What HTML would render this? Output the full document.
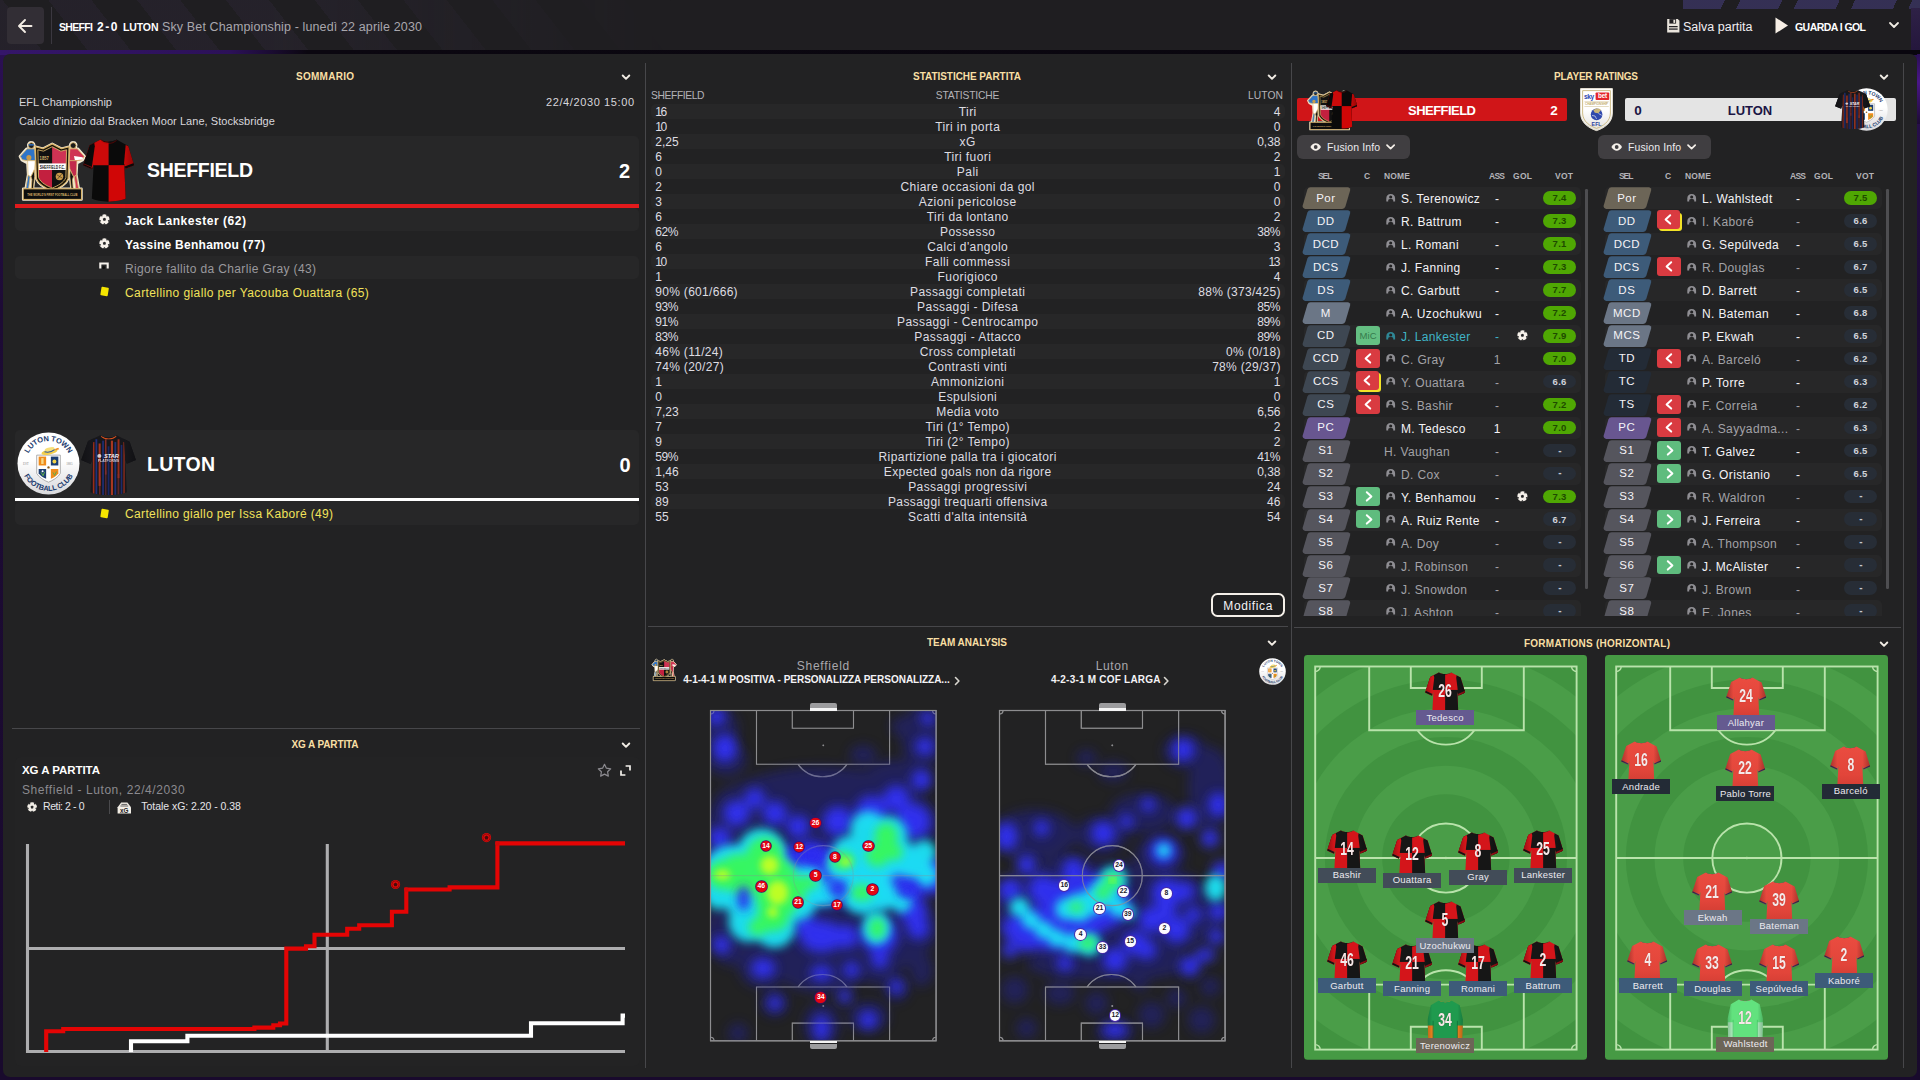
<!DOCTYPE html>
<html lang="it"><head><meta charset="utf-8"><title>Sheffield 2-0 Luton</title>
<style>
html,body{margin:0;padding:0;width:1920px;height:1080px;overflow:hidden}
body{position:relative;background:#190a2d;font-family:"Liberation Sans",sans-serif;-webkit-font-smoothing:antialiased}
body div,body span,body svg{position:absolute;white-space:nowrap}
body span{line-height:1;display:block}
svg{overflow:visible}
</style></head><body>
<svg width="0" height="0" style="left:0;top:0"><defs><linearGradient id="shade" x1="0" y1="0" x2="1" y2="0"><stop offset="0" stop-color="#000" stop-opacity=".28"/><stop offset=".18" stop-color="#000" stop-opacity="0"/><stop offset=".8" stop-color="#000" stop-opacity="0"/><stop offset="1" stop-color="#000" stop-opacity=".3"/></linearGradient><linearGradient id="lutg" x1="0" y1="0" x2="0" y2="1"><stop offset="0" stop-color="#ea4c40"/><stop offset=".55" stop-color="#e2453a"/><stop offset="1" stop-color="#c4372e"/></linearGradient></defs></svg>
<div style="left:0;top:52px;width:1920px;height:1028px;background:linear-gradient(180deg,#2b1053 0,#1d0b35 25%,#190a2d 100%)"></div>
<div style="left:0;top:0;width:1920px;height:52px;background:#1f1e21"></div>
<div style="left:0;top:0;width:900px;height:52px;background:repeating-linear-gradient(52deg,rgba(70,55,90,.17) 0 34px,rgba(0,0,0,0) 34px 70px);-webkit-mask-image:linear-gradient(90deg,#000 0,#000 30%,transparent 75%);mask-image:linear-gradient(90deg,#000 0,#000 30%,transparent 75%)"></div>
<div style="left:1683px;top:0;width:237px;height:8.5px;background:repeating-linear-gradient(115deg,#37325a 0 38px,#1f1e21 38px 52px);opacity:.9"></div>
<div style="left:1911px;top:8px;width:9px;height:44px;background:linear-gradient(180deg,#2e2146,#24163c)"></div>
<div style="left:0;top:50px;width:1920px;height:5px;background:linear-gradient(90deg,#35166a 0,#2c1158 12%,#0b0710 16%,#09060e 100%)"></div>
<div style="left:1917px;top:54px;width:3px;height:70px;background:linear-gradient(180deg,#2a0f55,#4a1688 40%,#1d0b35)"></div>
<div style="left:7px;top:7px;width:37px;height:37px;background:#322e35;border-radius:4px;"></div>
<svg style="left:15px;top:16px;" width="20" height="20"><path d="M16.5 10H4.5M10 4l-6 6 6 6" fill="none" stroke="#f3ece4" stroke-width="1.9" stroke-linecap="round" stroke-linejoin="round"/></svg>
<div style="left:51px;top:7px;width:1px;height:37px;background:#3b3840;"></div>
<span style="left:59px;top:22.21px;font-size:10.5px;color:#fff;font-weight:bold;letter-spacing:-0.67px;">SHEFFI</span>
<span style="left:97px;top:21.14px;font-size:12px;color:#fff;font-weight:bold;letter-spacing:1.58px;">2-0</span>
<span style="left:123px;top:22.21px;font-size:10.5px;color:#fff;font-weight:bold;letter-spacing:-0.12px;">LUTON</span>
<span style="left:162px;top:21.02px;font-size:12.5px;color:#a9a7ad;letter-spacing:0.13px;">Sky Bet Championship - lunedì 22 aprile 2030</span>
<svg style="left:1666.2px;top:18.2px;" width="14.6" height="15.6" viewBox="0 0 13 14"><path d="M1 1h9.5L12 2.5V13H1z" fill="#e9e4dc"/><rect x="3" y="1" width="6" height="4" fill="#1f1e21"/><rect x="6.6" y="1.6" width="1.6" height="2.8" fill="#e9e4dc"/><rect x="2.6" y="7.2" width="7.8" height="1.1" fill="#1f1e21"/><rect x="2.6" y="9.4" width="7.8" height="1.1" fill="#1f1e21"/></svg>
<span style="left:1683px;top:21.02px;font-size:12.5px;color:#f1eef2;">Salva partita</span>
<svg style="left:1775px;top:17px;" width="14" height="17"><path d="M0.5 0.5L13 8.5 0.5 16.5z" fill="#f7efe6"/></svg>
<span style="left:1795px;top:21.91px;font-size:10.5px;color:#fff;font-weight:bold;letter-spacing:-0.56px;">GUARDA I GOL</span>
<svg style="left:1889px;top:22px;" width="10" height="7"><path d="M1 1l4 4 4-4" fill="none" stroke="#f1ece4" stroke-width="1.8" stroke-linecap="round" stroke-linejoin="round"/></svg>
<div style="left:3px;top:54px;width:1914px;height:1023px;background:#222223;border-radius:7px;"></div>
<div style="left:645px;top:63px;width:1.4px;height:1005px;background:#47474a;"></div>
<div style="left:1291.1px;top:63px;width:1.4px;height:1005px;background:#47474a;"></div>
<div style="left:1903px;top:63px;width:1.4px;height:1005px;background:#47474a;"></div>
<div style="left:12px;top:727.5px;width:628px;height:1.3px;background:#47474a;"></div>
<div style="left:648px;top:625.8px;width:640px;height:1.4px;background:#47474a;"></div>
<div style="left:1293.5px;top:626.7px;width:607px;height:1.4px;background:#47474a;"></div>
<span style="left:296px;top:72.23px;font-size:10px;color:#f8dfa4;font-weight:bold;letter-spacing:0.27px;">SOMMARIO</span>
<svg style="left:621px;top:73.5px;" width="10" height="7"><path d="M1.7 1.5l3.3 3.3 3.3-3.3" fill="none" stroke="#f1ece4" stroke-width="1.9" stroke-linecap="round" stroke-linejoin="round"/></svg>
<span style="left:913px;top:72.23px;font-size:10px;color:#f8dfa4;font-weight:bold;letter-spacing:-0.04px;">STATISTICHE PARTITA</span>
<svg style="left:1267px;top:73.5px;" width="10" height="7"><path d="M1.7 1.5l3.3 3.3 3.3-3.3" fill="none" stroke="#f1ece4" stroke-width="1.9" stroke-linecap="round" stroke-linejoin="round"/></svg>
<span style="left:1554px;top:72.23px;font-size:10px;color:#f8dfa4;font-weight:bold;letter-spacing:-0.21px;">PLAYER RATINGS</span>
<svg style="left:1879px;top:73.5px;" width="10" height="7"><path d="M1.7 1.5l3.3 3.3 3.3-3.3" fill="none" stroke="#f1ece4" stroke-width="1.9" stroke-linecap="round" stroke-linejoin="round"/></svg>
<span style="left:291.5px;top:740.24px;font-size:10px;color:#f8dfa4;font-weight:bold;letter-spacing:-0.12px;">XG A PARTITA</span>
<svg style="left:621px;top:741.5px;" width="10" height="7"><path d="M1.7 1.5l3.3 3.3 3.3-3.3" fill="none" stroke="#f1ece4" stroke-width="1.9" stroke-linecap="round" stroke-linejoin="round"/></svg>
<span style="left:927px;top:638.24px;font-size:10px;color:#f8dfa4;font-weight:bold;letter-spacing:-0.03px;">TEAM ANALYSIS</span>
<svg style="left:1267px;top:639.5px;" width="10" height="7"><path d="M1.7 1.5l3.3 3.3 3.3-3.3" fill="none" stroke="#f1ece4" stroke-width="1.9" stroke-linecap="round" stroke-linejoin="round"/></svg>
<span style="left:1524px;top:639.24px;font-size:10px;color:#f8dfa4;font-weight:bold;letter-spacing:0.24px;">FORMATIONS (HORIZONTAL)</span>
<svg style="left:1879px;top:640.5px;" width="10" height="7"><path d="M1.7 1.5l3.3 3.3 3.3-3.3" fill="none" stroke="#f1ece4" stroke-width="1.9" stroke-linecap="round" stroke-linejoin="round"/></svg>
<span style="left:19px;top:96.69px;font-size:11px;color:#d8d6dc;letter-spacing:-0.01px;">EFL Championship</span>
<span style="left:19px;top:115.69px;font-size:11px;color:#d8d6dc;letter-spacing:0.05px;">Calcio d'inizio dal Bracken Moor Lane, Stocksbridge</span>
<span style="left:546px;top:96.69px;font-size:11px;color:#d8d6dc;letter-spacing:0.61px;">22/4/2030 15:00</span>
<div style="left:15px;top:136px;width:624px;height:72px;background:#272728;border-radius:5px 5px 0 0;"></div>
<div style="left:15px;top:204.3px;width:624px;height:3.5px;background:#e21a1c;"></div>
<svg style="left:16.6px;top:138.6px;" width="69.5" height="62.55" viewBox="-1 -0.5 72 63.8"><g stroke="#f3ead6" stroke-width="2.6" stroke-linejoin="round" fill="#f3ead6"><rect x="5.4" y="50.6" width="60.4" height="11" /><path d="M18 7L26 9 35.5 4 45 9 53 7 52 40C50 46 42 50 35.5 52.5 29 50 21 46 19 40z"/><path d="M13.8 2.5a3.2 3.2 0 1 1 -0.1 0M9 9H17.5L18 22 17 38 15.5 50.5H8L10.5 36 9.8 24 4 21 2 17z"/><path d="M57.2 2.5a3.2 3.2 0 1 0 0.1 0M62 9H53.5L53 22 54 38 55.5 50.5H63L60.5 36 61.2 24 67 21 69 17z"/></g><circle cx="13.8" cy="5.8" r="3" fill="#1a1a1a" stroke="#d9b46a" stroke-width=".9"/><path d="M11 4.3h5.6v1.5H11z" fill="#2f6fc0"/><path d="M9.5 9.2H17.3L18 21.5H10L4.5 20.5 2.4 17z" fill="#2e74c8" stroke="#d9b46a" stroke-width=".9" stroke-linejoin="round"/><circle cx="11.3" cy="18.3" r="2.6" fill="#c99a4a"/><path d="M10 21.5H18L17.2 30 13.5 38 10.5 36.5z" fill="#fff" stroke="#d9b46a" stroke-width=".6"/><path d="M13.5 38L17 31 17.3 38 15.8 50.5H13.8L14.5 41z" fill="#111" stroke="#d9b46a" stroke-width=".8"/><path d="M10.5 36.5L12.6 38 11 50.5H8.2z" fill="#2e74c8" stroke="#d9b46a" stroke-width=".8"/><circle cx="57.2" cy="5.8" r="3" fill="#1a1a1a" stroke="#d9b46a" stroke-width=".9"/><path d="M61.5 9.2H53.7L53 21.5H61L66.5 20.5 68.6 17z" fill="#cf3354" stroke="#d9b46a" stroke-width=".9" stroke-linejoin="round"/><path d="M58 16.5L67 18 67.5 20.3 59 21z" fill="#fff"/><path d="M61 21.5H53L53.8 30 57.5 38 60.5 36.5z" fill="#c22a4c" stroke="#d9b46a" stroke-width=".6"/><path d="M57.5 38L54 31 53.7 38 55.2 50.5H57.2L56.5 41z" fill="#111" stroke="#d9b46a" stroke-width=".8"/><path d="M60.5 36.5L58.4 38 60 50.5H62.8z" fill="#cf3354" stroke="#d9b46a" stroke-width=".8"/><defs><clipPath id="shc"><path d="M20.6 10.2L26.5 11.6 35.5 7 44.5 11.6 50.4 10.2 49.6 39C47.5 44.2 41 47.6 35.5 49.8 30 47.6 23.5 44.2 21.4 39z"/></clipPath></defs><path d="M18 7L26 9 35.5 4 45 9 53 7 52 40C50 46 42 50 35.5 52.5 29 50 21 46 19 40z" fill="#1a1408" stroke="#d9b46a" stroke-width="1.3" stroke-linejoin="round"/><g clip-path="url(#shc)"><rect x="18" y="4" width="17.4" height="21" fill="#111"/><rect x="35.4" y="4" width="18" height="21" fill="#cf3354"/><rect x="18" y="30" width="17.4" height="24" fill="#c3203f"/><rect x="35.4" y="30" width="18" height="24" fill="#111"/><rect x="18" y="24.3" width="36" height="6.8" fill="#fff"/></g><path d="M20.6 10.2L26.5 11.6 35.5 7 44.5 11.6 50.4 10.2 49.6 39C47.5 44.2 41 47.6 35.5 49.8 30 47.6 23.5 44.2 21.4 39z" fill="none" stroke="#d9b46a" stroke-width=".9"/><circle cx="43" cy="37.8" r="3.9" fill="#c99a4a"/><path d="M40 36l6 3.5M41 40.5l4.5-5.5" stroke="#111" stroke-width=".5"/><text x="27.2" y="20.4" font-size="4.8" font-weight="bold" fill="#d9b46a" text-anchor="middle" font-family="Liberation Sans,sans-serif" textLength="9.5" lengthAdjust="spacingAndGlyphs">1857</text><text x="35.6" y="29.9" font-size="4.6" font-weight="bold" fill="#111" text-anchor="middle" font-family="Liberation Sans,sans-serif" textLength="26" lengthAdjust="spacingAndGlyphs">SHEFFIELD F.C.</text><rect x="5.4" y="50.6" width="60.4" height="11" fill="#0d0d0d" stroke="#d9b46a" stroke-width="1.1"/><text x="35.6" y="57.6" font-size="3.5" font-weight="bold" fill="#d9b46a" text-anchor="middle" font-family="Liberation Sans,sans-serif" textLength="52" lengthAdjust="spacingAndGlyphs">THE WORLD'S FIRST FOOTBALL CLUB</text></svg>
<svg style="left:83px;top:138.7px;overflow:hidden" width="51.5" height="63.3" viewBox="0 0 70 86" preserveAspectRatio="none"><defs><clipPath id="sc1"><path d="M24 0.8 C29 4.5 40.5 4.5 45.5 0.8 L61.5 9.5 L69.5 35.5 L57.8 40.5 L56 34.5 L58 81 C48 86.5 21 86.5 12 81 L14.5 34.5 L12.3 41 L0.3 35.5 L9 8.5 Z"/></clipPath></defs><g clip-path="url(#sc1)"><rect width="70" height="90" fill="#0a0a0a"/><path d="M9 0H34.8V35.5H14L12 42 0 36z" fill="#cc0a0a"/><path d="M0 0H14.5L16 10 11.5 42 0 38z" fill="#0a0a0a"/><rect x="34.8" y="35.5" width="30" height="55" fill="#d00606"/><path d="M58 8L70 12V40L57.8 40.5 55.8 33z" fill="#c80808"/><path d="M56.5 37.5L69.5 32.5 70 37 58 42z" fill="#0a0a0a"/><path d="M0.5 33.5L12.8 38.8" stroke="#c01010" stroke-width="0.9" fill="none"/><path d="M23 0C29 7 41 7 46.5 0L45 -1H25z" fill="#111"/><path d="M24 1.5C30 7.5 40 7.5 45.8 1.5" stroke="#a00" stroke-width="0.6" fill="none"/><rect x="0" y="0" width="70" height="90" fill="url(#shade)"/></g></svg>
<span style="left:147px;top:161.29px;font-size:19.5px;color:#fff;font-weight:bold;letter-spacing:-0.29px;">SHEFFIELD</span>
<span style="left:618.88px;top:161.27px;font-size:20px;color:#fff;font-weight:bold;">2</span>
<div style="left:15px;top:208.3px;width:624px;height:23.2px;background:#272728;border-radius:5px;"></div>
<span style="left:125px;top:214.74px;font-size:12px;color:#fff;font-weight:bold;letter-spacing:0.53px;">Jack Lankester (62)</span>
<svg style="left:98.7px;top:214.4px;" width="10.8" height="10.8" viewBox="0 0 12 12"><circle cx="6" cy="6" r="5.7" fill="#f6f1ea"/><path d="M8.02 0.14L10.95 2.27L8.29 2.84zM12.20 6.11L11.08 9.56L9.71 7.21zM7.81 11.93L4.19 11.93L6.00 9.90zM0.92 9.56L-0.20 6.11L2.29 7.21zM1.05 2.27L3.98 0.14L3.71 2.84zM6.00 4.10L7.81 5.41L7.12 7.54L4.88 7.54L4.19 5.41z" fill="#272728"/></svg>
<span style="left:125px;top:238.74px;font-size:12px;color:#fff;font-weight:bold;letter-spacing:0.26px;">Yassine Benhamou (77)</span>
<svg style="left:98.7px;top:238.4px;" width="10.8" height="10.8" viewBox="0 0 12 12"><circle cx="6" cy="6" r="5.7" fill="#f6f1ea"/><path d="M8.02 0.14L10.95 2.27L8.29 2.84zM12.20 6.11L11.08 9.56L9.71 7.21zM7.81 11.93L4.19 11.93L6.00 9.90zM0.92 9.56L-0.20 6.11L2.29 7.21zM1.05 2.27L3.98 0.14L3.71 2.84zM6.00 4.10L7.81 5.41L7.12 7.54L4.88 7.54L4.19 5.41z" fill="#272728"/></svg>
<div style="left:15px;top:256.3px;width:624px;height:23.2px;background:#272728;border-radius:5px;"></div>
<span style="left:125px;top:262.74px;font-size:12px;color:#9a999d;letter-spacing:0.36px;">Rigore fallito da Charlie Gray (43)</span>
<svg style="left:98.8px;top:262.4px;" width="10" height="8"><path d="M1.3 6.4V1.5h7.4V6.4" fill="none" stroke="#f4f0ea" stroke-width="2.1"/><circle cx="4.6" cy="5.6" r="1.5" fill="#0c0c0c"/></svg>
<span style="left:125px;top:286.74px;font-size:12px;color:#f2e35a;letter-spacing:0.4px;">Cartellino giallo per Yacouba Ouattara (65)</span>
<svg style="left:98.5px;top:286px;" width="11" height="11"><rect x="1.9" y="1.2" width="7.4" height="8.6" rx=".9" fill="#f5e500" transform="rotate(9 5.6 5.5)"/></svg>
<div style="left:15px;top:430px;width:624px;height:71.5px;background:#272728;border-radius:5px 5px 0 0;"></div>
<div style="left:15px;top:498px;width:624px;height:3.3px;background:#fff;"></div>
<svg style="left:17px;top:432px;" width="63" height="63" viewBox="0 0 64 64"><defs><linearGradient id="lg1" x1="0" y1="0" x2="0" y2="1"><stop offset="0.45" stop-color="#fff"/><stop offset="1" stop-color="#d9d9dc"/></linearGradient><path id="lt1" d="M9.2 32A22.8 22.8 0 0 1 54.8 32"/><path id="lb1" d="M4.2 32A27.8 27.8 0 0 0 59.8 32"/></defs><circle cx="32" cy="32" r="31.5" fill="url(#lg1)"/><text font-size="7.6" font-weight="bold" fill="#1b3a6e" font-family="Liberation Sans,sans-serif" letter-spacing="-.1"><textPath href="#lt1" startOffset="50%" text-anchor="middle">LUTON TOWN</textPath></text><text font-size="7.4" font-weight="bold" fill="#1b3a6e" font-family="Liberation Sans,sans-serif" letter-spacing="-.1"><textPath href="#lb1" startOffset="50%" text-anchor="middle">FOOTBALL CLUB</textPath></text><text x="9" y="34" font-size="3.2" fill="#8a8a8a" text-anchor="middle" font-family="Liberation Serif,serif">EST</text><text x="53.2" y="34" font-size="3.2" fill="#8a8a8a" text-anchor="middle" font-family="Liberation Serif,serif">1885</text><path d="M20 23.5H44V42C42 46 36 49.5 32 51 28 49.5 22 46 20 42z" fill="#fff" stroke="#9a9a9a" stroke-width=".8"/><rect x="22" y="25" width="7.6" height="9" fill="#f08c1c"/><rect x="34.4" y="25" width="7.6" height="9" fill="#1d3f73"/><path d="M22 37.5h7.6V47.5C26.5 46.5 23.5 44.5 22 42z" fill="#1d3f73"/><path d="M34.4 37.5H42V42C40.5 44.5 37.5 46.5 34.4 47.5z" fill="#f08c1c"/><circle cx="38" cy="30" r="2" fill="#f2d44a"/><rect x="24.6" y="26.5" width="2.4" height="6" fill="#f7d98a"/><path d="M24.5 41l2 3.5 1.5-4" stroke="#5fae4a" stroke-width="1" fill="none"/><path d="M36.5 41l1.8 3.2 1.7-4" stroke="#5fae4a" stroke-width="1" fill="none"/><circle cx="26" cy="39.8" r="1" fill="#fff"/><circle cx="32" cy="36" r="1.2" fill="#8a5a1a"/><ellipse cx="33" cy="20.3" rx="8.3" ry="2.7" fill="#f2cf4e" transform="rotate(-12 33 20.3)"/><ellipse cx="33.2" cy="17.8" rx="5.2" ry="2.2" fill="#f7e07a" transform="rotate(-12 33.2 17.8)"/><path d="M28 20.1c3 .8 7.5 0 10.2-2.2" stroke="#2b56a0" stroke-width="1.1" fill="none"/><path d="M38.5 17.2l3.4-1.2 1 1.6-3.6.9z" fill="#f08c1c"/></svg>
<svg style="left:81px;top:434.6px;overflow:hidden" width="55.3" height="60.8" viewBox="0 0 70 86" preserveAspectRatio="none"><defs><clipPath id="sc2"><path d="M24 0.8 C29 4.5 40.5 4.5 45.5 0.8 L61.5 9.5 L69.5 35.5 L57.8 40.5 L56 34.5 L58 81 C48 86.5 21 86.5 12 81 L14.5 34.5 L12.3 41 L0.3 35.5 L9 8.5 Z"/></clipPath></defs><g clip-path="url(#sc2)"><rect width="70" height="90" fill="#17171b"/><rect x="15" y="10" width="2" height="80" fill="#b8321c" opacity="0.8"/><rect x="18.3" y="6" width="2.3" height="84" fill="#22368c" opacity="0.85"/><rect x="22.3" y="12" width="2.6" height="60" fill="#c43a1e" opacity="0.85"/><rect x="22.8" y="60" width="2" height="30" fill="#a33226" opacity="0.6"/><rect x="26.8" y="8" width="2.2" height="84" fill="#203488" opacity="0.8"/><rect x="30.3" y="6" width="2" height="50" fill="#a8342a" opacity="0.75"/><rect x="30.3" y="50" width="2" height="40" fill="#7a2e3a" opacity="0.6"/><rect x="33.8" y="16" width="2.2" height="70" fill="#1b2c78" opacity="0.8"/><rect x="37.8" y="8" width="2.7" height="84" fill="#c23e22" opacity="0.85"/><rect x="42.3" y="10" width="2.3" height="80" fill="#22368c" opacity="0.8"/><rect x="46.3" y="6" width="2.4" height="55" fill="#b8321c" opacity="0.8"/><rect x="46.3" y="55" width="2.2" height="35" fill="#8c3030" opacity="0.6"/><rect x="50.3" y="14" width="2" height="72" fill="#1f3080" opacity="0.8"/><rect x="53.6" y="10" width="1.8" height="80" fill="#b0341f" opacity="0.75"/><path d="M0 0H16L14 34 12 42 0 38z" fill="#17171b"/><path d="M70 0H54L56 34 58 42 70 38z" fill="#17171b"/><path d="M23 0C29 7.5 41 7.5 46.5 0L45 -1H25z" fill="#17171b"/><path d="M25.5 1.6C30 6.8 40 6.8 44.5 1.6" stroke="#d8501c" stroke-width="1.3" fill="none"/><circle cx="23.2" cy="29.6" r="2.6" fill="#e9e9ee" opacity=".85"/><text x="38.5" y="32.6" font-size="8.2" font-weight="bold" font-style="italic" fill="#f1f1f4" text-anchor="middle" font-family="Liberation Sans,sans-serif" textLength="19" lengthAdjust="spacingAndGlyphs">STAR</text><text x="34.8" y="37.6" font-size="4.2" font-weight="bold" fill="#e4e4ea" opacity=".85" text-anchor="middle" font-family="Liberation Sans,sans-serif" textLength="27" lengthAdjust="spacingAndGlyphs">PLATFORMS</text><rect x="0" y="0" width="70" height="90" fill="url(#shade)"/></g></svg>
<span style="left:147px;top:454.99px;font-size:19.5px;color:#fff;font-weight:bold;letter-spacing:0.3px;">LUTON</span>
<span style="left:619.38px;top:454.87px;font-size:20px;color:#fff;font-weight:bold;">0</span>
<div style="left:15px;top:502.3px;width:624px;height:23.2px;background:#272728;border-radius:5px;"></div>
<span style="left:125px;top:508.44px;font-size:12px;color:#f2e35a;letter-spacing:0.36px;">Cartellino giallo per Issa Kaboré (49)</span>
<svg style="left:98.5px;top:508px;" width="11" height="11"><rect x="1.9" y="1.2" width="7.4" height="8.6" rx=".9" fill="#f5e500" transform="rotate(9 5.6 5.5)"/></svg>
<span style="left:651px;top:91.28px;font-size:10.3px;color:#b4b3b8;letter-spacing:-0.39px;">SHEFFIELD</span>
<span style="left:935.75px;top:91.28px;font-size:10.3px;color:#b4b3b8;letter-spacing:-0.19px;">STATISTICHE</span>
<span style="left:1248px;top:91.28px;font-size:10.3px;color:#b4b3b8;letter-spacing:0.07px;">LUTON</span>
<div style="left:651px;top:104px;width:634px;height:15px;background:#272728;border-radius:5px;"></div>
<span style="left:655.3px;top:106.04px;font-size:12px;color:#dedde2;letter-spacing:-1.4px;">16</span>
<span style="left:958.76px;top:106.04px;font-size:12px;color:#dedde2;letter-spacing:0.42px;">Tiri</span>
<span style="left:1273.83px;top:106.04px;font-size:12px;color:#dedde2;letter-spacing:0.1px;">4</span>
<span style="left:655.3px;top:121.04px;font-size:12px;color:#dedde2;letter-spacing:-1.4px;">10</span>
<span style="left:935.2px;top:121.04px;font-size:12px;color:#dedde2;letter-spacing:0.42px;">Tiri in porta</span>
<span style="left:1273.83px;top:121.04px;font-size:12px;color:#dedde2;letter-spacing:0.1px;">0</span>
<div style="left:651px;top:134px;width:634px;height:15px;background:#272728;border-radius:5px;"></div>
<span style="left:655.3px;top:136.04px;font-size:12px;color:#dedde2;">2,25</span>
<span style="left:959.62px;top:136.04px;font-size:12px;color:#dedde2;letter-spacing:0.42px;">xG</span>
<span style="left:1257.15px;top:136.04px;font-size:12px;color:#dedde2;">0,38</span>
<span style="left:655.3px;top:151.04px;font-size:12px;color:#dedde2;letter-spacing:0.1px;">6</span>
<span style="left:944.17px;top:151.04px;font-size:12px;color:#dedde2;letter-spacing:0.42px;">Tiri fuori</span>
<span style="left:1273.83px;top:151.04px;font-size:12px;color:#dedde2;letter-spacing:0.1px;">2</span>
<div style="left:651px;top:164px;width:634px;height:15px;background:#272728;border-radius:5px;"></div>
<span style="left:655.3px;top:166.04px;font-size:12px;color:#dedde2;letter-spacing:0.1px;">0</span>
<span style="left:956.87px;top:166.04px;font-size:12px;color:#dedde2;letter-spacing:0.42px;">Pali</span>
<span style="left:1273.83px;top:166.04px;font-size:12px;color:#dedde2;">1</span>
<span style="left:655.3px;top:181.04px;font-size:12px;color:#dedde2;letter-spacing:0.1px;">2</span>
<span style="left:900.51px;top:181.04px;font-size:12px;color:#dedde2;letter-spacing:0.42px;">Chiare occasioni da gol</span>
<span style="left:1273.83px;top:181.04px;font-size:12px;color:#dedde2;letter-spacing:0.1px;">0</span>
<div style="left:651px;top:194px;width:634px;height:15px;background:#272728;border-radius:5px;"></div>
<span style="left:655.3px;top:196.04px;font-size:12px;color:#dedde2;letter-spacing:0.1px;">3</span>
<span style="left:918.78px;top:196.04px;font-size:12px;color:#dedde2;letter-spacing:0.42px;">Azioni pericolose</span>
<span style="left:1273.83px;top:196.04px;font-size:12px;color:#dedde2;letter-spacing:0.1px;">0</span>
<span style="left:655.3px;top:211.04px;font-size:12px;color:#dedde2;letter-spacing:0.1px;">6</span>
<span style="left:926.76px;top:211.04px;font-size:12px;color:#dedde2;letter-spacing:0.42px;">Tiri da lontano</span>
<span style="left:1273.83px;top:211.04px;font-size:12px;color:#dedde2;letter-spacing:0.1px;">2</span>
<div style="left:651px;top:224px;width:634px;height:15px;background:#272728;border-radius:5px;"></div>
<span style="left:655.3px;top:226.04px;font-size:12px;color:#dedde2;letter-spacing:-0.4px;">62%</span>
<span style="left:940.02px;top:226.04px;font-size:12px;color:#dedde2;letter-spacing:0.42px;">Possesso</span>
<span style="left:1257.28px;top:226.04px;font-size:12px;color:#dedde2;letter-spacing:-0.4px;">38%</span>
<span style="left:655.3px;top:241.04px;font-size:12px;color:#dedde2;letter-spacing:0.1px;">6</span>
<span style="left:927.27px;top:241.04px;font-size:12px;color:#dedde2;letter-spacing:0.42px;">Calci d'angolo</span>
<span style="left:1273.83px;top:241.04px;font-size:12px;color:#dedde2;letter-spacing:0.1px;">3</span>
<div style="left:651px;top:254px;width:634px;height:15px;background:#272728;border-radius:5px;"></div>
<span style="left:655.3px;top:256.04px;font-size:12px;color:#dedde2;letter-spacing:-1.4px;">10</span>
<span style="left:925.1px;top:256.04px;font-size:12px;color:#dedde2;letter-spacing:0.42px;">Falli commessi</span>
<span style="left:1268.55px;top:256.04px;font-size:12px;color:#dedde2;letter-spacing:-1.4px;">13</span>
<span style="left:655.3px;top:271.04px;font-size:12px;color:#dedde2;">1</span>
<span style="left:937.6px;top:271.04px;font-size:12px;color:#dedde2;letter-spacing:0.42px;">Fuorigioco</span>
<span style="left:1273.83px;top:271.04px;font-size:12px;color:#dedde2;letter-spacing:0.1px;">4</span>
<div style="left:651px;top:284px;width:634px;height:15px;background:#272728;border-radius:5px;"></div>
<span style="left:655.3px;top:286.04px;font-size:12px;color:#dedde2;letter-spacing:0.3px;">90% (601/666)</span>
<span style="left:910.03px;top:286.04px;font-size:12px;color:#dedde2;letter-spacing:0.42px;">Passaggi completati</span>
<span style="left:1198.19px;top:286.04px;font-size:12px;color:#dedde2;letter-spacing:0.3px;">88% (373/425)</span>
<span style="left:655.3px;top:301.04px;font-size:12px;color:#dedde2;letter-spacing:-0.4px;">93%</span>
<span style="left:917.12px;top:301.04px;font-size:12px;color:#dedde2;letter-spacing:0.42px;">Passaggi - Difesa</span>
<span style="left:1257.28px;top:301.04px;font-size:12px;color:#dedde2;letter-spacing:-0.4px;">85%</span>
<div style="left:651px;top:314px;width:634px;height:15px;background:#272728;border-radius:5px;"></div>
<span style="left:655.3px;top:316.04px;font-size:12px;color:#dedde2;letter-spacing:-0.4px;">91%</span>
<span style="left:897.06px;top:316.04px;font-size:12px;color:#dedde2;letter-spacing:0.42px;">Passaggi - Centrocampo</span>
<span style="left:1257.28px;top:316.04px;font-size:12px;color:#dedde2;letter-spacing:-0.4px;">89%</span>
<span style="left:655.3px;top:331.04px;font-size:12px;color:#dedde2;letter-spacing:-0.4px;">83%</span>
<span style="left:914.24px;top:331.04px;font-size:12px;color:#dedde2;letter-spacing:0.42px;">Passaggi - Attacco</span>
<span style="left:1257.28px;top:331.04px;font-size:12px;color:#dedde2;letter-spacing:-0.4px;">89%</span>
<div style="left:651px;top:344px;width:634px;height:15px;background:#272728;border-radius:5px;"></div>
<span style="left:655.3px;top:346.04px;font-size:12px;color:#dedde2;letter-spacing:0.3px;">46% (11/24)</span>
<span style="left:919.67px;top:346.04px;font-size:12px;color:#dedde2;letter-spacing:0.42px;">Cross completati</span>
<span style="left:1226.08px;top:346.04px;font-size:12px;color:#dedde2;letter-spacing:0.3px;">0% (0/18)</span>
<span style="left:655.3px;top:361.04px;font-size:12px;color:#dedde2;letter-spacing:0.3px;">74% (20/27)</span>
<span style="left:928.22px;top:361.04px;font-size:12px;color:#dedde2;letter-spacing:0.42px;">Contrasti vinti</span>
<span style="left:1212.13px;top:361.04px;font-size:12px;color:#dedde2;letter-spacing:0.3px;">78% (29/37)</span>
<div style="left:651px;top:374px;width:634px;height:15px;background:#272728;border-radius:5px;"></div>
<span style="left:655.3px;top:376.04px;font-size:12px;color:#dedde2;">1</span>
<span style="left:931.06px;top:376.04px;font-size:12px;color:#dedde2;letter-spacing:0.42px;">Ammonizioni</span>
<span style="left:1273.83px;top:376.04px;font-size:12px;color:#dedde2;">1</span>
<span style="left:655.3px;top:391.04px;font-size:12px;color:#dedde2;letter-spacing:0.1px;">0</span>
<span style="left:938.26px;top:391.04px;font-size:12px;color:#dedde2;letter-spacing:0.42px;">Espulsioni</span>
<span style="left:1273.83px;top:391.04px;font-size:12px;color:#dedde2;letter-spacing:0.1px;">0</span>
<div style="left:651px;top:404px;width:634px;height:15px;background:#272728;border-radius:5px;"></div>
<span style="left:655.3px;top:406.04px;font-size:12px;color:#dedde2;">7,23</span>
<span style="left:936.26px;top:406.04px;font-size:12px;color:#dedde2;letter-spacing:0.42px;">Media voto</span>
<span style="left:1257.15px;top:406.04px;font-size:12px;color:#dedde2;">6,56</span>
<span style="left:655.3px;top:421.04px;font-size:12px;color:#dedde2;letter-spacing:0.1px;">7</span>
<span style="left:925.49px;top:421.04px;font-size:12px;color:#dedde2;letter-spacing:0.42px;">Tiri (1° Tempo)</span>
<span style="left:1273.83px;top:421.04px;font-size:12px;color:#dedde2;letter-spacing:0.1px;">2</span>
<div style="left:651px;top:434px;width:634px;height:15px;background:#272728;border-radius:5px;"></div>
<span style="left:655.3px;top:436.04px;font-size:12px;color:#dedde2;letter-spacing:0.1px;">9</span>
<span style="left:925.49px;top:436.04px;font-size:12px;color:#dedde2;letter-spacing:0.42px;">Tiri (2° Tempo)</span>
<span style="left:1273.83px;top:436.04px;font-size:12px;color:#dedde2;letter-spacing:0.1px;">2</span>
<span style="left:655.3px;top:451.04px;font-size:12px;color:#dedde2;letter-spacing:-0.4px;">59%</span>
<span style="left:878.53px;top:451.04px;font-size:12px;color:#dedde2;letter-spacing:0.42px;">Ripartizione palla tra i giocatori</span>
<span style="left:1257.28px;top:451.04px;font-size:12px;color:#dedde2;letter-spacing:-0.4px;">41%</span>
<div style="left:651px;top:464px;width:634px;height:15px;background:#272728;border-radius:5px;"></div>
<span style="left:655.3px;top:466.04px;font-size:12px;color:#dedde2;">1,46</span>
<span style="left:883.78px;top:466.04px;font-size:12px;color:#dedde2;letter-spacing:0.42px;">Expected goals non da rigore</span>
<span style="left:1257.15px;top:466.04px;font-size:12px;color:#dedde2;">0,38</span>
<span style="left:655.3px;top:481.04px;font-size:12px;color:#dedde2;letter-spacing:0.1px;">53</span>
<span style="left:908.15px;top:481.04px;font-size:12px;color:#dedde2;letter-spacing:0.42px;">Passaggi progressivi</span>
<span style="left:1267.05px;top:481.04px;font-size:12px;color:#dedde2;letter-spacing:0.1px;">24</span>
<div style="left:651px;top:494px;width:634px;height:15px;background:#272728;border-radius:5px;"></div>
<span style="left:655.3px;top:496.04px;font-size:12px;color:#dedde2;letter-spacing:0.1px;">89</span>
<span style="left:887.9px;top:496.04px;font-size:12px;color:#dedde2;letter-spacing:0.42px;">Passaggi trequarti offensiva</span>
<span style="left:1267.05px;top:496.04px;font-size:12px;color:#dedde2;letter-spacing:0.1px;">46</span>
<span style="left:655.3px;top:511.04px;font-size:12px;color:#dedde2;letter-spacing:0.1px;">55</span>
<span style="left:908.04px;top:511.04px;font-size:12px;color:#dedde2;letter-spacing:0.42px;">Scatti d'alta intensità</span>
<span style="left:1267.05px;top:511.04px;font-size:12px;color:#dedde2;letter-spacing:0.1px;">54</span>
<div style="left:1211.3px;top:593px;width:73.6px;height:24.2px;border:2px solid #f4efe8;border-radius:6.5px;box-sizing:border-box;background:#1f1f20"></div>
<span style="left:1223.3px;top:599.84px;font-size:12px;color:#f4f2f5;letter-spacing:0.62px;">Modifica</span>
<div style="left:1297px;top:98px;width:270px;height:23px;background:#d01518;border-radius:2px;"></div>
<span style="left:1408px;top:104.2px;font-size:13px;color:#fff;font-weight:bold;letter-spacing:-0.53px;">SHEFFIELD</span>
<span style="left:1550.25px;top:103.77px;font-size:13.5px;color:#fff;font-weight:bold;">2</span>
<svg style="left:1305.5px;top:88.6px;" width="46.5" height="41.85" viewBox="-1 -0.5 72 63.8"><g stroke="#f3ead6" stroke-width="2.6" stroke-linejoin="round" fill="#f3ead6"><rect x="5.4" y="50.6" width="60.4" height="11" /><path d="M18 7L26 9 35.5 4 45 9 53 7 52 40C50 46 42 50 35.5 52.5 29 50 21 46 19 40z"/><path d="M13.8 2.5a3.2 3.2 0 1 1 -0.1 0M9 9H17.5L18 22 17 38 15.5 50.5H8L10.5 36 9.8 24 4 21 2 17z"/><path d="M57.2 2.5a3.2 3.2 0 1 0 0.1 0M62 9H53.5L53 22 54 38 55.5 50.5H63L60.5 36 61.2 24 67 21 69 17z"/></g><circle cx="13.8" cy="5.8" r="3" fill="#1a1a1a" stroke="#d9b46a" stroke-width=".9"/><path d="M11 4.3h5.6v1.5H11z" fill="#2f6fc0"/><path d="M9.5 9.2H17.3L18 21.5H10L4.5 20.5 2.4 17z" fill="#2e74c8" stroke="#d9b46a" stroke-width=".9" stroke-linejoin="round"/><circle cx="11.3" cy="18.3" r="2.6" fill="#c99a4a"/><path d="M10 21.5H18L17.2 30 13.5 38 10.5 36.5z" fill="#fff" stroke="#d9b46a" stroke-width=".6"/><path d="M13.5 38L17 31 17.3 38 15.8 50.5H13.8L14.5 41z" fill="#111" stroke="#d9b46a" stroke-width=".8"/><path d="M10.5 36.5L12.6 38 11 50.5H8.2z" fill="#2e74c8" stroke="#d9b46a" stroke-width=".8"/><circle cx="57.2" cy="5.8" r="3" fill="#1a1a1a" stroke="#d9b46a" stroke-width=".9"/><path d="M61.5 9.2H53.7L53 21.5H61L66.5 20.5 68.6 17z" fill="#cf3354" stroke="#d9b46a" stroke-width=".9" stroke-linejoin="round"/><path d="M58 16.5L67 18 67.5 20.3 59 21z" fill="#fff"/><path d="M61 21.5H53L53.8 30 57.5 38 60.5 36.5z" fill="#c22a4c" stroke="#d9b46a" stroke-width=".6"/><path d="M57.5 38L54 31 53.7 38 55.2 50.5H57.2L56.5 41z" fill="#111" stroke="#d9b46a" stroke-width=".8"/><path d="M60.5 36.5L58.4 38 60 50.5H62.8z" fill="#cf3354" stroke="#d9b46a" stroke-width=".8"/><defs><clipPath id="shc"><path d="M20.6 10.2L26.5 11.6 35.5 7 44.5 11.6 50.4 10.2 49.6 39C47.5 44.2 41 47.6 35.5 49.8 30 47.6 23.5 44.2 21.4 39z"/></clipPath></defs><path d="M18 7L26 9 35.5 4 45 9 53 7 52 40C50 46 42 50 35.5 52.5 29 50 21 46 19 40z" fill="#1a1408" stroke="#d9b46a" stroke-width="1.3" stroke-linejoin="round"/><g clip-path="url(#shc)"><rect x="18" y="4" width="17.4" height="21" fill="#111"/><rect x="35.4" y="4" width="18" height="21" fill="#cf3354"/><rect x="18" y="30" width="17.4" height="24" fill="#c3203f"/><rect x="35.4" y="30" width="18" height="24" fill="#111"/><rect x="18" y="24.3" width="36" height="6.8" fill="#fff"/></g><path d="M20.6 10.2L26.5 11.6 35.5 7 44.5 11.6 50.4 10.2 49.6 39C47.5 44.2 41 47.6 35.5 49.8 30 47.6 23.5 44.2 21.4 39z" fill="none" stroke="#d9b46a" stroke-width=".9"/><circle cx="43" cy="37.8" r="3.9" fill="#c99a4a"/><path d="M40 36l6 3.5M41 40.5l4.5-5.5" stroke="#111" stroke-width=".5"/><text x="27.2" y="20.4" font-size="4.8" font-weight="bold" fill="#d9b46a" text-anchor="middle" font-family="Liberation Sans,sans-serif" textLength="9.5" lengthAdjust="spacingAndGlyphs">1857</text><text x="35.6" y="29.9" font-size="4.6" font-weight="bold" fill="#111" text-anchor="middle" font-family="Liberation Sans,sans-serif" textLength="26" lengthAdjust="spacingAndGlyphs">SHEFFIELD F.C.</text><rect x="5.4" y="50.6" width="60.4" height="11" fill="#0d0d0d" stroke="#d9b46a" stroke-width="1.1"/><text x="35.6" y="57.6" font-size="3.5" font-weight="bold" fill="#d9b46a" text-anchor="middle" font-family="Liberation Sans,sans-serif" textLength="52" lengthAdjust="spacingAndGlyphs">THE WORLD'S FIRST FOOTBALL CLUB</text></svg>
<svg style="left:1325.7px;top:90.4px;overflow:hidden" width="31.6" height="39" viewBox="0 0 70 86" preserveAspectRatio="none"><defs><clipPath id="sc3"><path d="M24 0.8 C29 4.5 40.5 4.5 45.5 0.8 L61.5 9.5 L69.5 35.5 L57.8 40.5 L56 34.5 L58 81 C48 86.5 21 86.5 12 81 L14.5 34.5 L12.3 41 L0.3 35.5 L9 8.5 Z"/></clipPath></defs><g clip-path="url(#sc3)"><rect width="70" height="90" fill="#0a0a0a"/><path d="M9 0H34.8V35.5H14L12 42 0 36z" fill="#cc0a0a"/><path d="M0 0H14.5L16 10 11.5 42 0 38z" fill="#0a0a0a"/><rect x="34.8" y="35.5" width="30" height="55" fill="#d00606"/><path d="M58 8L70 12V40L57.8 40.5 55.8 33z" fill="#c80808"/><path d="M56.5 37.5L69.5 32.5 70 37 58 42z" fill="#0a0a0a"/><path d="M0.5 33.5L12.8 38.8" stroke="#c01010" stroke-width="0.9" fill="none"/><path d="M23 0C29 7 41 7 46.5 0L45 -1H25z" fill="#111"/><path d="M24 1.5C30 7.5 40 7.5 45.8 1.5" stroke="#a00" stroke-width="0.6" fill="none"/><rect x="0" y="0" width="70" height="90" fill="url(#shade)"/></g></svg>
<svg style="left:1580px;top:88px;" width="33" height="43.2" viewBox="0 0 33 43.2"><defs><linearGradient id="eflg" x1="0" y1="0" x2="0" y2="1"><stop offset=".5" stop-color="#fff"/><stop offset="1" stop-color="#e2e0dc"/></linearGradient></defs><path d="M.6.6H32.4V25C32.4 35.5 23 40.5 16.5 42.6 10 40.5.6 35.5.6 25z" fill="url(#eflg)" stroke="#e9e4d6" stroke-width="1"/><path d="M2.6 2.6H30.4V25C30.4 33.8 22.4 38.4 16.5 40.4 10.6 38.4 2.6 33.8 2.6 25z" fill="none" stroke="#c9b57a" stroke-width=".9"/><text x="4" y="10.6" font-size="6.6" font-weight="bold" fill="#2a44b0" font-family="Liberation Sans,sans-serif" letter-spacing="-.4">sky</text><rect x="15.6" y="4.4" width="13.6" height="7.6" rx=".8" fill="#e4262c"/><text x="22.4" y="10.4" font-size="6.4" font-weight="bold" fill="#fff" text-anchor="middle" font-family="Liberation Sans,sans-serif" letter-spacing="-.3">bet</text><rect x="4.4" y="13.6" width="24.4" height="0.5" fill="#cdbb84"/><text x="16.6" y="17" font-size="2.9" font-weight="bold" fill="#c2ad6e" text-anchor="middle" font-family="Liberation Sans,sans-serif" textLength="23" lengthAdjust="spacingAndGlyphs">CHAMPIONSHIP</text><rect x="4.4" y="18" width="24.4" height="0.5" fill="#cdbb84"/><circle cx="16.6" cy="26.4" r="5.8" fill="#3049ad"/><path d="M13.4 22.2c2-2 5.4-2.2 7.6-.3l-2.6 3.3-3.6-.4z" fill="#c9b57a"/><path d="M12 27.5l3 .5 1.6 3M18.5 25.5l3.2 1.8" stroke="#fff" stroke-width=".6" fill="none"/><text x="16.6" y="37.6" font-size="5.6" font-weight="bold" fill="#2a3f9e" text-anchor="middle" font-family="Liberation Sans,sans-serif" textLength="10" lengthAdjust="spacingAndGlyphs">EFL</text></svg>
<div style="left:1625px;top:98px;width:271px;height:23px;background:#e4e4e4;border-radius:2px;"></div>
<span style="left:1634.25px;top:103.77px;font-size:13.5px;color:#1b1545;font-weight:bold;">0</span>
<span style="left:1727.75px;top:104.2px;font-size:13px;color:#1b1545;font-weight:bold;letter-spacing:-0.01px;">LUTON</span>
<svg style="left:1844.5px;top:88px;" width="43" height="43" viewBox="0 0 64 64"><defs><linearGradient id="lg2" x1="0" y1="0" x2="0" y2="1"><stop offset="0.45" stop-color="#fff"/><stop offset="1" stop-color="#d9d9dc"/></linearGradient><path id="lt2" d="M9.2 32A22.8 22.8 0 0 1 54.8 32"/><path id="lb2" d="M4.2 32A27.8 27.8 0 0 0 59.8 32"/></defs><circle cx="32" cy="32" r="31.5" fill="url(#lg2)"/><text font-size="7.6" font-weight="bold" fill="#1b3a6e" font-family="Liberation Sans,sans-serif" letter-spacing="-.1"><textPath href="#lt2" startOffset="50%" text-anchor="middle">LUTON TOWN</textPath></text><text font-size="7.4" font-weight="bold" fill="#1b3a6e" font-family="Liberation Sans,sans-serif" letter-spacing="-.1"><textPath href="#lb2" startOffset="50%" text-anchor="middle">FOOTBALL CLUB</textPath></text><text x="9" y="34" font-size="3.2" fill="#8a8a8a" text-anchor="middle" font-family="Liberation Serif,serif">EST</text><text x="53.2" y="34" font-size="3.2" fill="#8a8a8a" text-anchor="middle" font-family="Liberation Serif,serif">1885</text><path d="M20 23.5H44V42C42 46 36 49.5 32 51 28 49.5 22 46 20 42z" fill="#fff" stroke="#9a9a9a" stroke-width=".8"/><rect x="22" y="25" width="7.6" height="9" fill="#f08c1c"/><rect x="34.4" y="25" width="7.6" height="9" fill="#1d3f73"/><path d="M22 37.5h7.6V47.5C26.5 46.5 23.5 44.5 22 42z" fill="#1d3f73"/><path d="M34.4 37.5H42V42C40.5 44.5 37.5 46.5 34.4 47.5z" fill="#f08c1c"/><circle cx="38" cy="30" r="2" fill="#f2d44a"/><rect x="24.6" y="26.5" width="2.4" height="6" fill="#f7d98a"/><path d="M24.5 41l2 3.5 1.5-4" stroke="#5fae4a" stroke-width="1" fill="none"/><path d="M36.5 41l1.8 3.2 1.7-4" stroke="#5fae4a" stroke-width="1" fill="none"/><circle cx="26" cy="39.8" r="1" fill="#fff"/><circle cx="32" cy="36" r="1.2" fill="#8a5a1a"/><ellipse cx="33" cy="20.3" rx="8.3" ry="2.7" fill="#f2cf4e" transform="rotate(-12 33 20.3)"/><ellipse cx="33.2" cy="17.8" rx="5.2" ry="2.2" fill="#f7e07a" transform="rotate(-12 33.2 17.8)"/><path d="M28 20.1c3 .8 7.5 0 10.2-2.2" stroke="#2b56a0" stroke-width="1.1" fill="none"/><path d="M38.5 17.2l3.4-1.2 1 1.6-3.6.9z" fill="#f08c1c"/></svg>
<svg style="left:1835px;top:90px;overflow:hidden" width="35.5" height="39.5" viewBox="0 0 70 86" preserveAspectRatio="none"><defs><clipPath id="sc4"><path d="M24 0.8 C29 4.5 40.5 4.5 45.5 0.8 L61.5 9.5 L69.5 35.5 L57.8 40.5 L56 34.5 L58 81 C48 86.5 21 86.5 12 81 L14.5 34.5 L12.3 41 L0.3 35.5 L9 8.5 Z"/></clipPath></defs><g clip-path="url(#sc4)"><rect width="70" height="90" fill="#17171b"/><rect x="15" y="10" width="2" height="80" fill="#b8321c" opacity="0.8"/><rect x="18.3" y="6" width="2.3" height="84" fill="#22368c" opacity="0.85"/><rect x="22.3" y="12" width="2.6" height="60" fill="#c43a1e" opacity="0.85"/><rect x="22.8" y="60" width="2" height="30" fill="#a33226" opacity="0.6"/><rect x="26.8" y="8" width="2.2" height="84" fill="#203488" opacity="0.8"/><rect x="30.3" y="6" width="2" height="50" fill="#a8342a" opacity="0.75"/><rect x="30.3" y="50" width="2" height="40" fill="#7a2e3a" opacity="0.6"/><rect x="33.8" y="16" width="2.2" height="70" fill="#1b2c78" opacity="0.8"/><rect x="37.8" y="8" width="2.7" height="84" fill="#c23e22" opacity="0.85"/><rect x="42.3" y="10" width="2.3" height="80" fill="#22368c" opacity="0.8"/><rect x="46.3" y="6" width="2.4" height="55" fill="#b8321c" opacity="0.8"/><rect x="46.3" y="55" width="2.2" height="35" fill="#8c3030" opacity="0.6"/><rect x="50.3" y="14" width="2" height="72" fill="#1f3080" opacity="0.8"/><rect x="53.6" y="10" width="1.8" height="80" fill="#b0341f" opacity="0.75"/><path d="M0 0H16L14 34 12 42 0 38z" fill="#17171b"/><path d="M70 0H54L56 34 58 42 70 38z" fill="#17171b"/><path d="M23 0C29 7.5 41 7.5 46.5 0L45 -1H25z" fill="#17171b"/><path d="M25.5 1.6C30 6.8 40 6.8 44.5 1.6" stroke="#d8501c" stroke-width="1.3" fill="none"/><circle cx="23.2" cy="29.6" r="2.6" fill="#e9e9ee" opacity=".85"/><text x="38.5" y="32.6" font-size="8.2" font-weight="bold" font-style="italic" fill="#f1f1f4" text-anchor="middle" font-family="Liberation Sans,sans-serif" textLength="19" lengthAdjust="spacingAndGlyphs">STAR</text><text x="34.8" y="37.6" font-size="4.2" font-weight="bold" fill="#e4e4ea" opacity=".85" text-anchor="middle" font-family="Liberation Sans,sans-serif" textLength="27" lengthAdjust="spacingAndGlyphs">PLATFORMS</text><rect x="0" y="0" width="70" height="90" fill="url(#shade)"/></g></svg>
<div style="left:1297px;top:135px;width:113px;height:24px;background:#403e41;border-radius:6px;"></div>
<svg style="left:1310.3px;top:143px;" width="11.4" height="8"><path d="M.4 4C2 1.3 3.8.3 5.7.3S9.4 1.3 11 4C9.4 6.7 7.6 7.7 5.7 7.7S2 6.7.4 4z" fill="#f5f0ea"/><circle cx="5.7" cy="4" r="1.9" fill="#403e41"/></svg>
<span style="left:1327px;top:141.91px;font-size:10.5px;color:#ecebee;letter-spacing:0.11px;">Fusion Info</span>
<svg style="left:1386.4px;top:144.4px;" width="9.2" height="6.4"><path d="M1 1.1l3.6 3.6 3.6-3.6" fill="none" stroke="#f5f0ea" stroke-width="1.7" stroke-linecap="round" stroke-linejoin="round"/></svg>
<div style="left:1598px;top:135px;width:113px;height:24px;background:#403e41;border-radius:6px;"></div>
<svg style="left:1611.3px;top:143px;" width="11.4" height="8"><path d="M.4 4C2 1.3 3.8.3 5.7.3S9.4 1.3 11 4C9.4 6.7 7.6 7.7 5.7 7.7S2 6.7.4 4z" fill="#f5f0ea"/><circle cx="5.7" cy="4" r="1.9" fill="#403e41"/></svg>
<span style="left:1628px;top:141.91px;font-size:10.5px;color:#ecebee;letter-spacing:0.11px;">Fusion Info</span>
<svg style="left:1687.4px;top:144.4px;" width="9.2" height="6.4"><path d="M1 1.1l3.6 3.6 3.6-3.6" fill="none" stroke="#f5f0ea" stroke-width="1.7" stroke-linecap="round" stroke-linejoin="round"/></svg>
<span style="left:1317.95px;top:172px;font-size:8.5px;color:#b4b3b8;font-weight:bold;letter-spacing:-1.02px;">SEL</span>
<span style="left:1363.93px;top:172px;font-size:8.5px;color:#b4b3b8;font-weight:bold;">C</span>
<span style="left:1384px;top:172px;font-size:8.5px;color:#b4b3b8;font-weight:bold;letter-spacing:0.17px;">NOME</span>
<span style="left:1489px;top:172px;font-size:8.5px;color:#b4b3b8;font-weight:bold;letter-spacing:-0.74px;">ASS</span>
<span style="left:1513px;top:172px;font-size:8.5px;color:#b4b3b8;font-weight:bold;letter-spacing:0.29px;">GOL</span>
<span style="left:1555px;top:172px;font-size:8.5px;color:#b4b3b8;font-weight:bold;letter-spacing:0.26px;">VOT</span>
<div style="left:1298px;top:186px;width:300px;height:429.8px;overflow:hidden">
<div style="left:6px;top:1px;width:277px;height:22px;background:#272728;border-radius:5px;"></div>
<svg style="left:4px;top:1.0px" width="50" height="23"><path d="M8.6 0.2H45.6a2.6 2.6 0 0 1 2.5 3.3L43.4 19.6a3.4 3.4 0 0 1-3.2 2.3H3.2a2.6 2.6 0 0 1-2.5-3.3L5.4 2.5A3.4 3.4 0 0 1 8.6 .2z" fill="#6c6557"/></svg>
<span style="left:18.15px;top:6.67px;font-size:11.5px;color:#f4f3f6;letter-spacing:0.5px;">Por</span>
<svg style="left:88.3px;top:7.7px;" width="9.4" height="7.6"><path d="M4.7.1C2 .1.3 2 .3 4.4V7.5h1.9V5.9c.5-.6 1.4-1 2.5-1s2 .4 2.5 1v1.6h1.9V4.4C9.1 2 7.4.1 4.7.1z" fill="#8f8e93"/><circle cx="4.7" cy="3" r="1.55" fill="#222223"/></svg>
<span style="left:103px;top:7.14px;font-size:12px;color:#f4f3f6;letter-spacing:0.36px;">S. Terenowicz</span>
<span style="left:197px;top:7.04px;font-size:12px;color:#f4f3f6;">-</span>
<div style="left:245px;top:4.9px;width:33px;height:13.8px;background:#4fa703;border-radius:6.9px;"></div>
<span style="left:254.6px;top:7.16px;font-size:9.5px;color:#1e4a00;font-weight:bold;letter-spacing:0.3px;">7.4</span>
<svg style="left:4px;top:23.97px" width="50" height="23"><path d="M8.6 0.2H45.6a2.6 2.6 0 0 1 2.5 3.3L43.4 19.6a3.4 3.4 0 0 1-3.2 2.3H3.2a2.6 2.6 0 0 1-2.5-3.3L5.4 2.5A3.4 3.4 0 0 1 8.6 .2z" fill="#3d5b79"/></svg>
<span style="left:19.04px;top:29.64px;font-size:11.5px;color:#f4f3f6;letter-spacing:0.5px;">DD</span>
<svg style="left:88.3px;top:30.67px;" width="9.4" height="7.6"><path d="M4.7.1C2 .1.3 2 .3 4.4V7.5h1.9V5.9c.5-.6 1.4-1 2.5-1s2 .4 2.5 1v1.6h1.9V4.4C9.1 2 7.4.1 4.7.1z" fill="#8f8e93"/><circle cx="4.7" cy="3" r="1.55" fill="#222223"/></svg>
<span style="left:103px;top:30.11px;font-size:12px;color:#f4f3f6;letter-spacing:0.36px;">R. Battrum</span>
<span style="left:197px;top:30.01px;font-size:12px;color:#f4f3f6;">-</span>
<div style="left:245px;top:27.87px;width:33px;height:13.8px;background:#4fa703;border-radius:6.9px;"></div>
<span style="left:254.6px;top:30.13px;font-size:9.5px;color:#1e4a00;font-weight:bold;letter-spacing:0.3px;">7.3</span>
<div style="left:6px;top:46.94px;width:277px;height:22px;background:#272728;border-radius:5px;"></div>
<svg style="left:4px;top:46.94px" width="50" height="23"><path d="M8.6 0.2H45.6a2.6 2.6 0 0 1 2.5 3.3L43.4 19.6a3.4 3.4 0 0 1-3.2 2.3H3.2a2.6 2.6 0 0 1-2.5-3.3L5.4 2.5A3.4 3.4 0 0 1 8.6 .2z" fill="#3d5b79"/></svg>
<span style="left:14.64px;top:52.61px;font-size:11.5px;color:#f4f3f6;letter-spacing:0.5px;">DCD</span>
<svg style="left:88.3px;top:53.64px;" width="9.4" height="7.6"><path d="M4.7.1C2 .1.3 2 .3 4.4V7.5h1.9V5.9c.5-.6 1.4-1 2.5-1s2 .4 2.5 1v1.6h1.9V4.4C9.1 2 7.4.1 4.7.1z" fill="#8f8e93"/><circle cx="4.7" cy="3" r="1.55" fill="#222223"/></svg>
<span style="left:103px;top:53.08px;font-size:12px;color:#f4f3f6;letter-spacing:0.36px;">L. Romani</span>
<span style="left:197px;top:52.98px;font-size:12px;color:#f4f3f6;">-</span>
<div style="left:245px;top:50.84px;width:33px;height:13.8px;background:#4fa703;border-radius:6.9px;"></div>
<span style="left:254.6px;top:53.1px;font-size:9.5px;color:#1e4a00;font-weight:bold;letter-spacing:0.3px;">7.1</span>
<svg style="left:4px;top:69.91px" width="50" height="23"><path d="M8.6 0.2H45.6a2.6 2.6 0 0 1 2.5 3.3L43.4 19.6a3.4 3.4 0 0 1-3.2 2.3H3.2a2.6 2.6 0 0 1-2.5-3.3L5.4 2.5A3.4 3.4 0 0 1 8.6 .2z" fill="#3d5b79"/></svg>
<span style="left:14.96px;top:75.58px;font-size:11.5px;color:#f4f3f6;letter-spacing:0.5px;">DCS</span>
<svg style="left:88.3px;top:76.61px;" width="9.4" height="7.6"><path d="M4.7.1C2 .1.3 2 .3 4.4V7.5h1.9V5.9c.5-.6 1.4-1 2.5-1s2 .4 2.5 1v1.6h1.9V4.4C9.1 2 7.4.1 4.7.1z" fill="#8f8e93"/><circle cx="4.7" cy="3" r="1.55" fill="#222223"/></svg>
<span style="left:103px;top:76.05px;font-size:12px;color:#f4f3f6;letter-spacing:0.36px;">J. Fanning</span>
<span style="left:197px;top:75.95px;font-size:12px;color:#f4f3f6;">-</span>
<div style="left:245px;top:73.81px;width:33px;height:13.8px;background:#4fa703;border-radius:6.9px;"></div>
<span style="left:254.6px;top:76.07px;font-size:9.5px;color:#1e4a00;font-weight:bold;letter-spacing:0.3px;">7.3</span>
<div style="left:6px;top:92.88px;width:277px;height:22px;background:#272728;border-radius:5px;"></div>
<svg style="left:4px;top:92.88px" width="50" height="23"><path d="M8.6 0.2H45.6a2.6 2.6 0 0 1 2.5 3.3L43.4 19.6a3.4 3.4 0 0 1-3.2 2.3H3.2a2.6 2.6 0 0 1-2.5-3.3L5.4 2.5A3.4 3.4 0 0 1 8.6 .2z" fill="#3d5b79"/></svg>
<span style="left:19.36px;top:98.55px;font-size:11.5px;color:#f4f3f6;letter-spacing:0.5px;">DS</span>
<svg style="left:88.3px;top:99.58px;" width="9.4" height="7.6"><path d="M4.7.1C2 .1.3 2 .3 4.4V7.5h1.9V5.9c.5-.6 1.4-1 2.5-1s2 .4 2.5 1v1.6h1.9V4.4C9.1 2 7.4.1 4.7.1z" fill="#8f8e93"/><circle cx="4.7" cy="3" r="1.55" fill="#222223"/></svg>
<span style="left:103px;top:99.02px;font-size:12px;color:#f4f3f6;letter-spacing:0.36px;">C. Garbutt</span>
<span style="left:197px;top:98.92px;font-size:12px;color:#f4f3f6;">-</span>
<div style="left:245px;top:96.78px;width:33px;height:13.8px;background:#4fa703;border-radius:6.9px;"></div>
<span style="left:254.6px;top:99.04px;font-size:9.5px;color:#1e4a00;font-weight:bold;letter-spacing:0.3px;">7.7</span>
<svg style="left:4px;top:115.85px" width="50" height="23"><path d="M8.6 0.2H45.6a2.6 2.6 0 0 1 2.5 3.3L43.4 19.6a3.4 3.4 0 0 1-3.2 2.3H3.2a2.6 2.6 0 0 1-2.5-3.3L5.4 2.5A3.4 3.4 0 0 1 8.6 .2z" fill="#6b7686"/></svg>
<span style="left:22.81px;top:121.52px;font-size:11.5px;color:#f4f3f6;letter-spacing:0.5px;">M</span>
<svg style="left:88.3px;top:122.55px;" width="9.4" height="7.6"><path d="M4.7.1C2 .1.3 2 .3 4.4V7.5h1.9V5.9c.5-.6 1.4-1 2.5-1s2 .4 2.5 1v1.6h1.9V4.4C9.1 2 7.4.1 4.7.1z" fill="#8f8e93"/><circle cx="4.7" cy="3" r="1.55" fill="#222223"/></svg>
<span style="left:103px;top:121.99px;font-size:12px;color:#f4f3f6;letter-spacing:0.36px;">A. Uzochukwu</span>
<span style="left:197px;top:121.89px;font-size:12px;color:#f4f3f6;">-</span>
<div style="left:245px;top:119.75px;width:33px;height:13.8px;background:#4fa703;border-radius:6.9px;"></div>
<span style="left:254.6px;top:122.01px;font-size:9.5px;color:#1e4a00;font-weight:bold;letter-spacing:0.3px;">7.2</span>
<div style="left:6px;top:138.82px;width:277px;height:22px;background:#272728;border-radius:5px;"></div>
<svg style="left:4px;top:138.82px" width="50" height="23"><path d="M8.6 0.2H45.6a2.6 2.6 0 0 1 2.5 3.3L43.4 19.6a3.4 3.4 0 0 1-3.2 2.3H3.2a2.6 2.6 0 0 1-2.5-3.3L5.4 2.5A3.4 3.4 0 0 1 8.6 .2z" fill="#3e4752"/></svg>
<span style="left:19.04px;top:144.49px;font-size:11.5px;color:#f4f3f6;letter-spacing:0.5px;">CD</span>
<div style="left:58px;top:139.92px;width:24px;height:18.8px;background:#64bf82;border-radius:3px;"></div>
<span style="left:61.46px;top:145.38px;font-size:9.5px;color:#357a4c;letter-spacing:0.1px;">MiC</span>
<svg style="left:88.3px;top:145.52px;" width="9.4" height="7.6"><path d="M4.7.1C2 .1.3 2 .3 4.4V7.5h1.9V5.9c.5-.6 1.4-1 2.5-1s2 .4 2.5 1v1.6h1.9V4.4C9.1 2 7.4.1 4.7.1z" fill="#2f8795"/><circle cx="4.7" cy="3" r="1.55" fill="#222223"/></svg>
<span style="left:103px;top:144.96px;font-size:12px;color:#3fb4c6;letter-spacing:0.36px;">J. Lankester</span>
<span style="left:197px;top:144.86px;font-size:12px;color:#3fb4c6;">-</span>
<svg style="left:219.3px;top:144.22px;" width="10.8" height="10.8" viewBox="0 0 12 12"><circle cx="6" cy="6" r="5.7" fill="#f6f1ea"/><path d="M8.02 0.14L10.95 2.27L8.29 2.84zM12.20 6.11L11.08 9.56L9.71 7.21zM7.81 11.93L4.19 11.93L6.00 9.90zM0.92 9.56L-0.20 6.11L2.29 7.21zM1.05 2.27L3.98 0.14L3.71 2.84zM6.00 4.10L7.81 5.41L7.12 7.54L4.88 7.54L4.19 5.41z" fill="#242425"/></svg>
<div style="left:245px;top:142.72px;width:33px;height:13.8px;background:#4fa703;border-radius:6.9px;"></div>
<span style="left:254.6px;top:144.98px;font-size:9.5px;color:#1e4a00;font-weight:bold;letter-spacing:0.3px;">7.9</span>
<svg style="left:4px;top:161.79px" width="50" height="23"><path d="M8.6 0.2H45.6a2.6 2.6 0 0 1 2.5 3.3L43.4 19.6a3.4 3.4 0 0 1-3.2 2.3H3.2a2.6 2.6 0 0 1-2.5-3.3L5.4 2.5A3.4 3.4 0 0 1 8.6 .2z" fill="#3e4752"/></svg>
<span style="left:14.64px;top:167.46px;font-size:11.5px;color:#f4f3f6;letter-spacing:0.5px;">CCD</span>
<div style="left:58px;top:162.89px;width:24px;height:18.8px;background:#d93b41;border-radius:3px;"></div>
<svg style="left:65px;top:167.29px" width="10" height="11"><path d="M7.2 1.2L2.6 5.4l4.6 4.2" fill="none" stroke="#fff" stroke-width="2" stroke-linecap="round" stroke-linejoin="round"/></svg>
<svg style="left:88.3px;top:168.49px;" width="9.4" height="7.6"><path d="M4.7.1C2 .1.3 2 .3 4.4V7.5h1.9V5.9c.5-.6 1.4-1 2.5-1s2 .4 2.5 1v1.6h1.9V4.4C9.1 2 7.4.1 4.7.1z" fill="#8f8e93"/><circle cx="4.7" cy="3" r="1.55" fill="#222223"/></svg>
<span style="left:103px;top:167.93px;font-size:12px;color:#a3a2a7;letter-spacing:0.36px;">C. Gray</span>
<span style="left:195.66px;top:167.83px;font-size:12px;color:#a3a2a7;">1</span>
<div style="left:245px;top:165.69px;width:33px;height:13.8px;background:#4fa703;border-radius:6.9px;"></div>
<span style="left:254.6px;top:167.95px;font-size:9.5px;color:#1e4a00;font-weight:bold;letter-spacing:0.3px;">7.0</span>
<div style="left:6px;top:184.76px;width:277px;height:22px;background:#272728;border-radius:5px;"></div>
<svg style="left:4px;top:184.76px" width="50" height="23"><path d="M8.6 0.2H45.6a2.6 2.6 0 0 1 2.5 3.3L43.4 19.6a3.4 3.4 0 0 1-3.2 2.3H3.2a2.6 2.6 0 0 1-2.5-3.3L5.4 2.5A3.4 3.4 0 0 1 8.6 .2z" fill="#3e4752"/></svg>
<span style="left:14.96px;top:190.43px;font-size:11.5px;color:#f4f3f6;letter-spacing:0.5px;">CCS</span>
<div style="left:59.8px;top:187.36px;width:23.4px;height:18.8px;background:#f2e227;border-radius:3px;"></div>
<div style="left:57.6px;top:184.96px;width:23.4px;height:18.8px;background:#d93b41;border-radius:3px;"></div>
<svg style="left:64.3px;top:188.76px" width="10" height="11"><path d="M7.2 1.2L2.6 5.4l4.6 4.2" fill="none" stroke="#fff" stroke-width="2" stroke-linecap="round" stroke-linejoin="round"/></svg>
<svg style="left:88.3px;top:191.46px;" width="9.4" height="7.6"><path d="M4.7.1C2 .1.3 2 .3 4.4V7.5h1.9V5.9c.5-.6 1.4-1 2.5-1s2 .4 2.5 1v1.6h1.9V4.4C9.1 2 7.4.1 4.7.1z" fill="#8f8e93"/><circle cx="4.7" cy="3" r="1.55" fill="#222223"/></svg>
<span style="left:103px;top:190.9px;font-size:12px;color:#a3a2a7;letter-spacing:0.36px;">Y. Ouattara</span>
<span style="left:197px;top:190.8px;font-size:12px;color:#a3a2a7;">-</span>
<div style="left:245px;top:188.66px;width:33px;height:13.8px;background:#272d36;border-radius:6.9px;"></div>
<span style="left:254.6px;top:190.92px;font-size:9.5px;color:#d0d3da;font-weight:bold;letter-spacing:0.3px;">6.6</span>
<svg style="left:4px;top:207.73px" width="50" height="23"><path d="M8.6 0.2H45.6a2.6 2.6 0 0 1 2.5 3.3L43.4 19.6a3.4 3.4 0 0 1-3.2 2.3H3.2a2.6 2.6 0 0 1-2.5-3.3L5.4 2.5A3.4 3.4 0 0 1 8.6 .2z" fill="#3e4752"/></svg>
<span style="left:19.36px;top:213.4px;font-size:11.5px;color:#f4f3f6;letter-spacing:0.5px;">CS</span>
<div style="left:58px;top:208.83px;width:24px;height:18.8px;background:#d93b41;border-radius:3px;"></div>
<svg style="left:65px;top:213.23px" width="10" height="11"><path d="M7.2 1.2L2.6 5.4l4.6 4.2" fill="none" stroke="#fff" stroke-width="2" stroke-linecap="round" stroke-linejoin="round"/></svg>
<svg style="left:88.3px;top:214.43px;" width="9.4" height="7.6"><path d="M4.7.1C2 .1.3 2 .3 4.4V7.5h1.9V5.9c.5-.6 1.4-1 2.5-1s2 .4 2.5 1v1.6h1.9V4.4C9.1 2 7.4.1 4.7.1z" fill="#8f8e93"/><circle cx="4.7" cy="3" r="1.55" fill="#222223"/></svg>
<span style="left:103px;top:213.87px;font-size:12px;color:#a3a2a7;letter-spacing:0.36px;">S. Bashir</span>
<span style="left:197px;top:213.77px;font-size:12px;color:#a3a2a7;">-</span>
<div style="left:245px;top:211.63px;width:33px;height:13.8px;background:#4fa703;border-radius:6.9px;"></div>
<span style="left:254.6px;top:213.89px;font-size:9.5px;color:#1e4a00;font-weight:bold;letter-spacing:0.3px;">7.2</span>
<div style="left:6px;top:230.7px;width:277px;height:22px;background:#272728;border-radius:5px;"></div>
<svg style="left:4px;top:230.7px" width="50" height="23"><path d="M8.6 0.2H45.6a2.6 2.6 0 0 1 2.5 3.3L43.4 19.6a3.4 3.4 0 0 1-3.2 2.3H3.2a2.6 2.6 0 0 1-2.5-3.3L5.4 2.5A3.4 3.4 0 0 1 8.6 .2z" fill="#685690"/></svg>
<span style="left:19.36px;top:236.37px;font-size:11.5px;color:#f4f3f6;letter-spacing:0.5px;">PC</span>
<svg style="left:88.3px;top:237.4px;" width="9.4" height="7.6"><path d="M4.7.1C2 .1.3 2 .3 4.4V7.5h1.9V5.9c.5-.6 1.4-1 2.5-1s2 .4 2.5 1v1.6h1.9V4.4C9.1 2 7.4.1 4.7.1z" fill="#8f8e93"/><circle cx="4.7" cy="3" r="1.55" fill="#222223"/></svg>
<span style="left:103px;top:236.84px;font-size:12px;color:#f4f3f6;letter-spacing:0.36px;">M. Tedesco</span>
<span style="left:195.66px;top:236.74px;font-size:12px;color:#f4f3f6;">1</span>
<div style="left:245px;top:234.6px;width:33px;height:13.8px;background:#4fa703;border-radius:6.9px;"></div>
<span style="left:254.6px;top:236.86px;font-size:9.5px;color:#1e4a00;font-weight:bold;letter-spacing:0.3px;">7.0</span>
<svg style="left:4px;top:253.67px" width="50" height="23"><path d="M8.6 0.2H45.6a2.6 2.6 0 0 1 2.5 3.3L43.4 19.6a3.4 3.4 0 0 1-3.2 2.3H3.2a2.6 2.6 0 0 1-2.5-3.3L5.4 2.5A3.4 3.4 0 0 1 8.6 .2z" fill="#55555d"/></svg>
<span style="left:20.32px;top:259.34px;font-size:11.5px;color:#f4f3f6;letter-spacing:0.5px;">S1</span>
<span style="left:86px;top:259.81px;font-size:12px;color:#a3a2a7;letter-spacing:0.36px;">H. Vaughan</span>
<span style="left:197px;top:259.71px;font-size:12px;color:#a3a2a7;">-</span>
<div style="left:245px;top:257.57px;width:33px;height:13.8px;background:#272d36;border-radius:6.9px;"></div>
<span style="left:260.14px;top:259.5px;font-size:10px;color:#c5c8cf;font-weight:bold;">-</span>
<div style="left:6px;top:276.64px;width:277px;height:22px;background:#272728;border-radius:5px;"></div>
<svg style="left:4px;top:276.64px" width="50" height="23"><path d="M8.6 0.2H45.6a2.6 2.6 0 0 1 2.5 3.3L43.4 19.6a3.4 3.4 0 0 1-3.2 2.3H3.2a2.6 2.6 0 0 1-2.5-3.3L5.4 2.5A3.4 3.4 0 0 1 8.6 .2z" fill="#55555d"/></svg>
<span style="left:20.32px;top:282.31px;font-size:11.5px;color:#f4f3f6;letter-spacing:0.5px;">S2</span>
<svg style="left:88.3px;top:283.34px;" width="9.4" height="7.6"><path d="M4.7.1C2 .1.3 2 .3 4.4V7.5h1.9V5.9c.5-.6 1.4-1 2.5-1s2 .4 2.5 1v1.6h1.9V4.4C9.1 2 7.4.1 4.7.1z" fill="#8f8e93"/><circle cx="4.7" cy="3" r="1.55" fill="#222223"/></svg>
<span style="left:103px;top:282.78px;font-size:12px;color:#a3a2a7;letter-spacing:0.36px;">D. Cox</span>
<span style="left:197px;top:282.68px;font-size:12px;color:#a3a2a7;">-</span>
<div style="left:245px;top:280.54px;width:33px;height:13.8px;background:#272d36;border-radius:6.9px;"></div>
<span style="left:260.14px;top:282.48px;font-size:10px;color:#c5c8cf;font-weight:bold;">-</span>
<svg style="left:4px;top:299.61px" width="50" height="23"><path d="M8.6 0.2H45.6a2.6 2.6 0 0 1 2.5 3.3L43.4 19.6a3.4 3.4 0 0 1-3.2 2.3H3.2a2.6 2.6 0 0 1-2.5-3.3L5.4 2.5A3.4 3.4 0 0 1 8.6 .2z" fill="#55555d"/></svg>
<span style="left:20.32px;top:305.28px;font-size:11.5px;color:#f4f3f6;letter-spacing:0.5px;">S3</span>
<div style="left:58px;top:300.71px;width:24px;height:18.8px;background:#5fbc7e;border-radius:3px;"></div>
<svg style="left:65.5px;top:305.11px" width="10" height="11"><path d="M2.8 1.2l4.6 4.2-4.6 4.2" fill="none" stroke="#fff" stroke-width="2" stroke-linecap="round" stroke-linejoin="round"/></svg>
<svg style="left:88.3px;top:306.31px;" width="9.4" height="7.6"><path d="M4.7.1C2 .1.3 2 .3 4.4V7.5h1.9V5.9c.5-.6 1.4-1 2.5-1s2 .4 2.5 1v1.6h1.9V4.4C9.1 2 7.4.1 4.7.1z" fill="#8f8e93"/><circle cx="4.7" cy="3" r="1.55" fill="#222223"/></svg>
<span style="left:103px;top:305.75px;font-size:12px;color:#f4f3f6;letter-spacing:0.36px;">Y. Benhamou</span>
<span style="left:197px;top:305.65px;font-size:12px;color:#f4f3f6;">-</span>
<svg style="left:219.3px;top:305.01px;" width="10.8" height="10.8" viewBox="0 0 12 12"><circle cx="6" cy="6" r="5.7" fill="#f6f1ea"/><path d="M8.02 0.14L10.95 2.27L8.29 2.84zM12.20 6.11L11.08 9.56L9.71 7.21zM7.81 11.93L4.19 11.93L6.00 9.90zM0.92 9.56L-0.20 6.11L2.29 7.21zM1.05 2.27L3.98 0.14L3.71 2.84zM6.00 4.10L7.81 5.41L7.12 7.54L4.88 7.54L4.19 5.41z" fill="#242425"/></svg>
<div style="left:245px;top:303.51px;width:33px;height:13.8px;background:#4fa703;border-radius:6.9px;"></div>
<span style="left:254.6px;top:305.77px;font-size:9.5px;color:#1e4a00;font-weight:bold;letter-spacing:0.3px;">7.3</span>
<div style="left:6px;top:322.58px;width:277px;height:22px;background:#272728;border-radius:5px;"></div>
<svg style="left:4px;top:322.58px" width="50" height="23"><path d="M8.6 0.2H45.6a2.6 2.6 0 0 1 2.5 3.3L43.4 19.6a3.4 3.4 0 0 1-3.2 2.3H3.2a2.6 2.6 0 0 1-2.5-3.3L5.4 2.5A3.4 3.4 0 0 1 8.6 .2z" fill="#55555d"/></svg>
<span style="left:20.32px;top:328.25px;font-size:11.5px;color:#f4f3f6;letter-spacing:0.5px;">S4</span>
<div style="left:58px;top:323.68px;width:24px;height:18.8px;background:#5fbc7e;border-radius:3px;"></div>
<svg style="left:65.5px;top:328.08px" width="10" height="11"><path d="M2.8 1.2l4.6 4.2-4.6 4.2" fill="none" stroke="#fff" stroke-width="2" stroke-linecap="round" stroke-linejoin="round"/></svg>
<svg style="left:88.3px;top:329.28px;" width="9.4" height="7.6"><path d="M4.7.1C2 .1.3 2 .3 4.4V7.5h1.9V5.9c.5-.6 1.4-1 2.5-1s2 .4 2.5 1v1.6h1.9V4.4C9.1 2 7.4.1 4.7.1z" fill="#8f8e93"/><circle cx="4.7" cy="3" r="1.55" fill="#222223"/></svg>
<span style="left:103px;top:328.72px;font-size:12px;color:#f4f3f6;letter-spacing:0.36px;">A. Ruiz Rente</span>
<span style="left:197px;top:328.62px;font-size:12px;color:#f4f3f6;">-</span>
<div style="left:245px;top:326.48px;width:33px;height:13.8px;background:#272d36;border-radius:6.9px;"></div>
<span style="left:254.6px;top:328.74px;font-size:9.5px;color:#d0d3da;font-weight:bold;letter-spacing:0.3px;">6.7</span>
<svg style="left:4px;top:345.54999999999995px" width="50" height="23"><path d="M8.6 0.2H45.6a2.6 2.6 0 0 1 2.5 3.3L43.4 19.6a3.4 3.4 0 0 1-3.2 2.3H3.2a2.6 2.6 0 0 1-2.5-3.3L5.4 2.5A3.4 3.4 0 0 1 8.6 .2z" fill="#55555d"/></svg>
<span style="left:20.32px;top:351.22px;font-size:11.5px;color:#f4f3f6;letter-spacing:0.5px;">S5</span>
<svg style="left:88.3px;top:352.25px;" width="9.4" height="7.6"><path d="M4.7.1C2 .1.3 2 .3 4.4V7.5h1.9V5.9c.5-.6 1.4-1 2.5-1s2 .4 2.5 1v1.6h1.9V4.4C9.1 2 7.4.1 4.7.1z" fill="#8f8e93"/><circle cx="4.7" cy="3" r="1.55" fill="#222223"/></svg>
<span style="left:103px;top:351.69px;font-size:12px;color:#a3a2a7;letter-spacing:0.36px;">A. Doy</span>
<span style="left:197px;top:351.59px;font-size:12px;color:#a3a2a7;">-</span>
<div style="left:245px;top:349.45px;width:33px;height:13.8px;background:#272d36;border-radius:6.9px;"></div>
<span style="left:260.14px;top:351.38px;font-size:10px;color:#c5c8cf;font-weight:bold;">-</span>
<div style="left:6px;top:368.52px;width:277px;height:22px;background:#272728;border-radius:5px;"></div>
<svg style="left:4px;top:368.52px" width="50" height="23"><path d="M8.6 0.2H45.6a2.6 2.6 0 0 1 2.5 3.3L43.4 19.6a3.4 3.4 0 0 1-3.2 2.3H3.2a2.6 2.6 0 0 1-2.5-3.3L5.4 2.5A3.4 3.4 0 0 1 8.6 .2z" fill="#55555d"/></svg>
<span style="left:20.32px;top:374.19px;font-size:11.5px;color:#f4f3f6;letter-spacing:0.5px;">S6</span>
<svg style="left:88.3px;top:375.22px;" width="9.4" height="7.6"><path d="M4.7.1C2 .1.3 2 .3 4.4V7.5h1.9V5.9c.5-.6 1.4-1 2.5-1s2 .4 2.5 1v1.6h1.9V4.4C9.1 2 7.4.1 4.7.1z" fill="#8f8e93"/><circle cx="4.7" cy="3" r="1.55" fill="#222223"/></svg>
<span style="left:103px;top:374.66px;font-size:12px;color:#a3a2a7;letter-spacing:0.36px;">J. Robinson</span>
<span style="left:197px;top:374.56px;font-size:12px;color:#a3a2a7;">-</span>
<div style="left:245px;top:372.42px;width:33px;height:13.8px;background:#272d36;border-radius:6.9px;"></div>
<span style="left:260.14px;top:374.36px;font-size:10px;color:#c5c8cf;font-weight:bold;">-</span>
<svg style="left:4px;top:391.49px" width="50" height="23"><path d="M8.6 0.2H45.6a2.6 2.6 0 0 1 2.5 3.3L43.4 19.6a3.4 3.4 0 0 1-3.2 2.3H3.2a2.6 2.6 0 0 1-2.5-3.3L5.4 2.5A3.4 3.4 0 0 1 8.6 .2z" fill="#55555d"/></svg>
<span style="left:20.32px;top:397.16px;font-size:11.5px;color:#f4f3f6;letter-spacing:0.5px;">S7</span>
<svg style="left:88.3px;top:398.19px;" width="9.4" height="7.6"><path d="M4.7.1C2 .1.3 2 .3 4.4V7.5h1.9V5.9c.5-.6 1.4-1 2.5-1s2 .4 2.5 1v1.6h1.9V4.4C9.1 2 7.4.1 4.7.1z" fill="#8f8e93"/><circle cx="4.7" cy="3" r="1.55" fill="#222223"/></svg>
<span style="left:103px;top:397.63px;font-size:12px;color:#a3a2a7;letter-spacing:0.36px;">J. Snowdon</span>
<span style="left:197px;top:397.53px;font-size:12px;color:#a3a2a7;">-</span>
<div style="left:245px;top:395.39px;width:33px;height:13.8px;background:#272d36;border-radius:6.9px;"></div>
<span style="left:260.14px;top:397.33px;font-size:10px;color:#c5c8cf;font-weight:bold;">-</span>
<div style="left:6px;top:414.46px;width:277px;height:22px;background:#272728;border-radius:5px;"></div>
<svg style="left:4px;top:414.46px" width="50" height="23"><path d="M8.6 0.2H45.6a2.6 2.6 0 0 1 2.5 3.3L43.4 19.6a3.4 3.4 0 0 1-3.2 2.3H3.2a2.6 2.6 0 0 1-2.5-3.3L5.4 2.5A3.4 3.4 0 0 1 8.6 .2z" fill="#55555d"/></svg>
<span style="left:20.32px;top:420.13px;font-size:11.5px;color:#f4f3f6;letter-spacing:0.5px;">S8</span>
<svg style="left:88.3px;top:421.16px;" width="9.4" height="7.6"><path d="M4.7.1C2 .1.3 2 .3 4.4V7.5h1.9V5.9c.5-.6 1.4-1 2.5-1s2 .4 2.5 1v1.6h1.9V4.4C9.1 2 7.4.1 4.7.1z" fill="#8f8e93"/><circle cx="4.7" cy="3" r="1.55" fill="#222223"/></svg>
<span style="left:103px;top:420.6px;font-size:12px;color:#a3a2a7;letter-spacing:0.36px;">J. Ashton</span>
<span style="left:197px;top:420.5px;font-size:12px;color:#a3a2a7;">-</span>
<div style="left:245px;top:418.36px;width:33px;height:13.8px;background:#272d36;border-radius:6.9px;"></div>
<span style="left:260.14px;top:420.3px;font-size:10px;color:#c5c8cf;font-weight:bold;">-</span>
</div>
<div style="left:1585px;top:189px;width:2.6px;height:400px;background:#4e4e51;border-radius:1.3px;"></div>
<span style="left:1618.95px;top:172px;font-size:8.5px;color:#b4b3b8;font-weight:bold;letter-spacing:-1.02px;">SEL</span>
<span style="left:1664.93px;top:172px;font-size:8.5px;color:#b4b3b8;font-weight:bold;">C</span>
<span style="left:1685px;top:172px;font-size:8.5px;color:#b4b3b8;font-weight:bold;letter-spacing:0.17px;">NOME</span>
<span style="left:1790px;top:172px;font-size:8.5px;color:#b4b3b8;font-weight:bold;letter-spacing:-0.74px;">ASS</span>
<span style="left:1814px;top:172px;font-size:8.5px;color:#b4b3b8;font-weight:bold;letter-spacing:0.29px;">GOL</span>
<span style="left:1856px;top:172px;font-size:8.5px;color:#b4b3b8;font-weight:bold;letter-spacing:0.26px;">VOT</span>
<div style="left:1599px;top:186px;width:300px;height:429.8px;overflow:hidden">
<div style="left:6px;top:1px;width:277px;height:22px;background:#272728;border-radius:5px;"></div>
<svg style="left:4px;top:1.0px" width="50" height="23"><path d="M8.6 0.2H45.6a2.6 2.6 0 0 1 2.5 3.3L43.4 19.6a3.4 3.4 0 0 1-3.2 2.3H3.2a2.6 2.6 0 0 1-2.5-3.3L5.4 2.5A3.4 3.4 0 0 1 8.6 .2z" fill="#6c6557"/></svg>
<span style="left:18.15px;top:6.67px;font-size:11.5px;color:#f4f3f6;letter-spacing:0.5px;">Por</span>
<svg style="left:88.3px;top:7.7px;" width="9.4" height="7.6"><path d="M4.7.1C2 .1.3 2 .3 4.4V7.5h1.9V5.9c.5-.6 1.4-1 2.5-1s2 .4 2.5 1v1.6h1.9V4.4C9.1 2 7.4.1 4.7.1z" fill="#8f8e93"/><circle cx="4.7" cy="3" r="1.55" fill="#222223"/></svg>
<span style="left:103px;top:7.14px;font-size:12px;color:#f4f3f6;letter-spacing:0.36px;">L. Wahlstedt</span>
<span style="left:197px;top:7.04px;font-size:12px;color:#f4f3f6;">-</span>
<div style="left:245px;top:4.9px;width:33px;height:13.8px;background:#4fa703;border-radius:6.9px;"></div>
<span style="left:254.6px;top:7.16px;font-size:9.5px;color:#1e4a00;font-weight:bold;letter-spacing:0.3px;">7.5</span>
<svg style="left:4px;top:23.97px" width="50" height="23"><path d="M8.6 0.2H45.6a2.6 2.6 0 0 1 2.5 3.3L43.4 19.6a3.4 3.4 0 0 1-3.2 2.3H3.2a2.6 2.6 0 0 1-2.5-3.3L5.4 2.5A3.4 3.4 0 0 1 8.6 .2z" fill="#3d5b79"/></svg>
<span style="left:19.04px;top:29.64px;font-size:11.5px;color:#f4f3f6;letter-spacing:0.5px;">DD</span>
<div style="left:59.8px;top:26.57px;width:23.4px;height:18.8px;background:#f2e227;border-radius:3px;"></div>
<div style="left:57.6px;top:24.17px;width:23.4px;height:18.8px;background:#d93b41;border-radius:3px;"></div>
<svg style="left:64.3px;top:27.97px" width="10" height="11"><path d="M7.2 1.2L2.6 5.4l4.6 4.2" fill="none" stroke="#fff" stroke-width="2" stroke-linecap="round" stroke-linejoin="round"/></svg>
<svg style="left:88.3px;top:30.67px;" width="9.4" height="7.6"><path d="M4.7.1C2 .1.3 2 .3 4.4V7.5h1.9V5.9c.5-.6 1.4-1 2.5-1s2 .4 2.5 1v1.6h1.9V4.4C9.1 2 7.4.1 4.7.1z" fill="#8f8e93"/><circle cx="4.7" cy="3" r="1.55" fill="#222223"/></svg>
<span style="left:103px;top:30.11px;font-size:12px;color:#a3a2a7;letter-spacing:0.36px;">I. Kaboré</span>
<span style="left:197px;top:30.01px;font-size:12px;color:#a3a2a7;">-</span>
<div style="left:245px;top:27.87px;width:33px;height:13.8px;background:#272d36;border-radius:6.9px;"></div>
<span style="left:254.6px;top:30.13px;font-size:9.5px;color:#d0d3da;font-weight:bold;letter-spacing:0.3px;">6.6</span>
<div style="left:6px;top:46.94px;width:277px;height:22px;background:#272728;border-radius:5px;"></div>
<svg style="left:4px;top:46.94px" width="50" height="23"><path d="M8.6 0.2H45.6a2.6 2.6 0 0 1 2.5 3.3L43.4 19.6a3.4 3.4 0 0 1-3.2 2.3H3.2a2.6 2.6 0 0 1-2.5-3.3L5.4 2.5A3.4 3.4 0 0 1 8.6 .2z" fill="#3d5b79"/></svg>
<span style="left:14.64px;top:52.61px;font-size:11.5px;color:#f4f3f6;letter-spacing:0.5px;">DCD</span>
<svg style="left:88.3px;top:53.64px;" width="9.4" height="7.6"><path d="M4.7.1C2 .1.3 2 .3 4.4V7.5h1.9V5.9c.5-.6 1.4-1 2.5-1s2 .4 2.5 1v1.6h1.9V4.4C9.1 2 7.4.1 4.7.1z" fill="#8f8e93"/><circle cx="4.7" cy="3" r="1.55" fill="#222223"/></svg>
<span style="left:103px;top:53.08px;font-size:12px;color:#f4f3f6;letter-spacing:0.36px;">G. Sepúlveda</span>
<span style="left:197px;top:52.98px;font-size:12px;color:#f4f3f6;">-</span>
<div style="left:245px;top:50.84px;width:33px;height:13.8px;background:#272d36;border-radius:6.9px;"></div>
<span style="left:254.6px;top:53.1px;font-size:9.5px;color:#d0d3da;font-weight:bold;letter-spacing:0.3px;">6.5</span>
<svg style="left:4px;top:69.91px" width="50" height="23"><path d="M8.6 0.2H45.6a2.6 2.6 0 0 1 2.5 3.3L43.4 19.6a3.4 3.4 0 0 1-3.2 2.3H3.2a2.6 2.6 0 0 1-2.5-3.3L5.4 2.5A3.4 3.4 0 0 1 8.6 .2z" fill="#3d5b79"/></svg>
<span style="left:14.96px;top:75.58px;font-size:11.5px;color:#f4f3f6;letter-spacing:0.5px;">DCS</span>
<div style="left:58px;top:71.01px;width:24px;height:18.8px;background:#d93b41;border-radius:3px;"></div>
<svg style="left:65px;top:75.41px" width="10" height="11"><path d="M7.2 1.2L2.6 5.4l4.6 4.2" fill="none" stroke="#fff" stroke-width="2" stroke-linecap="round" stroke-linejoin="round"/></svg>
<svg style="left:88.3px;top:76.61px;" width="9.4" height="7.6"><path d="M4.7.1C2 .1.3 2 .3 4.4V7.5h1.9V5.9c.5-.6 1.4-1 2.5-1s2 .4 2.5 1v1.6h1.9V4.4C9.1 2 7.4.1 4.7.1z" fill="#8f8e93"/><circle cx="4.7" cy="3" r="1.55" fill="#222223"/></svg>
<span style="left:103px;top:76.05px;font-size:12px;color:#a3a2a7;letter-spacing:0.36px;">R. Douglas</span>
<span style="left:197px;top:75.95px;font-size:12px;color:#a3a2a7;">-</span>
<div style="left:245px;top:73.81px;width:33px;height:13.8px;background:#272d36;border-radius:6.9px;"></div>
<span style="left:254.6px;top:76.07px;font-size:9.5px;color:#d0d3da;font-weight:bold;letter-spacing:0.3px;">6.7</span>
<div style="left:6px;top:92.88px;width:277px;height:22px;background:#272728;border-radius:5px;"></div>
<svg style="left:4px;top:92.88px" width="50" height="23"><path d="M8.6 0.2H45.6a2.6 2.6 0 0 1 2.5 3.3L43.4 19.6a3.4 3.4 0 0 1-3.2 2.3H3.2a2.6 2.6 0 0 1-2.5-3.3L5.4 2.5A3.4 3.4 0 0 1 8.6 .2z" fill="#3d5b79"/></svg>
<span style="left:19.36px;top:98.55px;font-size:11.5px;color:#f4f3f6;letter-spacing:0.5px;">DS</span>
<svg style="left:88.3px;top:99.58px;" width="9.4" height="7.6"><path d="M4.7.1C2 .1.3 2 .3 4.4V7.5h1.9V5.9c.5-.6 1.4-1 2.5-1s2 .4 2.5 1v1.6h1.9V4.4C9.1 2 7.4.1 4.7.1z" fill="#8f8e93"/><circle cx="4.7" cy="3" r="1.55" fill="#222223"/></svg>
<span style="left:103px;top:99.02px;font-size:12px;color:#f4f3f6;letter-spacing:0.36px;">D. Barrett</span>
<span style="left:197px;top:98.92px;font-size:12px;color:#f4f3f6;">-</span>
<div style="left:245px;top:96.78px;width:33px;height:13.8px;background:#272d36;border-radius:6.9px;"></div>
<span style="left:254.6px;top:99.04px;font-size:9.5px;color:#d0d3da;font-weight:bold;letter-spacing:0.3px;">6.5</span>
<svg style="left:4px;top:115.85px" width="50" height="23"><path d="M8.6 0.2H45.6a2.6 2.6 0 0 1 2.5 3.3L43.4 19.6a3.4 3.4 0 0 1-3.2 2.3H3.2a2.6 2.6 0 0 1-2.5-3.3L5.4 2.5A3.4 3.4 0 0 1 8.6 .2z" fill="#6b7686"/></svg>
<span style="left:14.01px;top:121.52px;font-size:11.5px;color:#f4f3f6;letter-spacing:0.5px;">MCD</span>
<svg style="left:88.3px;top:122.55px;" width="9.4" height="7.6"><path d="M4.7.1C2 .1.3 2 .3 4.4V7.5h1.9V5.9c.5-.6 1.4-1 2.5-1s2 .4 2.5 1v1.6h1.9V4.4C9.1 2 7.4.1 4.7.1z" fill="#8f8e93"/><circle cx="4.7" cy="3" r="1.55" fill="#222223"/></svg>
<span style="left:103px;top:121.99px;font-size:12px;color:#f4f3f6;letter-spacing:0.36px;">N. Bateman</span>
<span style="left:197px;top:121.89px;font-size:12px;color:#f4f3f6;">-</span>
<div style="left:245px;top:119.75px;width:33px;height:13.8px;background:#272d36;border-radius:6.9px;"></div>
<span style="left:254.6px;top:122.01px;font-size:9.5px;color:#d0d3da;font-weight:bold;letter-spacing:0.3px;">6.8</span>
<div style="left:6px;top:138.82px;width:277px;height:22px;background:#272728;border-radius:5px;"></div>
<svg style="left:4px;top:138.82px" width="50" height="23"><path d="M8.6 0.2H45.6a2.6 2.6 0 0 1 2.5 3.3L43.4 19.6a3.4 3.4 0 0 1-3.2 2.3H3.2a2.6 2.6 0 0 1-2.5-3.3L5.4 2.5A3.4 3.4 0 0 1 8.6 .2z" fill="#6b7686"/></svg>
<span style="left:14.32px;top:144.49px;font-size:11.5px;color:#f4f3f6;letter-spacing:0.5px;">MCS</span>
<svg style="left:88.3px;top:145.52px;" width="9.4" height="7.6"><path d="M4.7.1C2 .1.3 2 .3 4.4V7.5h1.9V5.9c.5-.6 1.4-1 2.5-1s2 .4 2.5 1v1.6h1.9V4.4C9.1 2 7.4.1 4.7.1z" fill="#8f8e93"/><circle cx="4.7" cy="3" r="1.55" fill="#222223"/></svg>
<span style="left:103px;top:144.96px;font-size:12px;color:#f4f3f6;letter-spacing:0.36px;">P. Ekwah</span>
<span style="left:197px;top:144.86px;font-size:12px;color:#f4f3f6;">-</span>
<div style="left:245px;top:142.72px;width:33px;height:13.8px;background:#272d36;border-radius:6.9px;"></div>
<span style="left:254.6px;top:144.98px;font-size:9.5px;color:#d0d3da;font-weight:bold;letter-spacing:0.3px;">6.5</span>
<svg style="left:4px;top:161.79px" width="50" height="23"><path d="M8.6 0.2H45.6a2.6 2.6 0 0 1 2.5 3.3L43.4 19.6a3.4 3.4 0 0 1-3.2 2.3H3.2a2.6 2.6 0 0 1-2.5-3.3L5.4 2.5A3.4 3.4 0 0 1 8.6 .2z" fill="#232b36"/></svg>
<span style="left:19.69px;top:167.46px;font-size:11.5px;color:#f4f3f6;letter-spacing:0.5px;">TD</span>
<div style="left:58px;top:162.89px;width:24px;height:18.8px;background:#d93b41;border-radius:3px;"></div>
<svg style="left:65px;top:167.29px" width="10" height="11"><path d="M7.2 1.2L2.6 5.4l4.6 4.2" fill="none" stroke="#fff" stroke-width="2" stroke-linecap="round" stroke-linejoin="round"/></svg>
<svg style="left:88.3px;top:168.49px;" width="9.4" height="7.6"><path d="M4.7.1C2 .1.3 2 .3 4.4V7.5h1.9V5.9c.5-.6 1.4-1 2.5-1s2 .4 2.5 1v1.6h1.9V4.4C9.1 2 7.4.1 4.7.1z" fill="#8f8e93"/><circle cx="4.7" cy="3" r="1.55" fill="#222223"/></svg>
<span style="left:103px;top:167.93px;font-size:12px;color:#a3a2a7;letter-spacing:0.36px;">A. Barceló</span>
<span style="left:197px;top:167.83px;font-size:12px;color:#a3a2a7;">-</span>
<div style="left:245px;top:165.69px;width:33px;height:13.8px;background:#272d36;border-radius:6.9px;"></div>
<span style="left:254.6px;top:167.95px;font-size:9.5px;color:#d0d3da;font-weight:bold;letter-spacing:0.3px;">6.2</span>
<div style="left:6px;top:184.76px;width:277px;height:22px;background:#272728;border-radius:5px;"></div>
<svg style="left:4px;top:184.76px" width="50" height="23"><path d="M8.6 0.2H45.6a2.6 2.6 0 0 1 2.5 3.3L43.4 19.6a3.4 3.4 0 0 1-3.2 2.3H3.2a2.6 2.6 0 0 1-2.5-3.3L5.4 2.5A3.4 3.4 0 0 1 8.6 .2z" fill="#232b36"/></svg>
<span style="left:19.69px;top:190.43px;font-size:11.5px;color:#f4f3f6;letter-spacing:0.5px;">TC</span>
<svg style="left:88.3px;top:191.46px;" width="9.4" height="7.6"><path d="M4.7.1C2 .1.3 2 .3 4.4V7.5h1.9V5.9c.5-.6 1.4-1 2.5-1s2 .4 2.5 1v1.6h1.9V4.4C9.1 2 7.4.1 4.7.1z" fill="#8f8e93"/><circle cx="4.7" cy="3" r="1.55" fill="#222223"/></svg>
<span style="left:103px;top:190.9px;font-size:12px;color:#f4f3f6;letter-spacing:0.36px;">P. Torre</span>
<span style="left:197px;top:190.8px;font-size:12px;color:#f4f3f6;">-</span>
<div style="left:245px;top:188.66px;width:33px;height:13.8px;background:#272d36;border-radius:6.9px;"></div>
<span style="left:254.6px;top:190.92px;font-size:9.5px;color:#d0d3da;font-weight:bold;letter-spacing:0.3px;">6.3</span>
<svg style="left:4px;top:207.73px" width="50" height="23"><path d="M8.6 0.2H45.6a2.6 2.6 0 0 1 2.5 3.3L43.4 19.6a3.4 3.4 0 0 1-3.2 2.3H3.2a2.6 2.6 0 0 1-2.5-3.3L5.4 2.5A3.4 3.4 0 0 1 8.6 .2z" fill="#232b36"/></svg>
<span style="left:20px;top:213.4px;font-size:11.5px;color:#f4f3f6;letter-spacing:0.5px;">TS</span>
<div style="left:58px;top:208.83px;width:24px;height:18.8px;background:#d93b41;border-radius:3px;"></div>
<svg style="left:65px;top:213.23px" width="10" height="11"><path d="M7.2 1.2L2.6 5.4l4.6 4.2" fill="none" stroke="#fff" stroke-width="2" stroke-linecap="round" stroke-linejoin="round"/></svg>
<svg style="left:88.3px;top:214.43px;" width="9.4" height="7.6"><path d="M4.7.1C2 .1.3 2 .3 4.4V7.5h1.9V5.9c.5-.6 1.4-1 2.5-1s2 .4 2.5 1v1.6h1.9V4.4C9.1 2 7.4.1 4.7.1z" fill="#8f8e93"/><circle cx="4.7" cy="3" r="1.55" fill="#222223"/></svg>
<span style="left:103px;top:213.87px;font-size:12px;color:#a3a2a7;letter-spacing:0.36px;">F. Correia</span>
<span style="left:197px;top:213.77px;font-size:12px;color:#a3a2a7;">-</span>
<div style="left:245px;top:211.63px;width:33px;height:13.8px;background:#272d36;border-radius:6.9px;"></div>
<span style="left:254.6px;top:213.89px;font-size:9.5px;color:#d0d3da;font-weight:bold;letter-spacing:0.3px;">6.2</span>
<div style="left:6px;top:230.7px;width:277px;height:22px;background:#272728;border-radius:5px;"></div>
<svg style="left:4px;top:230.7px" width="50" height="23"><path d="M8.6 0.2H45.6a2.6 2.6 0 0 1 2.5 3.3L43.4 19.6a3.4 3.4 0 0 1-3.2 2.3H3.2a2.6 2.6 0 0 1-2.5-3.3L5.4 2.5A3.4 3.4 0 0 1 8.6 .2z" fill="#685690"/></svg>
<span style="left:19.36px;top:236.37px;font-size:11.5px;color:#f4f3f6;letter-spacing:0.5px;">PC</span>
<div style="left:58px;top:231.8px;width:24px;height:18.8px;background:#d93b41;border-radius:3px;"></div>
<svg style="left:65px;top:236.2px" width="10" height="11"><path d="M7.2 1.2L2.6 5.4l4.6 4.2" fill="none" stroke="#fff" stroke-width="2" stroke-linecap="round" stroke-linejoin="round"/></svg>
<svg style="left:88.3px;top:237.4px;" width="9.4" height="7.6"><path d="M4.7.1C2 .1.3 2 .3 4.4V7.5h1.9V5.9c.5-.6 1.4-1 2.5-1s2 .4 2.5 1v1.6h1.9V4.4C9.1 2 7.4.1 4.7.1z" fill="#8f8e93"/><circle cx="4.7" cy="3" r="1.55" fill="#222223"/></svg>
<span style="left:103px;top:236.84px;font-size:12px;color:#a3a2a7;letter-spacing:0.36px;">A. Sayyadma...</span>
<span style="left:197px;top:236.74px;font-size:12px;color:#a3a2a7;">-</span>
<div style="left:245px;top:234.6px;width:33px;height:13.8px;background:#272d36;border-radius:6.9px;"></div>
<span style="left:254.6px;top:236.86px;font-size:9.5px;color:#d0d3da;font-weight:bold;letter-spacing:0.3px;">6.3</span>
<svg style="left:4px;top:253.67px" width="50" height="23"><path d="M8.6 0.2H45.6a2.6 2.6 0 0 1 2.5 3.3L43.4 19.6a3.4 3.4 0 0 1-3.2 2.3H3.2a2.6 2.6 0 0 1-2.5-3.3L5.4 2.5A3.4 3.4 0 0 1 8.6 .2z" fill="#55555d"/></svg>
<span style="left:20.32px;top:259.34px;font-size:11.5px;color:#f4f3f6;letter-spacing:0.5px;">S1</span>
<div style="left:58px;top:254.77px;width:24px;height:18.8px;background:#5fbc7e;border-radius:3px;"></div>
<svg style="left:65.5px;top:259.16999999999996px" width="10" height="11"><path d="M2.8 1.2l4.6 4.2-4.6 4.2" fill="none" stroke="#fff" stroke-width="2" stroke-linecap="round" stroke-linejoin="round"/></svg>
<svg style="left:88.3px;top:260.37px;" width="9.4" height="7.6"><path d="M4.7.1C2 .1.3 2 .3 4.4V7.5h1.9V5.9c.5-.6 1.4-1 2.5-1s2 .4 2.5 1v1.6h1.9V4.4C9.1 2 7.4.1 4.7.1z" fill="#8f8e93"/><circle cx="4.7" cy="3" r="1.55" fill="#222223"/></svg>
<span style="left:103px;top:259.81px;font-size:12px;color:#f4f3f6;letter-spacing:0.36px;">T. Galvez</span>
<span style="left:197px;top:259.71px;font-size:12px;color:#f4f3f6;">-</span>
<div style="left:245px;top:257.57px;width:33px;height:13.8px;background:#272d36;border-radius:6.9px;"></div>
<span style="left:254.6px;top:259.83px;font-size:9.5px;color:#d0d3da;font-weight:bold;letter-spacing:0.3px;">6.5</span>
<div style="left:6px;top:276.64px;width:277px;height:22px;background:#272728;border-radius:5px;"></div>
<svg style="left:4px;top:276.64px" width="50" height="23"><path d="M8.6 0.2H45.6a2.6 2.6 0 0 1 2.5 3.3L43.4 19.6a3.4 3.4 0 0 1-3.2 2.3H3.2a2.6 2.6 0 0 1-2.5-3.3L5.4 2.5A3.4 3.4 0 0 1 8.6 .2z" fill="#55555d"/></svg>
<span style="left:20.32px;top:282.31px;font-size:11.5px;color:#f4f3f6;letter-spacing:0.5px;">S2</span>
<div style="left:58px;top:277.74px;width:24px;height:18.8px;background:#5fbc7e;border-radius:3px;"></div>
<svg style="left:65.5px;top:282.14px" width="10" height="11"><path d="M2.8 1.2l4.6 4.2-4.6 4.2" fill="none" stroke="#fff" stroke-width="2" stroke-linecap="round" stroke-linejoin="round"/></svg>
<svg style="left:88.3px;top:283.34px;" width="9.4" height="7.6"><path d="M4.7.1C2 .1.3 2 .3 4.4V7.5h1.9V5.9c.5-.6 1.4-1 2.5-1s2 .4 2.5 1v1.6h1.9V4.4C9.1 2 7.4.1 4.7.1z" fill="#8f8e93"/><circle cx="4.7" cy="3" r="1.55" fill="#222223"/></svg>
<span style="left:103px;top:282.78px;font-size:12px;color:#f4f3f6;letter-spacing:0.36px;">G. Oristanio</span>
<span style="left:197px;top:282.68px;font-size:12px;color:#f4f3f6;">-</span>
<div style="left:245px;top:280.54px;width:33px;height:13.8px;background:#272d36;border-radius:6.9px;"></div>
<span style="left:254.6px;top:282.8px;font-size:9.5px;color:#d0d3da;font-weight:bold;letter-spacing:0.3px;">6.5</span>
<svg style="left:4px;top:299.61px" width="50" height="23"><path d="M8.6 0.2H45.6a2.6 2.6 0 0 1 2.5 3.3L43.4 19.6a3.4 3.4 0 0 1-3.2 2.3H3.2a2.6 2.6 0 0 1-2.5-3.3L5.4 2.5A3.4 3.4 0 0 1 8.6 .2z" fill="#55555d"/></svg>
<span style="left:20.32px;top:305.28px;font-size:11.5px;color:#f4f3f6;letter-spacing:0.5px;">S3</span>
<svg style="left:88.3px;top:306.31px;" width="9.4" height="7.6"><path d="M4.7.1C2 .1.3 2 .3 4.4V7.5h1.9V5.9c.5-.6 1.4-1 2.5-1s2 .4 2.5 1v1.6h1.9V4.4C9.1 2 7.4.1 4.7.1z" fill="#8f8e93"/><circle cx="4.7" cy="3" r="1.55" fill="#222223"/></svg>
<span style="left:103px;top:305.75px;font-size:12px;color:#a3a2a7;letter-spacing:0.36px;">R. Waldron</span>
<span style="left:197px;top:305.65px;font-size:12px;color:#a3a2a7;">-</span>
<div style="left:245px;top:303.51px;width:33px;height:13.8px;background:#272d36;border-radius:6.9px;"></div>
<span style="left:260.14px;top:305.45px;font-size:10px;color:#c5c8cf;font-weight:bold;">-</span>
<div style="left:6px;top:322.58px;width:277px;height:22px;background:#272728;border-radius:5px;"></div>
<svg style="left:4px;top:322.58px" width="50" height="23"><path d="M8.6 0.2H45.6a2.6 2.6 0 0 1 2.5 3.3L43.4 19.6a3.4 3.4 0 0 1-3.2 2.3H3.2a2.6 2.6 0 0 1-2.5-3.3L5.4 2.5A3.4 3.4 0 0 1 8.6 .2z" fill="#55555d"/></svg>
<span style="left:20.32px;top:328.25px;font-size:11.5px;color:#f4f3f6;letter-spacing:0.5px;">S4</span>
<div style="left:58px;top:323.68px;width:24px;height:18.8px;background:#5fbc7e;border-radius:3px;"></div>
<svg style="left:65.5px;top:328.08px" width="10" height="11"><path d="M2.8 1.2l4.6 4.2-4.6 4.2" fill="none" stroke="#fff" stroke-width="2" stroke-linecap="round" stroke-linejoin="round"/></svg>
<svg style="left:88.3px;top:329.28px;" width="9.4" height="7.6"><path d="M4.7.1C2 .1.3 2 .3 4.4V7.5h1.9V5.9c.5-.6 1.4-1 2.5-1s2 .4 2.5 1v1.6h1.9V4.4C9.1 2 7.4.1 4.7.1z" fill="#8f8e93"/><circle cx="4.7" cy="3" r="1.55" fill="#222223"/></svg>
<span style="left:103px;top:328.72px;font-size:12px;color:#f4f3f6;letter-spacing:0.36px;">J. Ferreira</span>
<span style="left:197px;top:328.62px;font-size:12px;color:#f4f3f6;">-</span>
<div style="left:245px;top:326.48px;width:33px;height:13.8px;background:#272d36;border-radius:6.9px;"></div>
<span style="left:260.14px;top:328.42px;font-size:10px;color:#c5c8cf;font-weight:bold;">-</span>
<svg style="left:4px;top:345.54999999999995px" width="50" height="23"><path d="M8.6 0.2H45.6a2.6 2.6 0 0 1 2.5 3.3L43.4 19.6a3.4 3.4 0 0 1-3.2 2.3H3.2a2.6 2.6 0 0 1-2.5-3.3L5.4 2.5A3.4 3.4 0 0 1 8.6 .2z" fill="#55555d"/></svg>
<span style="left:20.32px;top:351.22px;font-size:11.5px;color:#f4f3f6;letter-spacing:0.5px;">S5</span>
<svg style="left:88.3px;top:352.25px;" width="9.4" height="7.6"><path d="M4.7.1C2 .1.3 2 .3 4.4V7.5h1.9V5.9c.5-.6 1.4-1 2.5-1s2 .4 2.5 1v1.6h1.9V4.4C9.1 2 7.4.1 4.7.1z" fill="#8f8e93"/><circle cx="4.7" cy="3" r="1.55" fill="#222223"/></svg>
<span style="left:103px;top:351.69px;font-size:12px;color:#a3a2a7;letter-spacing:0.36px;">A. Thompson</span>
<span style="left:197px;top:351.59px;font-size:12px;color:#a3a2a7;">-</span>
<div style="left:245px;top:349.45px;width:33px;height:13.8px;background:#272d36;border-radius:6.9px;"></div>
<span style="left:260.14px;top:351.38px;font-size:10px;color:#c5c8cf;font-weight:bold;">-</span>
<div style="left:6px;top:368.52px;width:277px;height:22px;background:#272728;border-radius:5px;"></div>
<svg style="left:4px;top:368.52px" width="50" height="23"><path d="M8.6 0.2H45.6a2.6 2.6 0 0 1 2.5 3.3L43.4 19.6a3.4 3.4 0 0 1-3.2 2.3H3.2a2.6 2.6 0 0 1-2.5-3.3L5.4 2.5A3.4 3.4 0 0 1 8.6 .2z" fill="#55555d"/></svg>
<span style="left:20.32px;top:374.19px;font-size:11.5px;color:#f4f3f6;letter-spacing:0.5px;">S6</span>
<div style="left:58px;top:369.62px;width:24px;height:18.8px;background:#5fbc7e;border-radius:3px;"></div>
<svg style="left:65.5px;top:374.02px" width="10" height="11"><path d="M2.8 1.2l4.6 4.2-4.6 4.2" fill="none" stroke="#fff" stroke-width="2" stroke-linecap="round" stroke-linejoin="round"/></svg>
<svg style="left:88.3px;top:375.22px;" width="9.4" height="7.6"><path d="M4.7.1C2 .1.3 2 .3 4.4V7.5h1.9V5.9c.5-.6 1.4-1 2.5-1s2 .4 2.5 1v1.6h1.9V4.4C9.1 2 7.4.1 4.7.1z" fill="#8f8e93"/><circle cx="4.7" cy="3" r="1.55" fill="#222223"/></svg>
<span style="left:103px;top:374.66px;font-size:12px;color:#f4f3f6;letter-spacing:0.36px;">J. McAlister</span>
<span style="left:197px;top:374.56px;font-size:12px;color:#f4f3f6;">-</span>
<div style="left:245px;top:372.42px;width:33px;height:13.8px;background:#272d36;border-radius:6.9px;"></div>
<span style="left:260.14px;top:374.36px;font-size:10px;color:#c5c8cf;font-weight:bold;">-</span>
<svg style="left:4px;top:391.49px" width="50" height="23"><path d="M8.6 0.2H45.6a2.6 2.6 0 0 1 2.5 3.3L43.4 19.6a3.4 3.4 0 0 1-3.2 2.3H3.2a2.6 2.6 0 0 1-2.5-3.3L5.4 2.5A3.4 3.4 0 0 1 8.6 .2z" fill="#55555d"/></svg>
<span style="left:20.32px;top:397.16px;font-size:11.5px;color:#f4f3f6;letter-spacing:0.5px;">S7</span>
<svg style="left:88.3px;top:398.19px;" width="9.4" height="7.6"><path d="M4.7.1C2 .1.3 2 .3 4.4V7.5h1.9V5.9c.5-.6 1.4-1 2.5-1s2 .4 2.5 1v1.6h1.9V4.4C9.1 2 7.4.1 4.7.1z" fill="#8f8e93"/><circle cx="4.7" cy="3" r="1.55" fill="#222223"/></svg>
<span style="left:103px;top:397.63px;font-size:12px;color:#a3a2a7;letter-spacing:0.36px;">J. Brown</span>
<span style="left:197px;top:397.53px;font-size:12px;color:#a3a2a7;">-</span>
<div style="left:245px;top:395.39px;width:33px;height:13.8px;background:#272d36;border-radius:6.9px;"></div>
<span style="left:260.14px;top:397.33px;font-size:10px;color:#c5c8cf;font-weight:bold;">-</span>
<div style="left:6px;top:414.46px;width:277px;height:22px;background:#272728;border-radius:5px;"></div>
<svg style="left:4px;top:414.46px" width="50" height="23"><path d="M8.6 0.2H45.6a2.6 2.6 0 0 1 2.5 3.3L43.4 19.6a3.4 3.4 0 0 1-3.2 2.3H3.2a2.6 2.6 0 0 1-2.5-3.3L5.4 2.5A3.4 3.4 0 0 1 8.6 .2z" fill="#55555d"/></svg>
<span style="left:20.32px;top:420.13px;font-size:11.5px;color:#f4f3f6;letter-spacing:0.5px;">S8</span>
<svg style="left:88.3px;top:421.16px;" width="9.4" height="7.6"><path d="M4.7.1C2 .1.3 2 .3 4.4V7.5h1.9V5.9c.5-.6 1.4-1 2.5-1s2 .4 2.5 1v1.6h1.9V4.4C9.1 2 7.4.1 4.7.1z" fill="#8f8e93"/><circle cx="4.7" cy="3" r="1.55" fill="#222223"/></svg>
<span style="left:103px;top:420.6px;font-size:12px;color:#a3a2a7;letter-spacing:0.36px;">E. Jones</span>
<span style="left:197px;top:420.5px;font-size:12px;color:#a3a2a7;">-</span>
<div style="left:245px;top:418.36px;width:33px;height:13.8px;background:#272d36;border-radius:6.9px;"></div>
<span style="left:260.14px;top:420.3px;font-size:10px;color:#c5c8cf;font-weight:bold;">-</span>
</div>
<div style="left:1886px;top:189px;width:2.6px;height:400px;background:#4e4e51;border-radius:1.3px;"></div>
<div style="left:15px;top:757px;width:625px;height:309px;background:#232324;border-radius:6px;"></div>
<span style="left:22px;top:764.57px;font-size:11.5px;color:#fff;font-weight:bold;letter-spacing:-0.05px;">XG A PARTITA</span>
<span style="left:22px;top:784.04px;font-size:12px;color:#8b8a8f;letter-spacing:0.57px;">Sheffield - Luton, 22/4/2030</span>
<svg style="left:597px;top:763px;" width="15" height="14"><path d="M7.5 1.3l1.9 3.9 4.3.6-3.1 3 .75 4.3L7.5 11.1 3.65 13.1l.75-4.3-3.1-3 4.3-.6z" fill="none" stroke="#8c8b90" stroke-width="1.2" stroke-linejoin="round"/></svg>
<svg style="left:619.5px;top:764.5px;" width="11" height="11"><path d="M5.6 1H10V5.4M1 5.6V10H5.4" fill="none" stroke="#f4f1ec" stroke-width="1.7"/></svg>
<svg style="left:26.6px;top:801.6px;" width="10.2" height="10.2" viewBox="0 0 12 12"><circle cx="6" cy="6" r="5.7" fill="#f1ede6"/><path d="M8.02 0.14L10.95 2.27L8.29 2.84zM12.20 6.11L11.08 9.56L9.71 7.21zM7.81 11.93L4.19 11.93L6.00 9.90zM0.92 9.56L-0.20 6.11L2.29 7.21zM1.05 2.27L3.98 0.14L3.71 2.84zM6.00 4.10L7.81 5.41L7.12 7.54L4.88 7.54L4.19 5.41z" fill="#2a2a2b"/></svg>
<span style="left:43px;top:801.11px;font-size:10.5px;color:#e6e5e9;letter-spacing:-0.4px;">Reti: 2 - 0</span>
<div style="left:109.2px;top:800px;width:1px;height:14px;background:#4a4a4d;"></div>
<svg style="left:116.6px;top:800.6px;" width="14.6" height="12.6"><path d="M.6 12.4V6.2L4.2 1.6h6.2L14 6.2v6.2z" fill="#f1ede6"/><path d="M4.4 3.4h5.8M3.4 5h7.8" stroke="#232324" stroke-width=".7"/><text x="7.3" y="11.6" font-size="6.4" font-weight="bold" text-anchor="middle" fill="#232324" font-family="Liberation Sans,sans-serif">xG</text></svg>
<span style="left:141.3px;top:801.11px;font-size:10.5px;color:#e6e5e9;letter-spacing:-0.04px;">Totale xG: 2.20 - 0.38</span>
<svg style="left:0px;top:830px;" width="640" height="240" viewBox="0 830 640 240"><g fill="none"><path d="M27.5 844V1051.5H625M27.5 948.5H625M327.3 844V1051.5" stroke="#adadaf" stroke-width="3.1" stroke-linecap="butt"/><path d="M131 1052V1041.2H187.4V1035.8H531V1023.2H622.6V1015.6H625" stroke="#ffffff" stroke-width="4.1" stroke-linejoin="miter"/><path d="M46.2 1052V1031.2H63.2V1029H254.4V1027.6H273.3V1025.2H280V1023.5H286.3V948.6H306V946.2H314.5V934.8H347.2V928.7H359.2V925.2H391.9V911.8H406.3V889.5H449.6V887.4H497.4V843.4H625" stroke="#e40404" stroke-width="4.1" stroke-linejoin="miter"/></g><circle cx="395.5" cy="884.5" r="4.6" fill="#e00a0a"/><path d="M395.5 882.4l2 1.5-.8 2.4h-2.4l-.8-2.4z" fill="#4a0a0a"/><circle cx="395.5" cy="884.5" r="3.6" fill="none" stroke="#7a0808" stroke-width=".7"/><circle cx="486.5" cy="837.6" r="4.6" fill="#e00a0a"/><path d="M486.5 835.5l2 1.5-.8 2.4h-2.4l-.8-2.4z" fill="#4a0a0a"/><circle cx="486.5" cy="837.6" r="3.6" fill="none" stroke="#7a0808" stroke-width=".7"/><circle cx="406.3" cy="889.5" r="2.3" fill="#d00808"/><circle cx="497.4" cy="843.4" r="2.3" fill="#d00808"/></svg>
<svg style="left:651px;top:658px;" width="26" height="23.4" viewBox="-1 -0.5 72 63.8"><g stroke="#f3ead6" stroke-width="2.6" stroke-linejoin="round" fill="#f3ead6"><rect x="5.4" y="50.6" width="60.4" height="11" /><path d="M18 7L26 9 35.5 4 45 9 53 7 52 40C50 46 42 50 35.5 52.5 29 50 21 46 19 40z"/><path d="M13.8 2.5a3.2 3.2 0 1 1 -0.1 0M9 9H17.5L18 22 17 38 15.5 50.5H8L10.5 36 9.8 24 4 21 2 17z"/><path d="M57.2 2.5a3.2 3.2 0 1 0 0.1 0M62 9H53.5L53 22 54 38 55.5 50.5H63L60.5 36 61.2 24 67 21 69 17z"/></g><circle cx="13.8" cy="5.8" r="3" fill="#1a1a1a" stroke="#d9b46a" stroke-width=".9"/><path d="M11 4.3h5.6v1.5H11z" fill="#2f6fc0"/><path d="M9.5 9.2H17.3L18 21.5H10L4.5 20.5 2.4 17z" fill="#2e74c8" stroke="#d9b46a" stroke-width=".9" stroke-linejoin="round"/><circle cx="11.3" cy="18.3" r="2.6" fill="#c99a4a"/><path d="M10 21.5H18L17.2 30 13.5 38 10.5 36.5z" fill="#fff" stroke="#d9b46a" stroke-width=".6"/><path d="M13.5 38L17 31 17.3 38 15.8 50.5H13.8L14.5 41z" fill="#111" stroke="#d9b46a" stroke-width=".8"/><path d="M10.5 36.5L12.6 38 11 50.5H8.2z" fill="#2e74c8" stroke="#d9b46a" stroke-width=".8"/><circle cx="57.2" cy="5.8" r="3" fill="#1a1a1a" stroke="#d9b46a" stroke-width=".9"/><path d="M61.5 9.2H53.7L53 21.5H61L66.5 20.5 68.6 17z" fill="#cf3354" stroke="#d9b46a" stroke-width=".9" stroke-linejoin="round"/><path d="M58 16.5L67 18 67.5 20.3 59 21z" fill="#fff"/><path d="M61 21.5H53L53.8 30 57.5 38 60.5 36.5z" fill="#c22a4c" stroke="#d9b46a" stroke-width=".6"/><path d="M57.5 38L54 31 53.7 38 55.2 50.5H57.2L56.5 41z" fill="#111" stroke="#d9b46a" stroke-width=".8"/><path d="M60.5 36.5L58.4 38 60 50.5H62.8z" fill="#cf3354" stroke="#d9b46a" stroke-width=".8"/><defs><clipPath id="shc"><path d="M20.6 10.2L26.5 11.6 35.5 7 44.5 11.6 50.4 10.2 49.6 39C47.5 44.2 41 47.6 35.5 49.8 30 47.6 23.5 44.2 21.4 39z"/></clipPath></defs><path d="M18 7L26 9 35.5 4 45 9 53 7 52 40C50 46 42 50 35.5 52.5 29 50 21 46 19 40z" fill="#1a1408" stroke="#d9b46a" stroke-width="1.3" stroke-linejoin="round"/><g clip-path="url(#shc)"><rect x="18" y="4" width="17.4" height="21" fill="#111"/><rect x="35.4" y="4" width="18" height="21" fill="#cf3354"/><rect x="18" y="30" width="17.4" height="24" fill="#c3203f"/><rect x="35.4" y="30" width="18" height="24" fill="#111"/><rect x="18" y="24.3" width="36" height="6.8" fill="#fff"/></g><path d="M20.6 10.2L26.5 11.6 35.5 7 44.5 11.6 50.4 10.2 49.6 39C47.5 44.2 41 47.6 35.5 49.8 30 47.6 23.5 44.2 21.4 39z" fill="none" stroke="#d9b46a" stroke-width=".9"/><circle cx="43" cy="37.8" r="3.9" fill="#c99a4a"/><path d="M40 36l6 3.5M41 40.5l4.5-5.5" stroke="#111" stroke-width=".5"/><text x="27.2" y="20.4" font-size="4.8" font-weight="bold" fill="#d9b46a" text-anchor="middle" font-family="Liberation Sans,sans-serif" textLength="9.5" lengthAdjust="spacingAndGlyphs">1857</text><text x="35.6" y="29.9" font-size="4.6" font-weight="bold" fill="#111" text-anchor="middle" font-family="Liberation Sans,sans-serif" textLength="26" lengthAdjust="spacingAndGlyphs">SHEFFIELD F.C.</text><rect x="5.4" y="50.6" width="60.4" height="11" fill="#0d0d0d" stroke="#d9b46a" stroke-width="1.1"/><text x="35.6" y="57.6" font-size="3.5" font-weight="bold" fill="#d9b46a" text-anchor="middle" font-family="Liberation Sans,sans-serif" textLength="52" lengthAdjust="spacingAndGlyphs">THE WORLD'S FIRST FOOTBALL CLUB</text></svg>
<span style="left:796.75px;top:659.84px;font-size:12px;color:#a9a8ad;letter-spacing:0.75px;">Sheffield</span>
<span style="left:683.3px;top:674.53px;font-size:10px;color:#f4f3f6;font-weight:bold;letter-spacing:-0.01px;">4-1-4-1 M POSITIVA - PERSONALIZZA PERSONALIZZA...</span>
<svg style="left:953px;top:675.5px;" width="8" height="10"><path d="M2.5 1.5l3.4 3.5-3.4 3.5" fill="none" stroke="#d9d6d0" stroke-width="1.6" stroke-linecap="round" stroke-linejoin="round"/></svg>
<span style="left:1095.75px;top:659.84px;font-size:12px;color:#a9a8ad;letter-spacing:0.62px;">Luton</span>
<span style="left:1051px;top:674.53px;font-size:10px;color:#f4f3f6;font-weight:bold;letter-spacing:0.22px;">4-2-3-1 M COF LARGA</span>
<svg style="left:1162px;top:675.5px;" width="8" height="10"><path d="M2.5 1.5l3.4 3.5-3.4 3.5" fill="none" stroke="#d9d6d0" stroke-width="1.6" stroke-linecap="round" stroke-linejoin="round"/></svg>
<svg style="left:1258.5px;top:657.5px;" width="27" height="27" viewBox="0 0 64 64"><defs><linearGradient id="lg3" x1="0" y1="0" x2="0" y2="1"><stop offset="0.45" stop-color="#fff"/><stop offset="1" stop-color="#d9d9dc"/></linearGradient><path id="lt3" d="M9.2 32A22.8 22.8 0 0 1 54.8 32"/><path id="lb3" d="M4.2 32A27.8 27.8 0 0 0 59.8 32"/></defs><circle cx="32" cy="32" r="31.5" fill="url(#lg3)"/><text font-size="7.6" font-weight="bold" fill="#1b3a6e" font-family="Liberation Sans,sans-serif" letter-spacing="-.1"><textPath href="#lt3" startOffset="50%" text-anchor="middle">LUTON TOWN</textPath></text><text font-size="7.4" font-weight="bold" fill="#1b3a6e" font-family="Liberation Sans,sans-serif" letter-spacing="-.1"><textPath href="#lb3" startOffset="50%" text-anchor="middle">FOOTBALL CLUB</textPath></text><text x="9" y="34" font-size="3.2" fill="#8a8a8a" text-anchor="middle" font-family="Liberation Serif,serif">EST</text><text x="53.2" y="34" font-size="3.2" fill="#8a8a8a" text-anchor="middle" font-family="Liberation Serif,serif">1885</text><path d="M20 23.5H44V42C42 46 36 49.5 32 51 28 49.5 22 46 20 42z" fill="#fff" stroke="#9a9a9a" stroke-width=".8"/><rect x="22" y="25" width="7.6" height="9" fill="#f08c1c"/><rect x="34.4" y="25" width="7.6" height="9" fill="#1d3f73"/><path d="M22 37.5h7.6V47.5C26.5 46.5 23.5 44.5 22 42z" fill="#1d3f73"/><path d="M34.4 37.5H42V42C40.5 44.5 37.5 46.5 34.4 47.5z" fill="#f08c1c"/><circle cx="38" cy="30" r="2" fill="#f2d44a"/><rect x="24.6" y="26.5" width="2.4" height="6" fill="#f7d98a"/><path d="M24.5 41l2 3.5 1.5-4" stroke="#5fae4a" stroke-width="1" fill="none"/><path d="M36.5 41l1.8 3.2 1.7-4" stroke="#5fae4a" stroke-width="1" fill="none"/><circle cx="26" cy="39.8" r="1" fill="#fff"/><circle cx="32" cy="36" r="1.2" fill="#8a5a1a"/><ellipse cx="33" cy="20.3" rx="8.3" ry="2.7" fill="#f2cf4e" transform="rotate(-12 33 20.3)"/><ellipse cx="33.2" cy="17.8" rx="5.2" ry="2.2" fill="#f7e07a" transform="rotate(-12 33.2 17.8)"/><path d="M28 20.1c3 .8 7.5 0 10.2-2.2" stroke="#2b56a0" stroke-width="1.1" fill="none"/><path d="M38.5 17.2l3.4-1.2 1 1.6-3.6.9z" fill="#f08c1c"/></svg>
<svg style="left:710.2px;top:710.2px;" width="226.6" height="331.3" viewBox="0 0 226.6 331.3"><g fill="none" stroke="#8d8d8f" stroke-width="1.1"><rect x="0.5" y="0.5" width="225.6" height="330.3"/><path d="M0.5 165.65H226.1"/><circle cx="113.3" cy="165.65" r="30"/><path d="M46.5 0.5V54.3H179.6V0.5M82.3 0.5V18.2H143.5V0.5"/><path d="M88 54.3A30.3 30.3 0 0 0 137 54.3"/><path d="M46.5 330.8V277.0H179.6V330.8M82.3 330.8V313.1H143.5V330.8"/><path d="M88 277.0A30.3 30.3 0 0 1 137 277.0"/><path d="M0.5 4A3.5 3.5 0 0 0 4 .5M222.6 .5A3.5 3.5 0 0 0 226.1 4M0.5 327.3A3.5 3.5 0 0 1 4 330.8M222.6 330.8A3.5 3.5 0 0 1 226.1 327.3"/></g><circle cx="113.3" cy="35.3" r=".9" fill="#8d8d8f"/><circle cx="113.3" cy="296.0" r=".9" fill="#8d8d8f"/><defs><filter id="h1a" x="-20%" y="-20%" width="140%" height="140%"><feGaussianBlur stdDeviation="5.6"/></filter><filter id="h1b" x="-20%" y="-20%" width="140%" height="140%"><feGaussianBlur stdDeviation="4.6"/></filter><filter id="h1c" x="-20%" y="-20%" width="140%" height="140%"><feGaussianBlur stdDeviation="3.6"/></filter><clipPath id="h1k"><rect x="0" y="0" width="226.6" height="331.3"/></clipPath></defs><g clip-path="url(#h1k)"><g filter="url(#h1a)" fill="#22229a" opacity="0.46"><ellipse cx="9.8" cy="19.8" rx="18.33" ry="21.67"/><ellipse cx="16.47" cy="49.8" rx="20" ry="16.67"/><ellipse cx="211.47" cy="28.13" rx="20" ry="33.33"/><ellipse cx="186.47" cy="69.8" rx="33.33" ry="20"/><ellipse cx="44.8" cy="94.8" rx="41.67" ry="23.33"/><ellipse cx="111.47" cy="114.8" rx="116.67" ry="58.33"/><ellipse cx="153.13" cy="44.8" rx="13.33" ry="10"/><ellipse cx="191.47" cy="16.47" rx="10" ry="10"/><ellipse cx="111.47" cy="218.13" rx="116.67" ry="56.67"/><ellipse cx="53.13" cy="259.8" rx="23.33" ry="18.33"/><ellipse cx="111.47" cy="268.13" rx="36.67" ry="15"/><ellipse cx="169.8" cy="256.47" rx="21.67" ry="18.33"/><ellipse cx="111.47" cy="314.8" rx="18.33" ry="21.67"/><ellipse cx="158.13" cy="306.47" rx="20" ry="15"/><ellipse cx="64.8" cy="293.13" rx="13.33" ry="13.33"/><ellipse cx="211.47" cy="259.8" rx="11.67" ry="16.67"/><ellipse cx="19.8" cy="239.8" rx="15" ry="15"/><ellipse cx="28.13" cy="323.13" rx="10" ry="10"/><ellipse cx="186.47" cy="279.8" rx="11.67" ry="11.67"/></g><g filter="url(#h1a)" fill="#3131fb" opacity="0.92"><ellipse cx="6.47" cy="6.47" rx="9" ry="9"/><ellipse cx="14.8" cy="38.13" rx="12" ry="14"/><ellipse cx="26.47" cy="103.13" rx="13" ry="13"/><ellipse cx="9.8" cy="128.13" rx="11" ry="11"/><ellipse cx="44.8" cy="88.13" rx="10" ry="10"/><ellipse cx="64.8" cy="103.13" rx="12" ry="12"/><ellipse cx="88.13" cy="116.47" rx="11" ry="11"/><ellipse cx="128.13" cy="111.47" rx="15" ry="15"/><ellipse cx="161.47" cy="101.47" rx="16" ry="16"/><ellipse cx="186.47" cy="88.13" rx="13" ry="13"/><ellipse cx="211.47" cy="69.8" rx="10" ry="10"/><ellipse cx="214.8" cy="36.47" rx="9" ry="9"/><ellipse cx="218.13" cy="8.13" rx="7" ry="7"/><ellipse cx="203.13" cy="111.47" rx="18" ry="18"/><ellipse cx="101.47" cy="144.8" rx="14" ry="14"/><ellipse cx="104.8" cy="161.47" rx="140" ry="26"/><ellipse cx="111.47" cy="169.8" rx="140" ry="24"/><ellipse cx="111.47" cy="226.47" rx="22" ry="16"/><ellipse cx="94.8" cy="214.8" rx="12" ry="12"/><ellipse cx="136.47" cy="226.47" rx="12" ry="12"/><ellipse cx="11.47" cy="234.8" rx="9" ry="9"/><ellipse cx="53.13" cy="258.13" rx="12" ry="10"/><ellipse cx="111.47" cy="263.13" rx="11" ry="8"/><ellipse cx="141.47" cy="259.8" rx="8" ry="8"/><ellipse cx="169.8" cy="249.8" rx="9" ry="9"/><ellipse cx="208.13" cy="218.13" rx="11" ry="11"/><ellipse cx="186.47" cy="276.47" rx="7" ry="7"/><ellipse cx="111.47" cy="318.13" rx="8" ry="13"/><ellipse cx="158.13" cy="309.8" rx="9" ry="9"/><ellipse cx="134.8" cy="286.47" rx="7" ry="7"/><ellipse cx="64.8" cy="293.13" rx="7" ry="7"/><ellipse cx="203.13" cy="201.47" rx="14" ry="14"/><ellipse cx="169.8" cy="226.47" rx="18" ry="18"/></g><g filter="url(#h1b)" fill="#1ee4f4" opacity="0.95"><ellipse cx="158.36" cy="119.46" rx="18.36" ry="18.36"/><ellipse cx="177.81" cy="125.94" rx="19.89" ry="19.89"/><ellipse cx="184.29" cy="145.39" rx="19.89" ry="19.89"/><ellipse cx="164.84" cy="151.87" rx="23.71" ry="23.71"/><ellipse cx="138.91" cy="142.15" rx="16.06" ry="16.06"/><ellipse cx="132.43" cy="155.12" rx="16.06" ry="16.06"/><ellipse cx="200.5" cy="151.87" rx="16.06" ry="16.06"/><ellipse cx="214.11" cy="142.15" rx="12.24" ry="12.24"/><ellipse cx="216.7" cy="164.84" rx="11.47" ry="11.47"/><ellipse cx="151.87" cy="184.29" rx="19.89" ry="19.89"/><ellipse cx="171.32" cy="184.29" rx="16.06" ry="16.06"/><ellipse cx="191.42" cy="192.39" rx="10.33" ry="10.33"/><ellipse cx="166.46" cy="218.33" rx="14.15" ry="16.06"/><ellipse cx="112.98" cy="184.29" rx="16.06" ry="11.47"/><ellipse cx="96.77" cy="171.32" rx="16.06" ry="16.06"/><ellipse cx="22.21" cy="164.84" rx="29.83" ry="29.83"/><ellipse cx="51.39" cy="142.15" rx="23.71" ry="23.71"/><ellipse cx="54.63" cy="184.29" rx="40.16" ry="40.16"/><ellipse cx="64.35" cy="216.7" rx="21.04" ry="21.04"/><ellipse cx="38.42" cy="211.84" rx="19.89" ry="19.89"/><ellipse cx="87.04" cy="190.77" rx="19.89" ry="19.89"/><ellipse cx="9.25" cy="184.29" rx="15.3" ry="15.3"/></g><g filter="url(#h1b)" fill="#38f85a" opacity="0.95"><ellipse cx="176.19" cy="125.94" rx="11.47" ry="13"/><ellipse cx="167.43" cy="145.39" rx="11.47" ry="11.47"/><ellipse cx="132.43" cy="150.25" rx="12.24" ry="9.18"/><ellipse cx="151.87" cy="182.67" rx="11.47" ry="8.41"/><ellipse cx="167.11" cy="218.33" rx="8.41" ry="10.71"/><ellipse cx="184.29" cy="142.15" rx="8.41" ry="8.41"/><ellipse cx="15.73" cy="164.84" rx="19.89" ry="15.3"/><ellipse cx="54.63" cy="145.39" rx="18.36" ry="18.36"/><ellipse cx="64.35" cy="166.46" rx="22.18" ry="19.12"/><ellipse cx="67.6" cy="187.53" rx="22.18" ry="21.04"/><ellipse cx="62.73" cy="207.63" rx="16.06" ry="13.77"/><ellipse cx="48.15" cy="217.35" rx="9.94" ry="8.41"/><ellipse cx="35.18" cy="172.94" rx="16.06" ry="13"/><ellipse cx="83.8" cy="184.29" rx="12.24" ry="9.94"/><ellipse cx="96.77" cy="172.94" rx="11.47" ry="6.88"/><ellipse cx="28.7" cy="155.12" rx="15.3" ry="11.47"/></g><g filter="url(#h1c)" fill="#c4ff20" opacity="0.95"><ellipse cx="59.49" cy="155.12" rx="9.27" ry="9.27"/><ellipse cx="67.6" cy="182.67" rx="10.7" ry="12.12"/><ellipse cx="12.49" cy="164.84" rx="7.84" ry="4.99"/><ellipse cx="62.73" cy="202.12" rx="5.35" ry="5.35"/><ellipse cx="135.67" cy="151.87" rx="5.35" ry="3.92"/></g></g><g filter="url(#h1b)" fill="#2c2cf0" opacity=".92"><ellipse cx="33.56" cy="188.18" rx="6.48" ry="12.32"/><ellipse cx="101.63" cy="145.39" rx="10.37" ry="7.78"/><ellipse cx="127.56" cy="179.43" rx="9.72" ry="6.48"/><ellipse cx="197.26" cy="181.05" rx="9.08" ry="7.13"/></g><g opacity="0.3"><g fill="none" stroke="#8d8d8f" stroke-width="1.1"><rect x="0.5" y="0.5" width="225.6" height="330.3"/><path d="M0.5 165.65H226.1"/><circle cx="113.3" cy="165.65" r="30"/><path d="M46.5 0.5V54.3H179.6V0.5M82.3 0.5V18.2H143.5V0.5"/><path d="M88 54.3A30.3 30.3 0 0 0 137 54.3"/><path d="M46.5 330.8V277.0H179.6V330.8M82.3 330.8V313.1H143.5V330.8"/><path d="M88 277.0A30.3 30.3 0 0 1 137 277.0"/><path d="M0.5 4A3.5 3.5 0 0 0 4 .5M222.6 .5A3.5 3.5 0 0 0 226.1 4M0.5 327.3A3.5 3.5 0 0 1 4 330.8M222.6 330.8A3.5 3.5 0 0 1 226.1 327.3"/></g><circle cx="113.3" cy="35.3" r=".9" fill="#8d8d8f"/><circle cx="113.3" cy="296.0" r=".9" fill="#8d8d8f"/></g><rect x="0.5" y="0.5" width="225.6" height="330.3" fill="none" stroke="#8d8d8f" stroke-width="1.1"/></svg>
<div style="left:810px;top:702.6px;width:27px;height:5.6px;background:#9c9c9e;border-radius:2px 2px 0 0;"></div>
<div style="left:810px;top:708.2px;width:27px;height:2.4px;background:#f4f4f4;"></div>
<div style="left:810px;top:1041.1px;width:27px;height:2.4px;background:#f4f4f4;"></div>
<div style="left:810px;top:1043.5px;width:27px;height:5.6px;background:#9c9c9e;border-radius:0 0 2px 2px;"></div>
<svg style="left:998.8px;top:710.2px;" width="226.6" height="331.3" viewBox="0 0 226.6 331.3"><g fill="none" stroke="#8d8d8f" stroke-width="1.1"><rect x="0.5" y="0.5" width="225.6" height="330.3"/><path d="M0.5 165.65H226.1"/><circle cx="113.3" cy="165.65" r="30"/><path d="M46.5 0.5V54.3H179.6V0.5M82.3 0.5V18.2H143.5V0.5"/><path d="M88 54.3A30.3 30.3 0 0 0 137 54.3"/><path d="M46.5 330.8V277.0H179.6V330.8M82.3 330.8V313.1H143.5V330.8"/><path d="M88 277.0A30.3 30.3 0 0 1 137 277.0"/><path d="M0.5 4A3.5 3.5 0 0 0 4 .5M222.6 .5A3.5 3.5 0 0 0 226.1 4M0.5 327.3A3.5 3.5 0 0 1 4 330.8M222.6 330.8A3.5 3.5 0 0 1 226.1 327.3"/></g><circle cx="113.3" cy="35.3" r=".9" fill="#8d8d8f"/><circle cx="113.3" cy="296.0" r=".9" fill="#8d8d8f"/><defs><filter id="h2a" x="-20%" y="-20%" width="140%" height="140%"><feGaussianBlur stdDeviation="5.6"/></filter><filter id="h2b" x="-20%" y="-20%" width="140%" height="140%"><feGaussianBlur stdDeviation="4.6"/></filter><filter id="h2c" x="-20%" y="-20%" width="140%" height="140%"><feGaussianBlur stdDeviation="3.6"/></filter><clipPath id="h2k"><rect x="0" y="0" width="226.6" height="331.3"/></clipPath></defs><g clip-path="url(#h2k)"><g filter="url(#h2a)" fill="#22229a" opacity="0.46"><ellipse cx="185.87" cy="41.47" rx="21.67" ry="16.67"/><ellipse cx="210.87" cy="78.13" rx="21.67" ry="41.67"/><ellipse cx="144.2" cy="103.13" rx="33.33" ry="20"/><ellipse cx="102.53" cy="124.8" rx="26.67" ry="18.33"/><ellipse cx="35.87" cy="124.8" rx="41.67" ry="25"/><ellipse cx="114.2" cy="61.47" rx="15" ry="10"/><ellipse cx="87.53" cy="48.13" rx="10" ry="8.33"/><ellipse cx="160.87" cy="144.8" rx="25" ry="18.33"/><ellipse cx="69.2" cy="161.47" rx="33.33" ry="15"/><ellipse cx="110.87" cy="201.47" rx="116.67" ry="50"/><ellipse cx="110.87" cy="253.13" rx="83.33" ry="18.33"/><ellipse cx="15.87" cy="279.8" rx="13.33" ry="13.33"/><ellipse cx="60.87" cy="283.13" rx="15" ry="11.67"/><ellipse cx="97.53" cy="293.13" rx="11.67" ry="11.67"/><ellipse cx="115.87" cy="321.47" rx="18.33" ry="11.67"/><ellipse cx="152.53" cy="304.8" rx="13.33" ry="13.33"/><ellipse cx="202.53" cy="309.8" rx="13.33" ry="13.33"/><ellipse cx="177.53" cy="288.13" rx="10" ry="10"/><ellipse cx="27.53" cy="318.13" rx="10" ry="10"/><ellipse cx="140.87" cy="273.13" rx="8.33" ry="8.33"/><ellipse cx="210.87" cy="276.47" rx="10" ry="10"/></g><g filter="url(#h2a)" fill="#3131fb" opacity="0.92"><ellipse cx="184.2" cy="39.8" rx="11" ry="11"/><ellipse cx="219.2" cy="94.8" rx="10" ry="12"/><ellipse cx="187.53" cy="108.13" rx="11" ry="11"/><ellipse cx="104.2" cy="123.13" rx="12" ry="12"/><ellipse cx="164.2" cy="141.47" rx="14" ry="14"/><ellipse cx="42.53" cy="118.13" rx="8" ry="8"/><ellipse cx="7.53" cy="126.47" rx="11" ry="14"/><ellipse cx="27.53" cy="154.8" rx="10" ry="10"/><ellipse cx="210.87" cy="128.13" rx="9" ry="9"/><ellipse cx="127.53" cy="111.47" rx="7" ry="7"/><ellipse cx="74.2" cy="158.97" rx="11" ry="11"/><ellipse cx="222.53" cy="161.47" rx="10" ry="10"/><ellipse cx="149.2" cy="94.8" rx="7" ry="7"/><ellipse cx="167.53" cy="183.13" rx="15" ry="15"/><ellipse cx="185.87" cy="181.47" rx="10" ry="10"/><ellipse cx="152.53" cy="209.8" rx="13" ry="13"/><ellipse cx="177.53" cy="219.8" rx="13" ry="13"/><ellipse cx="135.87" cy="233.13" rx="12" ry="12"/><ellipse cx="147.53" cy="239.8" rx="10" ry="10"/><ellipse cx="167.53" cy="199.8" rx="10" ry="10"/><ellipse cx="194.2" cy="204.8" rx="8" ry="8"/><ellipse cx="115.87" cy="249.8" rx="12" ry="12"/><ellipse cx="44.2" cy="179.8" rx="15" ry="15"/><ellipse cx="10.87" cy="179.8" rx="12" ry="12"/><ellipse cx="27.53" cy="234.8" rx="8" ry="8"/><ellipse cx="10.87" cy="239.8" rx="8" ry="8"/><ellipse cx="65.87" cy="253.13" rx="8" ry="8"/><ellipse cx="190.87" cy="256.47" rx="10" ry="10"/><ellipse cx="217.53" cy="226.47" rx="8" ry="8"/><ellipse cx="219.2" cy="201.47" rx="9" ry="9"/><ellipse cx="87.53" cy="193.13" rx="44" ry="30"/><ellipse cx="52.53" cy="218.13" rx="50" ry="22"/><ellipse cx="205.87" cy="244.8" rx="10" ry="7"/><ellipse cx="115.87" cy="319.8" rx="12" ry="7"/></g><g filter="url(#h2b)" fill="#1ee4f4" opacity="0.95"><ellipse cx="114.49" cy="169.7" rx="13.42" ry="13.42"/><ellipse cx="106.39" cy="181.05" rx="14.31" ry="14.31"/><ellipse cx="95.04" cy="190.77" rx="13.42" ry="13.42"/><ellipse cx="80.45" cy="197.26" rx="14.31" ry="14.31"/><ellipse cx="67.49" cy="198.88" rx="11.18" ry="11.18"/><ellipse cx="119.35" cy="197.26" rx="9.84" ry="9.84"/><ellipse cx="129.73" cy="202.12" rx="6.71" ry="6.71"/><ellipse cx="20.49" cy="197.26" rx="9.84" ry="9.84"/><ellipse cx="31.83" cy="210.22" rx="8.95" ry="8.95"/><ellipse cx="44.8" cy="219.95" rx="8.95" ry="8.95"/><ellipse cx="57.76" cy="228.05" rx="8.95" ry="8.95"/><ellipse cx="73.97" cy="232.91" rx="9.84" ry="9.84"/><ellipse cx="90.18" cy="234.53" rx="11.18" ry="11.18"/><ellipse cx="216.6" cy="177.81" rx="10.74" ry="13.42"/><ellipse cx="164.73" cy="140.53" rx="7.16" ry="7.16"/></g><g filter="url(#h2b)" fill="#38f85a" opacity="0.95"><ellipse cx="113.52" cy="170.68" rx="8.62" ry="8.62"/><ellipse cx="103.79" cy="182.67" rx="7.26" ry="7.26"/><ellipse cx="77.21" cy="197.26" rx="7.26" ry="5.45"/><ellipse cx="88.56" cy="232.91" rx="8.62" ry="6.81"/></g><g filter="url(#h2c)" fill="#c4ff20" opacity="0.95"><ellipse cx="113.52" cy="169.7" rx="2.72" ry="2.72"/></g></g><g opacity="0.75"><g fill="none" stroke="#8d8d8f" stroke-width="1.1"><rect x="0.5" y="0.5" width="225.6" height="330.3"/><path d="M0.5 165.65H226.1"/><circle cx="113.3" cy="165.65" r="30"/><path d="M46.5 0.5V54.3H179.6V0.5M82.3 0.5V18.2H143.5V0.5"/><path d="M88 54.3A30.3 30.3 0 0 0 137 54.3"/><path d="M46.5 330.8V277.0H179.6V330.8M82.3 330.8V313.1H143.5V330.8"/><path d="M88 277.0A30.3 30.3 0 0 1 137 277.0"/><path d="M0.5 4A3.5 3.5 0 0 0 4 .5M222.6 .5A3.5 3.5 0 0 0 226.1 4M0.5 327.3A3.5 3.5 0 0 1 4 330.8M222.6 330.8A3.5 3.5 0 0 1 226.1 327.3"/></g><circle cx="113.3" cy="35.3" r=".9" fill="#8d8d8f"/><circle cx="113.3" cy="296.0" r=".9" fill="#8d8d8f"/></g><rect x="0.5" y="0.5" width="225.6" height="330.3" fill="none" stroke="#8d8d8f" stroke-width="1.1"/></svg>
<div style="left:1098.6px;top:702.6px;width:27px;height:5.6px;background:#9c9c9e;border-radius:2px 2px 0 0;"></div>
<div style="left:1098.6px;top:708.2px;width:27px;height:2.4px;background:#f4f4f4;"></div>
<div style="left:1098.6px;top:1041.1px;width:27px;height:2.4px;background:#f4f4f4;"></div>
<div style="left:1098.6px;top:1043.5px;width:27px;height:5.6px;background:#9c9c9e;border-radius:0 0 2px 2px;"></div>
<div style="left:810.3px;top:817.7px;width:10.6px;height:10.6px;border-radius:50%;background:#e30611;box-shadow:0 0 0 .8px #4a0a6a"></div>
<span style="left:811.82px;top:819.74px;font-size:6.8px;color:#fff;font-weight:bold;">26</span>
<div style="left:760.7px;top:840.7px;width:10.6px;height:10.6px;border-radius:50%;background:#e30611;box-shadow:0 0 0 .8px #4a0a6a"></div>
<span style="left:762.22px;top:842.74px;font-size:6.8px;color:#fff;font-weight:bold;">14</span>
<div style="left:793.9px;top:841.7px;width:10.6px;height:10.6px;border-radius:50%;background:#e30611;box-shadow:0 0 0 .8px #4a0a6a"></div>
<span style="left:795.42px;top:843.74px;font-size:6.8px;color:#fff;font-weight:bold;">12</span>
<div style="left:863px;top:840.7px;width:10.6px;height:10.6px;border-radius:50%;background:#e30611;box-shadow:0 0 0 .8px #4a0a6a"></div>
<span style="left:864.52px;top:842.74px;font-size:6.8px;color:#fff;font-weight:bold;">25</span>
<div style="left:829.7px;top:851.7px;width:10.6px;height:10.6px;border-radius:50%;background:#e30611;box-shadow:0 0 0 .8px #4a0a6a"></div>
<span style="left:833.11px;top:853.74px;font-size:6.8px;color:#fff;font-weight:bold;">8</span>
<div style="left:810.3px;top:870.3px;width:10.6px;height:10.6px;border-radius:50%;background:#e30611;box-shadow:0 0 0 .8px #4a0a6a"></div>
<span style="left:813.71px;top:872.34px;font-size:6.8px;color:#fff;font-weight:bold;">5</span>
<div style="left:756px;top:881.3px;width:10.6px;height:10.6px;border-radius:50%;background:#e30611;box-shadow:0 0 0 .8px #4a0a6a"></div>
<span style="left:757.52px;top:883.34px;font-size:6.8px;color:#fff;font-weight:bold;">46</span>
<div style="left:867.2px;top:884.2px;width:10.6px;height:10.6px;border-radius:50%;background:#e30611;box-shadow:0 0 0 .8px #4a0a6a"></div>
<span style="left:870.61px;top:886.24px;font-size:6.8px;color:#fff;font-weight:bold;">2</span>
<div style="left:792.7px;top:897.3px;width:10.6px;height:10.6px;border-radius:50%;background:#e30611;box-shadow:0 0 0 .8px #4a0a6a"></div>
<span style="left:794.22px;top:899.34px;font-size:6.8px;color:#fff;font-weight:bold;">21</span>
<div style="left:831.7px;top:899.7px;width:10.6px;height:10.6px;border-radius:50%;background:#e30611;box-shadow:0 0 0 .8px #4a0a6a"></div>
<span style="left:833.22px;top:901.74px;font-size:6.8px;color:#fff;font-weight:bold;">17</span>
<div style="left:815.4px;top:992.1px;width:10.6px;height:10.6px;border-radius:50%;background:#e30611;box-shadow:0 0 0 .8px #4a0a6a"></div>
<span style="left:816.92px;top:994.14px;font-size:6.8px;color:#fff;font-weight:bold;">34</span>
<div style="left:1113.7px;top:860.2px;width:10.6px;height:10.6px;border-radius:50%;background:#fbfbff;box-shadow:0 0 0 .9px #4a2aa8"></div>
<span style="left:1115.22px;top:862.24px;font-size:6.8px;color:#1a1a2a;font-weight:bold;">24</span>
<div style="left:1058.9px;top:880.4px;width:10.6px;height:10.6px;border-radius:50%;background:#fbfbff;box-shadow:0 0 0 .9px #4a2aa8"></div>
<span style="left:1060.42px;top:882.44px;font-size:6.8px;color:#1a1a2a;font-weight:bold;">16</span>
<div style="left:1118.3px;top:886.3px;width:10.6px;height:10.6px;border-radius:50%;background:#fbfbff;box-shadow:0 0 0 .9px #4a2aa8"></div>
<span style="left:1119.82px;top:888.34px;font-size:6.8px;color:#1a1a2a;font-weight:bold;">22</span>
<div style="left:1161.2px;top:888px;width:10.6px;height:10.6px;border-radius:50%;background:#fbfbff;box-shadow:0 0 0 .9px #4a2aa8"></div>
<span style="left:1164.61px;top:890.04px;font-size:6.8px;color:#1a1a2a;font-weight:bold;">8</span>
<div style="left:1094.3px;top:903.2px;width:10.6px;height:10.6px;border-radius:50%;background:#fbfbff;box-shadow:0 0 0 .9px #4a2aa8"></div>
<span style="left:1095.82px;top:905.24px;font-size:6.8px;color:#1a1a2a;font-weight:bold;">21</span>
<div style="left:1122.5px;top:909.1px;width:10.6px;height:10.6px;border-radius:50%;background:#fbfbff;box-shadow:0 0 0 .9px #4a2aa8"></div>
<span style="left:1124.02px;top:911.14px;font-size:6.8px;color:#1a1a2a;font-weight:bold;">39</span>
<div style="left:1159.1px;top:923px;width:10.6px;height:10.6px;border-radius:50%;background:#fbfbff;box-shadow:0 0 0 .9px #4a2aa8"></div>
<span style="left:1162.51px;top:925.04px;font-size:6.8px;color:#1a1a2a;font-weight:bold;">2</span>
<div style="left:1075.3px;top:929.3px;width:10.6px;height:10.6px;border-radius:50%;background:#fbfbff;box-shadow:0 0 0 .9px #4a2aa8"></div>
<span style="left:1078.71px;top:931.34px;font-size:6.8px;color:#1a1a2a;font-weight:bold;">4</span>
<div style="left:1125px;top:936px;width:10.6px;height:10.6px;border-radius:50%;background:#fbfbff;box-shadow:0 0 0 .9px #4a2aa8"></div>
<span style="left:1126.52px;top:938.04px;font-size:6.8px;color:#1a1a2a;font-weight:bold;">15</span>
<div style="left:1097.2px;top:942.4px;width:10.6px;height:10.6px;border-radius:50%;background:#fbfbff;box-shadow:0 0 0 .9px #4a2aa8"></div>
<span style="left:1098.72px;top:944.44px;font-size:6.8px;color:#1a1a2a;font-weight:bold;">33</span>
<div style="left:1109.9px;top:1010.2px;width:10.6px;height:10.6px;border-radius:50%;background:#fbfbff;box-shadow:0 0 0 .9px #4a2aa8"></div>
<span style="left:1111.42px;top:1012.24px;font-size:6.8px;color:#1a1a2a;font-weight:bold;">12</span>
<svg style="left:1304.2px;top:655px;" width="283" height="404.8" viewBox="0 0 283 404.8"><defs><clipPath id="pc1304"><rect x="11.2" y="11.5" width="261.40000000000003" height="383.1"/></clipPath></defs><rect width="283" height="404.8" rx="3.5" fill="#469a44"/><g clip-path="url(#pc1304)"><circle cx="141.9" cy="203.05" r="293.3" fill="#419340"/><circle cx="141.9" cy="203.05" r="264.6" fill="#4a9d48"/><circle cx="141.9" cy="203.05" r="235.9" fill="#419340"/><circle cx="141.9" cy="203.05" r="207.2" fill="#4a9d48"/><circle cx="141.9" cy="203.05" r="178.5" fill="#419340"/><circle cx="141.9" cy="203.05" r="149.8" fill="#4a9d48"/><circle cx="141.9" cy="203.05" r="121.1" fill="#419340"/><circle cx="141.9" cy="203.05" r="92.4" fill="#4a9d48"/><circle cx="141.9" cy="203.05" r="63.7" fill="#419340"/><circle cx="141.9" cy="203.05" r="35" fill="#4a9d48"/></g><g fill="none" stroke="#b9e3ab" stroke-width="1.9"><rect x="11.2" y="11.5" width="261.40000000000003" height="383.1"/><path d="M11.2 203.05H272.6"/><circle cx="141.9" cy="203.05" r="34.6"/><path d="M65.2 11.5V75.2H219.8V11.5M106.8 11.5V33H177.8V11.5"/><path d="M113.4 75.2A35.4 35.4 0 0 0 170.4 75.2"/><path d="M65.2 394.6V329.6H219.8V394.6M106.8 394.6V371.8H177.8V394.6"/><path d="M113.4 329.6A35.4 35.4 0 0 1 170.4 329.6"/><path d="M11.2 16.5A5 5 0 0 0 16.2 11.5M267.6 11.5A5 5 0 0 0 272.6 16.5M11.2 389.6A5 5 0 0 1 16.2 394.6M267.6 394.6A5 5 0 0 1 272.6 389.6" stroke-width="1.4"/></g><circle cx="141.9" cy="203.05" r="1.3" fill="#b9e3ab"/></svg>
<svg style="left:1605.2px;top:655px;" width="283" height="404.8" viewBox="0 0 283 404.8"><defs><clipPath id="pc1605"><rect x="11.2" y="11.5" width="261.40000000000003" height="383.1"/></clipPath></defs><rect width="283" height="404.8" rx="3.5" fill="#469a44"/><g clip-path="url(#pc1605)"><circle cx="141.9" cy="203.05" r="293.3" fill="#419340"/><circle cx="141.9" cy="203.05" r="264.6" fill="#4a9d48"/><circle cx="141.9" cy="203.05" r="235.9" fill="#419340"/><circle cx="141.9" cy="203.05" r="207.2" fill="#4a9d48"/><circle cx="141.9" cy="203.05" r="178.5" fill="#419340"/><circle cx="141.9" cy="203.05" r="149.8" fill="#4a9d48"/><circle cx="141.9" cy="203.05" r="121.1" fill="#419340"/><circle cx="141.9" cy="203.05" r="92.4" fill="#4a9d48"/><circle cx="141.9" cy="203.05" r="63.7" fill="#419340"/><circle cx="141.9" cy="203.05" r="35" fill="#4a9d48"/></g><g fill="none" stroke="#b9e3ab" stroke-width="1.9"><rect x="11.2" y="11.5" width="261.40000000000003" height="383.1"/><path d="M11.2 203.05H272.6"/><circle cx="141.9" cy="203.05" r="34.6"/><path d="M65.2 11.5V75.2H219.8V11.5M106.8 11.5V33H177.8V11.5"/><path d="M113.4 75.2A35.4 35.4 0 0 0 170.4 75.2"/><path d="M65.2 394.6V329.6H219.8V394.6M106.8 394.6V371.8H177.8V394.6"/><path d="M113.4 329.6A35.4 35.4 0 0 1 170.4 329.6"/><path d="M11.2 16.5A5 5 0 0 0 16.2 11.5M267.6 11.5A5 5 0 0 0 272.6 16.5M11.2 389.6A5 5 0 0 1 16.2 394.6M267.6 394.6A5 5 0 0 1 272.6 389.6" stroke-width="1.4"/></g><circle cx="141.9" cy="203.05" r="1.3" fill="#b9e3ab"/></svg>
<svg style="left:1424.75px;top:672.21px;overflow:hidden" width="40.5" height="38.19" viewBox="0 0 70 66"><defs><clipPath id="sc5"><path d="M24 0.8 C29 4.5 40.5 4.5 45.5 0.8 L61.5 9.5 L69.5 35.5 L57.8 40.5 L56 34.5 L58 81 C48 86.5 21 86.5 12 81 L14.5 34.5 L12.3 41 L0.3 35.5 L9 8.5 Z"/></clipPath></defs><g clip-path="url(#sc5)"><rect width="70" height="90" fill="#d4151a"/><rect x="0" y="0" width="34.8" height="31" fill="#161616"/><rect x="34.8" y="31" width="40" height="60" fill="#161616"/><path d="M0 0H14.5L16 10 12 43 0 38z" fill="#d4151a"/><path d="M70 0H55.5L54 10 58 43 70 38z" fill="#161616"/><path d="M0 32L13 38 12 43 -1 38z" fill="#161616"/><path d="M57 38L70 32 71 38 58 43z" fill="#a01015"/><path d="M23 0C29 5.5 41 5.5 46.5 0L45 -1H25z" fill="#111"/><rect x="0" y="0" width="70" height="90" fill="url(#shade)"/></g></svg>
<span style="left:1434.99px;top:682.48px;font-size:18px;color:#f6e9e9;font-weight:bold;transform:scaleX(.68);transform-origin:50% 50%;text-shadow:0 0 1px rgba(90,0,0,.5);">26</span>
<svg style="left:1326.55px;top:829.71px;overflow:hidden" width="40.5" height="38.19" viewBox="0 0 70 66"><defs><clipPath id="sc6"><path d="M24 0.8 C29 4.5 40.5 4.5 45.5 0.8 L61.5 9.5 L69.5 35.5 L57.8 40.5 L56 34.5 L58 81 C48 86.5 21 86.5 12 81 L14.5 34.5 L12.3 41 L0.3 35.5 L9 8.5 Z"/></clipPath></defs><g clip-path="url(#sc6)"><rect width="70" height="90" fill="#d4151a"/><rect x="0" y="0" width="34.8" height="31" fill="#161616"/><rect x="34.8" y="31" width="40" height="60" fill="#161616"/><path d="M0 0H14.5L16 10 12 43 0 38z" fill="#d4151a"/><path d="M70 0H55.5L54 10 58 43 70 38z" fill="#161616"/><path d="M0 32L13 38 12 43 -1 38z" fill="#161616"/><path d="M57 38L70 32 71 38 58 43z" fill="#a01015"/><path d="M23 0C29 5.5 41 5.5 46.5 0L45 -1H25z" fill="#111"/><rect x="0" y="0" width="70" height="90" fill="url(#shade)"/></g></svg>
<span style="left:1336.79px;top:839.98px;font-size:18px;color:#f6e9e9;font-weight:bold;transform:scaleX(.68);transform-origin:50% 50%;text-shadow:0 0 1px rgba(90,0,0,.5);">14</span>
<svg style="left:1522.75px;top:829.71px;overflow:hidden" width="40.5" height="38.19" viewBox="0 0 70 66"><defs><clipPath id="sc7"><path d="M24 0.8 C29 4.5 40.5 4.5 45.5 0.8 L61.5 9.5 L69.5 35.5 L57.8 40.5 L56 34.5 L58 81 C48 86.5 21 86.5 12 81 L14.5 34.5 L12.3 41 L0.3 35.5 L9 8.5 Z"/></clipPath></defs><g clip-path="url(#sc7)"><rect width="70" height="90" fill="#d4151a"/><rect x="0" y="0" width="34.8" height="31" fill="#161616"/><rect x="34.8" y="31" width="40" height="60" fill="#161616"/><path d="M0 0H14.5L16 10 12 43 0 38z" fill="#d4151a"/><path d="M70 0H55.5L54 10 58 43 70 38z" fill="#161616"/><path d="M0 32L13 38 12 43 -1 38z" fill="#161616"/><path d="M57 38L70 32 71 38 58 43z" fill="#a01015"/><path d="M23 0C29 5.5 41 5.5 46.5 0L45 -1H25z" fill="#111"/><rect x="0" y="0" width="70" height="90" fill="url(#shade)"/></g></svg>
<span style="left:1532.99px;top:839.98px;font-size:18px;color:#f6e9e9;font-weight:bold;transform:scaleX(.68);transform-origin:50% 50%;text-shadow:0 0 1px rgba(90,0,0,.5);">25</span>
<svg style="left:1457.75px;top:831.71px;overflow:hidden" width="40.5" height="38.19" viewBox="0 0 70 66"><defs><clipPath id="sc8"><path d="M24 0.8 C29 4.5 40.5 4.5 45.5 0.8 L61.5 9.5 L69.5 35.5 L57.8 40.5 L56 34.5 L58 81 C48 86.5 21 86.5 12 81 L14.5 34.5 L12.3 41 L0.3 35.5 L9 8.5 Z"/></clipPath></defs><g clip-path="url(#sc8)"><rect width="70" height="90" fill="#d4151a"/><rect x="0" y="0" width="34.8" height="31" fill="#161616"/><rect x="34.8" y="31" width="40" height="60" fill="#161616"/><path d="M0 0H14.5L16 10 12 43 0 38z" fill="#d4151a"/><path d="M70 0H55.5L54 10 58 43 70 38z" fill="#161616"/><path d="M0 32L13 38 12 43 -1 38z" fill="#161616"/><path d="M57 38L70 32 71 38 58 43z" fill="#a01015"/><path d="M23 0C29 5.5 41 5.5 46.5 0L45 -1H25z" fill="#111"/><rect x="0" y="0" width="70" height="90" fill="url(#shade)"/></g></svg>
<span style="left:1473px;top:841.98px;font-size:18px;color:#f6e9e9;font-weight:bold;transform:scaleX(.68);transform-origin:50% 50%;text-shadow:0 0 1px rgba(90,0,0,.5);">8</span>
<svg style="left:1391.75px;top:834.71px;overflow:hidden" width="40.5" height="38.19" viewBox="0 0 70 66"><defs><clipPath id="sc9"><path d="M24 0.8 C29 4.5 40.5 4.5 45.5 0.8 L61.5 9.5 L69.5 35.5 L57.8 40.5 L56 34.5 L58 81 C48 86.5 21 86.5 12 81 L14.5 34.5 L12.3 41 L0.3 35.5 L9 8.5 Z"/></clipPath></defs><g clip-path="url(#sc9)"><rect width="70" height="90" fill="#d4151a"/><rect x="0" y="0" width="34.8" height="31" fill="#161616"/><rect x="34.8" y="31" width="40" height="60" fill="#161616"/><path d="M0 0H14.5L16 10 12 43 0 38z" fill="#d4151a"/><path d="M70 0H55.5L54 10 58 43 70 38z" fill="#161616"/><path d="M0 32L13 38 12 43 -1 38z" fill="#161616"/><path d="M57 38L70 32 71 38 58 43z" fill="#a01015"/><path d="M23 0C29 5.5 41 5.5 46.5 0L45 -1H25z" fill="#111"/><rect x="0" y="0" width="70" height="90" fill="url(#shade)"/></g></svg>
<span style="left:1401.99px;top:844.98px;font-size:18px;color:#f6e9e9;font-weight:bold;transform:scaleX(.68);transform-origin:50% 50%;text-shadow:0 0 1px rgba(90,0,0,.5);">12</span>
<svg style="left:1424.75px;top:900.51px;overflow:hidden" width="40.5" height="38.19" viewBox="0 0 70 66"><defs><clipPath id="sc10"><path d="M24 0.8 C29 4.5 40.5 4.5 45.5 0.8 L61.5 9.5 L69.5 35.5 L57.8 40.5 L56 34.5 L58 81 C48 86.5 21 86.5 12 81 L14.5 34.5 L12.3 41 L0.3 35.5 L9 8.5 Z"/></clipPath></defs><g clip-path="url(#sc10)"><rect width="70" height="90" fill="#d4151a"/><rect x="0" y="0" width="34.8" height="31" fill="#161616"/><rect x="34.8" y="31" width="40" height="60" fill="#161616"/><path d="M0 0H14.5L16 10 12 43 0 38z" fill="#d4151a"/><path d="M70 0H55.5L54 10 58 43 70 38z" fill="#161616"/><path d="M0 32L13 38 12 43 -1 38z" fill="#161616"/><path d="M57 38L70 32 71 38 58 43z" fill="#a01015"/><path d="M23 0C29 5.5 41 5.5 46.5 0L45 -1H25z" fill="#111"/><rect x="0" y="0" width="70" height="90" fill="url(#shade)"/></g></svg>
<span style="left:1440px;top:910.78px;font-size:18px;color:#f6e9e9;font-weight:bold;transform:scaleX(.68);transform-origin:50% 50%;text-shadow:0 0 1px rgba(90,0,0,.5);">5</span>
<svg style="left:1326.55px;top:940.51px;overflow:hidden" width="40.5" height="38.19" viewBox="0 0 70 66"><defs><clipPath id="sc11"><path d="M24 0.8 C29 4.5 40.5 4.5 45.5 0.8 L61.5 9.5 L69.5 35.5 L57.8 40.5 L56 34.5 L58 81 C48 86.5 21 86.5 12 81 L14.5 34.5 L12.3 41 L0.3 35.5 L9 8.5 Z"/></clipPath></defs><g clip-path="url(#sc11)"><rect width="70" height="90" fill="#d4151a"/><rect x="0" y="0" width="34.8" height="31" fill="#161616"/><rect x="34.8" y="31" width="40" height="60" fill="#161616"/><path d="M0 0H14.5L16 10 12 43 0 38z" fill="#d4151a"/><path d="M70 0H55.5L54 10 58 43 70 38z" fill="#161616"/><path d="M0 32L13 38 12 43 -1 38z" fill="#161616"/><path d="M57 38L70 32 71 38 58 43z" fill="#a01015"/><path d="M23 0C29 5.5 41 5.5 46.5 0L45 -1H25z" fill="#111"/><rect x="0" y="0" width="70" height="90" fill="url(#shade)"/></g></svg>
<span style="left:1336.79px;top:950.78px;font-size:18px;color:#f6e9e9;font-weight:bold;transform:scaleX(.68);transform-origin:50% 50%;text-shadow:0 0 1px rgba(90,0,0,.5);">46</span>
<svg style="left:1522.75px;top:940.51px;overflow:hidden" width="40.5" height="38.19" viewBox="0 0 70 66"><defs><clipPath id="sc12"><path d="M24 0.8 C29 4.5 40.5 4.5 45.5 0.8 L61.5 9.5 L69.5 35.5 L57.8 40.5 L56 34.5 L58 81 C48 86.5 21 86.5 12 81 L14.5 34.5 L12.3 41 L0.3 35.5 L9 8.5 Z"/></clipPath></defs><g clip-path="url(#sc12)"><rect width="70" height="90" fill="#d4151a"/><rect x="0" y="0" width="34.8" height="31" fill="#161616"/><rect x="34.8" y="31" width="40" height="60" fill="#161616"/><path d="M0 0H14.5L16 10 12 43 0 38z" fill="#d4151a"/><path d="M70 0H55.5L54 10 58 43 70 38z" fill="#161616"/><path d="M0 32L13 38 12 43 -1 38z" fill="#161616"/><path d="M57 38L70 32 71 38 58 43z" fill="#a01015"/><path d="M23 0C29 5.5 41 5.5 46.5 0L45 -1H25z" fill="#111"/><rect x="0" y="0" width="70" height="90" fill="url(#shade)"/></g></svg>
<span style="left:1538px;top:950.78px;font-size:18px;color:#f6e9e9;font-weight:bold;transform:scaleX(.68);transform-origin:50% 50%;text-shadow:0 0 1px rgba(90,0,0,.5);">2</span>
<svg style="left:1391.75px;top:943.51px;overflow:hidden" width="40.5" height="38.19" viewBox="0 0 70 66"><defs><clipPath id="sc13"><path d="M24 0.8 C29 4.5 40.5 4.5 45.5 0.8 L61.5 9.5 L69.5 35.5 L57.8 40.5 L56 34.5 L58 81 C48 86.5 21 86.5 12 81 L14.5 34.5 L12.3 41 L0.3 35.5 L9 8.5 Z"/></clipPath></defs><g clip-path="url(#sc13)"><rect width="70" height="90" fill="#d4151a"/><rect x="0" y="0" width="34.8" height="31" fill="#161616"/><rect x="34.8" y="31" width="40" height="60" fill="#161616"/><path d="M0 0H14.5L16 10 12 43 0 38z" fill="#d4151a"/><path d="M70 0H55.5L54 10 58 43 70 38z" fill="#161616"/><path d="M0 32L13 38 12 43 -1 38z" fill="#161616"/><path d="M57 38L70 32 71 38 58 43z" fill="#a01015"/><path d="M23 0C29 5.5 41 5.5 46.5 0L45 -1H25z" fill="#111"/><rect x="0" y="0" width="70" height="90" fill="url(#shade)"/></g></svg>
<span style="left:1401.99px;top:953.78px;font-size:18px;color:#f6e9e9;font-weight:bold;transform:scaleX(.68);transform-origin:50% 50%;text-shadow:0 0 1px rgba(90,0,0,.5);">21</span>
<svg style="left:1457.75px;top:943.51px;overflow:hidden" width="40.5" height="38.19" viewBox="0 0 70 66"><defs><clipPath id="sc14"><path d="M24 0.8 C29 4.5 40.5 4.5 45.5 0.8 L61.5 9.5 L69.5 35.5 L57.8 40.5 L56 34.5 L58 81 C48 86.5 21 86.5 12 81 L14.5 34.5 L12.3 41 L0.3 35.5 L9 8.5 Z"/></clipPath></defs><g clip-path="url(#sc14)"><rect width="70" height="90" fill="#d4151a"/><rect x="0" y="0" width="34.8" height="31" fill="#161616"/><rect x="34.8" y="31" width="40" height="60" fill="#161616"/><path d="M0 0H14.5L16 10 12 43 0 38z" fill="#d4151a"/><path d="M70 0H55.5L54 10 58 43 70 38z" fill="#161616"/><path d="M0 32L13 38 12 43 -1 38z" fill="#161616"/><path d="M57 38L70 32 71 38 58 43z" fill="#a01015"/><path d="M23 0C29 5.5 41 5.5 46.5 0L45 -1H25z" fill="#111"/><rect x="0" y="0" width="70" height="90" fill="url(#shade)"/></g></svg>
<span style="left:1467.99px;top:953.78px;font-size:18px;color:#f6e9e9;font-weight:bold;transform:scaleX(.68);transform-origin:50% 50%;text-shadow:0 0 1px rgba(90,0,0,.5);">17</span>
<svg style="left:1424.75px;top:1000.31px;overflow:hidden" width="40.5" height="38.19" viewBox="0 0 70 66"><defs><clipPath id="sc15"><path d="M24 0.8 C29 4.5 40.5 4.5 45.5 0.8 L60 9 L65.5 34 L64.5 70 H55.5 L56 36 L57.5 81 C48 86.5 22 86.5 12.5 81 L14 36 L14.5 70 H5.5 L4.5 34 L10 9 Z"/></clipPath></defs><g clip-path="url(#sc15)"><rect width="70" height="90" fill="#1f9a4e"/><path d="M4 44H14.5V90H4z" fill="#e8801e"/><path d="M66 44H55.5V90H66z" fill="#e8801e"/><path d="M14 36V90M56 36V90" stroke="#0f6a34" stroke-width="1.2"/><path d="M23 0C29 5 41 5 46.5 0L45 -1H25z" fill="#e8801e"/><rect x="0" y="0" width="70" height="90" fill="url(#shade)"/></g></svg>
<span style="left:1434.99px;top:1010.58px;font-size:18px;color:#f6e9e9;font-weight:bold;transform:scaleX(.68);transform-origin:50% 50%;text-shadow:0 0 1px rgba(90,0,0,.5);">34</span>
<div style="left:1416px;top:710px;width:58px;height:15px;background:#655a90;"></div>
<span style="left:1426.56px;top:712.96px;font-size:9.5px;color:#eceaf0;letter-spacing:0.25px;">Tedesco</span>
<div style="left:1317.8px;top:867.5px;width:58px;height:15px;background:#424c58;"></div>
<span style="left:1332.71px;top:870.46px;font-size:9.5px;color:#eceaf0;letter-spacing:0.25px;">Bashir</span>
<div style="left:1514px;top:867.5px;width:58px;height:15px;background:#424c58;"></div>
<span style="left:1521.14px;top:870.46px;font-size:9.5px;color:#eceaf0;letter-spacing:0.25px;">Lankester</span>
<div style="left:1449px;top:869.5px;width:58px;height:15px;background:#424c58;"></div>
<span style="left:1467.33px;top:872.46px;font-size:9.5px;color:#eceaf0;letter-spacing:0.25px;">Gray</span>
<div style="left:1383px;top:872.5px;width:58px;height:15px;background:#424c58;"></div>
<span style="left:1392.64px;top:875.46px;font-size:9.5px;color:#eceaf0;letter-spacing:0.25px;">Ouattara</span>
<div style="left:1416px;top:938.3px;width:58px;height:15px;background:#6b7686;"></div>
<span style="left:1419.45px;top:941.26px;font-size:9.5px;color:#eceaf0;letter-spacing:0.25px;">Uzochukwu</span>
<div style="left:1317.8px;top:978.3px;width:58px;height:15px;background:#3d5b79;"></div>
<span style="left:1330.21px;top:981.26px;font-size:9.5px;color:#eceaf0;letter-spacing:0.25px;">Garbutt</span>
<div style="left:1514px;top:978.3px;width:58px;height:15px;background:#3d5b79;"></div>
<span style="left:1525.62px;top:981.26px;font-size:9.5px;color:#eceaf0;letter-spacing:0.25px;">Battrum</span>
<div style="left:1383px;top:981.3px;width:58px;height:15px;background:#3d5b79;"></div>
<span style="left:1394.09px;top:984.26px;font-size:9.5px;color:#eceaf0;letter-spacing:0.25px;">Fanning</span>
<div style="left:1449px;top:981.3px;width:58px;height:15px;background:#3d5b79;"></div>
<span style="left:1461.01px;top:984.26px;font-size:9.5px;color:#eceaf0;letter-spacing:0.25px;">Romani</span>
<div style="left:1416px;top:1038.1px;width:58px;height:15px;background:#6c6557;"></div>
<span style="left:1420.12px;top:1041.06px;font-size:9.5px;color:#eceaf0;letter-spacing:0.25px;">Terenowicz</span>
<svg style="left:1725.55px;top:677.01px;overflow:hidden" width="40.5" height="38.19" viewBox="0 0 70 66"><defs><clipPath id="sc16"><path d="M24 0.8 C29 4.5 40.5 4.5 45.5 0.8 L61.5 9.5 L69.5 35.5 L57.8 40.5 L56 34.5 L58 81 C48 86.5 21 86.5 12 81 L14.5 34.5 L12.3 41 L0.3 35.5 L9 8.5 Z"/></clipPath></defs><g clip-path="url(#sc16)"><rect width="70" height="90" fill="url(#lutg)"/><path d="M0 33L13 39 12 43 -1 38z" fill="#3a3560"/><path d="M57 39L70 33 71 38 58 43z" fill="#3a3560"/><path d="M23 0C29 5 41 5 46.5 0L45 -1H25z" fill="#4a4468"/><rect x="0" y="0" width="70" height="90" fill="url(#shade)"/></g></svg>
<span style="left:1735.79px;top:687.28px;font-size:18px;color:#f6e9e9;font-weight:bold;transform:scaleX(.68);transform-origin:50% 50%;text-shadow:0 0 1px rgba(90,0,0,.5);">24</span>
<svg style="left:1620.75px;top:741.01px;overflow:hidden" width="40.5" height="38.19" viewBox="0 0 70 66"><defs><clipPath id="sc17"><path d="M24 0.8 C29 4.5 40.5 4.5 45.5 0.8 L61.5 9.5 L69.5 35.5 L57.8 40.5 L56 34.5 L58 81 C48 86.5 21 86.5 12 81 L14.5 34.5 L12.3 41 L0.3 35.5 L9 8.5 Z"/></clipPath></defs><g clip-path="url(#sc17)"><rect width="70" height="90" fill="url(#lutg)"/><path d="M0 33L13 39 12 43 -1 38z" fill="#3a3560"/><path d="M57 39L70 33 71 38 58 43z" fill="#3a3560"/><path d="M23 0C29 5 41 5 46.5 0L45 -1H25z" fill="#4a4468"/><rect x="0" y="0" width="70" height="90" fill="url(#shade)"/></g></svg>
<span style="left:1630.99px;top:751.28px;font-size:18px;color:#f6e9e9;font-weight:bold;transform:scaleX(.68);transform-origin:50% 50%;text-shadow:0 0 1px rgba(90,0,0,.5);">16</span>
<svg style="left:1830.35px;top:745.71px;overflow:hidden" width="40.5" height="38.19" viewBox="0 0 70 66"><defs><clipPath id="sc18"><path d="M24 0.8 C29 4.5 40.5 4.5 45.5 0.8 L61.5 9.5 L69.5 35.5 L57.8 40.5 L56 34.5 L58 81 C48 86.5 21 86.5 12 81 L14.5 34.5 L12.3 41 L0.3 35.5 L9 8.5 Z"/></clipPath></defs><g clip-path="url(#sc18)"><rect width="70" height="90" fill="url(#lutg)"/><path d="M0 33L13 39 12 43 -1 38z" fill="#3a3560"/><path d="M57 39L70 33 71 38 58 43z" fill="#3a3560"/><path d="M23 0C29 5 41 5 46.5 0L45 -1H25z" fill="#4a4468"/><rect x="0" y="0" width="70" height="90" fill="url(#shade)"/></g></svg>
<span style="left:1845.6px;top:755.98px;font-size:18px;color:#f6e9e9;font-weight:bold;transform:scaleX(.68);transform-origin:50% 50%;text-shadow:0 0 1px rgba(90,0,0,.5);">8</span>
<svg style="left:1725.15px;top:748.51px;overflow:hidden" width="40.5" height="38.19" viewBox="0 0 70 66"><defs><clipPath id="sc19"><path d="M24 0.8 C29 4.5 40.5 4.5 45.5 0.8 L61.5 9.5 L69.5 35.5 L57.8 40.5 L56 34.5 L58 81 C48 86.5 21 86.5 12 81 L14.5 34.5 L12.3 41 L0.3 35.5 L9 8.5 Z"/></clipPath></defs><g clip-path="url(#sc19)"><rect width="70" height="90" fill="url(#lutg)"/><path d="M0 33L13 39 12 43 -1 38z" fill="#3a3560"/><path d="M57 39L70 33 71 38 58 43z" fill="#3a3560"/><path d="M23 0C29 5 41 5 46.5 0L45 -1H25z" fill="#4a4468"/><rect x="0" y="0" width="70" height="90" fill="url(#shade)"/></g></svg>
<span style="left:1735.39px;top:758.78px;font-size:18px;color:#f6e9e9;font-weight:bold;transform:scaleX(.68);transform-origin:50% 50%;text-shadow:0 0 1px rgba(90,0,0,.5);">22</span>
<svg style="left:1692.25px;top:872.31px;overflow:hidden" width="40.5" height="38.19" viewBox="0 0 70 66"><defs><clipPath id="sc20"><path d="M24 0.8 C29 4.5 40.5 4.5 45.5 0.8 L61.5 9.5 L69.5 35.5 L57.8 40.5 L56 34.5 L58 81 C48 86.5 21 86.5 12 81 L14.5 34.5 L12.3 41 L0.3 35.5 L9 8.5 Z"/></clipPath></defs><g clip-path="url(#sc20)"><rect width="70" height="90" fill="url(#lutg)"/><path d="M0 33L13 39 12 43 -1 38z" fill="#3a3560"/><path d="M57 39L70 33 71 38 58 43z" fill="#3a3560"/><path d="M23 0C29 5 41 5 46.5 0L45 -1H25z" fill="#4a4468"/><rect x="0" y="0" width="70" height="90" fill="url(#shade)"/></g></svg>
<span style="left:1702.49px;top:882.58px;font-size:18px;color:#f6e9e9;font-weight:bold;transform:scaleX(.68);transform-origin:50% 50%;text-shadow:0 0 1px rgba(90,0,0,.5);">21</span>
<svg style="left:1758.75px;top:880.71px;overflow:hidden" width="40.5" height="38.19" viewBox="0 0 70 66"><defs><clipPath id="sc21"><path d="M24 0.8 C29 4.5 40.5 4.5 45.5 0.8 L61.5 9.5 L69.5 35.5 L57.8 40.5 L56 34.5 L58 81 C48 86.5 21 86.5 12 81 L14.5 34.5 L12.3 41 L0.3 35.5 L9 8.5 Z"/></clipPath></defs><g clip-path="url(#sc21)"><rect width="70" height="90" fill="url(#lutg)"/><path d="M0 33L13 39 12 43 -1 38z" fill="#3a3560"/><path d="M57 39L70 33 71 38 58 43z" fill="#3a3560"/><path d="M23 0C29 5 41 5 46.5 0L45 -1H25z" fill="#4a4468"/><rect x="0" y="0" width="70" height="90" fill="url(#shade)"/></g></svg>
<span style="left:1768.99px;top:890.98px;font-size:18px;color:#f6e9e9;font-weight:bold;transform:scaleX(.68);transform-origin:50% 50%;text-shadow:0 0 1px rgba(90,0,0,.5);">39</span>
<svg style="left:1823.65px;top:935.51px;overflow:hidden" width="40.5" height="38.19" viewBox="0 0 70 66"><defs><clipPath id="sc22"><path d="M24 0.8 C29 4.5 40.5 4.5 45.5 0.8 L61.5 9.5 L69.5 35.5 L57.8 40.5 L56 34.5 L58 81 C48 86.5 21 86.5 12 81 L14.5 34.5 L12.3 41 L0.3 35.5 L9 8.5 Z"/></clipPath></defs><g clip-path="url(#sc22)"><rect width="70" height="90" fill="url(#lutg)"/><path d="M0 33L13 39 12 43 -1 38z" fill="#3a3560"/><path d="M57 39L70 33 71 38 58 43z" fill="#3a3560"/><path d="M23 0C29 5 41 5 46.5 0L45 -1H25z" fill="#4a4468"/><rect x="0" y="0" width="70" height="90" fill="url(#shade)"/></g></svg>
<span style="left:1838.9px;top:945.78px;font-size:18px;color:#f6e9e9;font-weight:bold;transform:scaleX(.68);transform-origin:50% 50%;text-shadow:0 0 1px rgba(90,0,0,.5);">2</span>
<svg style="left:1627.45px;top:940.51px;overflow:hidden" width="40.5" height="38.19" viewBox="0 0 70 66"><defs><clipPath id="sc23"><path d="M24 0.8 C29 4.5 40.5 4.5 45.5 0.8 L61.5 9.5 L69.5 35.5 L57.8 40.5 L56 34.5 L58 81 C48 86.5 21 86.5 12 81 L14.5 34.5 L12.3 41 L0.3 35.5 L9 8.5 Z"/></clipPath></defs><g clip-path="url(#sc23)"><rect width="70" height="90" fill="url(#lutg)"/><path d="M0 33L13 39 12 43 -1 38z" fill="#3a3560"/><path d="M57 39L70 33 71 38 58 43z" fill="#3a3560"/><path d="M23 0C29 5 41 5 46.5 0L45 -1H25z" fill="#4a4468"/><rect x="0" y="0" width="70" height="90" fill="url(#shade)"/></g></svg>
<span style="left:1642.7px;top:950.78px;font-size:18px;color:#f6e9e9;font-weight:bold;transform:scaleX(.68);transform-origin:50% 50%;text-shadow:0 0 1px rgba(90,0,0,.5);">4</span>
<svg style="left:1692.25px;top:943.51px;overflow:hidden" width="40.5" height="38.19" viewBox="0 0 70 66"><defs><clipPath id="sc24"><path d="M24 0.8 C29 4.5 40.5 4.5 45.5 0.8 L61.5 9.5 L69.5 35.5 L57.8 40.5 L56 34.5 L58 81 C48 86.5 21 86.5 12 81 L14.5 34.5 L12.3 41 L0.3 35.5 L9 8.5 Z"/></clipPath></defs><g clip-path="url(#sc24)"><rect width="70" height="90" fill="url(#lutg)"/><path d="M0 33L13 39 12 43 -1 38z" fill="#3a3560"/><path d="M57 39L70 33 71 38 58 43z" fill="#3a3560"/><path d="M23 0C29 5 41 5 46.5 0L45 -1H25z" fill="#4a4468"/><rect x="0" y="0" width="70" height="90" fill="url(#shade)"/></g></svg>
<span style="left:1702.49px;top:953.78px;font-size:18px;color:#f6e9e9;font-weight:bold;transform:scaleX(.68);transform-origin:50% 50%;text-shadow:0 0 1px rgba(90,0,0,.5);">33</span>
<svg style="left:1758.75px;top:943.51px;overflow:hidden" width="40.5" height="38.19" viewBox="0 0 70 66"><defs><clipPath id="sc25"><path d="M24 0.8 C29 4.5 40.5 4.5 45.5 0.8 L61.5 9.5 L69.5 35.5 L57.8 40.5 L56 34.5 L58 81 C48 86.5 21 86.5 12 81 L14.5 34.5 L12.3 41 L0.3 35.5 L9 8.5 Z"/></clipPath></defs><g clip-path="url(#sc25)"><rect width="70" height="90" fill="url(#lutg)"/><path d="M0 33L13 39 12 43 -1 38z" fill="#3a3560"/><path d="M57 39L70 33 71 38 58 43z" fill="#3a3560"/><path d="M23 0C29 5 41 5 46.5 0L45 -1H25z" fill="#4a4468"/><rect x="0" y="0" width="70" height="90" fill="url(#shade)"/></g></svg>
<span style="left:1768.99px;top:953.78px;font-size:18px;color:#f6e9e9;font-weight:bold;transform:scaleX(.68);transform-origin:50% 50%;text-shadow:0 0 1px rgba(90,0,0,.5);">15</span>
<svg style="left:1725.15px;top:998.71px;overflow:hidden" width="40.5" height="38.19" viewBox="0 0 70 66"><defs><clipPath id="sc26"><path d="M24 0.8 C29 4.5 40.5 4.5 45.5 0.8 L60 9 L65.5 34 L64.5 70 H55.5 L56 36 L57.5 81 C48 86.5 22 86.5 12.5 81 L14 36 L14.5 70 H5.5 L4.5 34 L10 9 Z"/></clipPath></defs><g clip-path="url(#sc26)"><rect width="70" height="90" fill="#62e27e"/><path d="M23 0C29 5 41 5 46.5 0L45 -1H25z" fill="#e85aa0"/><path d="M4 40H14.5V90H4z" fill="#a8e8b8"/><path d="M66 40H55.5V90H66z" fill="#a8e8b8"/><path d="M14 36V90M56 36V90" stroke="#3fbf60" stroke-width="1.2"/><rect x="0" y="0" width="70" height="90" fill="url(#shade)"/></g></svg>
<span style="left:1735.39px;top:1008.98px;font-size:18px;color:#f6e9e9;font-weight:bold;transform:scaleX(.68);transform-origin:50% 50%;text-shadow:0 0 1px rgba(90,0,0,.5);">12</span>
<div style="left:1716.8px;top:714.8px;width:58px;height:15px;background:#655a90;"></div>
<span style="left:1727.76px;top:717.76px;font-size:9.5px;color:#eceaf0;letter-spacing:0.25px;">Allahyar</span>
<div style="left:1612px;top:778.8px;width:58px;height:15px;background:#232b36;"></div>
<span style="left:1622.29px;top:781.76px;font-size:9.5px;color:#eceaf0;letter-spacing:0.25px;">Andrade</span>
<div style="left:1821.6px;top:783.5px;width:58px;height:15px;background:#232b36;"></div>
<span style="left:1833.75px;top:786.46px;font-size:9.5px;color:#eceaf0;letter-spacing:0.25px;">Barceló</span>
<div style="left:1716.4px;top:786.3px;width:58px;height:15px;background:#232b36;"></div>
<span style="left:1719.95px;top:789.26px;font-size:9.5px;color:#eceaf0;letter-spacing:0.25px;">Pablo Torre</span>
<div style="left:1683.5px;top:910.1px;width:58px;height:15px;background:#6b7686;"></div>
<span style="left:1697.74px;top:913.06px;font-size:9.5px;color:#eceaf0;letter-spacing:0.25px;">Ekwah</span>
<div style="left:1750px;top:918.5px;width:58px;height:15px;background:#6b7686;"></div>
<span style="left:1759.24px;top:921.46px;font-size:9.5px;color:#eceaf0;letter-spacing:0.25px;">Bateman</span>
<div style="left:1814.9px;top:973.3px;width:58px;height:15px;background:#3d5b79;"></div>
<span style="left:1827.96px;top:976.26px;font-size:9.5px;color:#eceaf0;letter-spacing:0.25px;">Kaboré</span>
<div style="left:1618.7px;top:978.3px;width:58px;height:15px;background:#3d5b79;"></div>
<span style="left:1632.7px;top:981.26px;font-size:9.5px;color:#eceaf0;letter-spacing:0.25px;">Barrett</span>
<div style="left:1683.5px;top:981.3px;width:58px;height:15px;background:#3d5b79;"></div>
<span style="left:1694.32px;top:984.26px;font-size:9.5px;color:#eceaf0;letter-spacing:0.25px;">Douglas</span>
<div style="left:1750px;top:981.3px;width:58px;height:15px;background:#3d5b79;"></div>
<span style="left:1755.55px;top:984.26px;font-size:9.5px;color:#eceaf0;letter-spacing:0.25px;">Sepúlveda</span>
<div style="left:1716.4px;top:1036.5px;width:58px;height:15px;background:#6c6557;"></div>
<span style="left:1723.46px;top:1039.46px;font-size:9.5px;color:#eceaf0;letter-spacing:0.25px;">Wahlstedt</span>
</body></html>
